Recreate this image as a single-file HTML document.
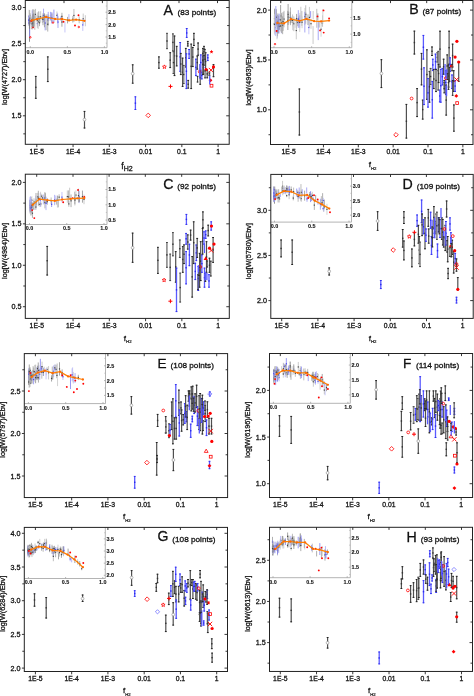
<!DOCTYPE html>
<html><head><meta charset="utf-8"><style>
html,body{margin:0;padding:0;background:#fff;}
svg{display:block;will-change:transform;}
text{font-family:"Liberation Sans", sans-serif;fill:#111;stroke:#111;stroke-width:0.28px;}
</style></head><body>
<svg width="474" height="696" viewBox="0 0 474 696">
<rect width="474" height="696" fill="#fff"/>
<g>
<path d="M35.8 76V98.7" stroke="#505050" stroke-width="1.2" fill="none"/>
<path d="M34.9 76.4H36.7M34.9 98.3H36.7" stroke="#222" stroke-width="1" fill="none"/>
<rect x="35.1" y="86.65" width="1.4" height="1.4" fill="#333"/>
<path d="M47.8 56.5V82" stroke="#505050" stroke-width="1.2" fill="none"/>
<path d="M46.9 56.9H48.7M46.9 81.6H48.7" stroke="#222" stroke-width="1" fill="none"/>
<rect x="47.1" y="68.55" width="1.4" height="1.4" fill="#333"/>
<path d="M84.5 111V128.4" stroke="#505050" stroke-width="1.2" fill="none"/>
<path d="M83.6 111.4H85.4M83.6 128H85.4" stroke="#222" stroke-width="1" fill="none"/>
<circle cx="84.5" cy="119.6" r="1.4" fill="#fff" stroke="#9a9a9a" stroke-width="0.7"/>
<path d="M132.7 64.4V83.6" stroke="#505050" stroke-width="1.2" fill="none"/>
<path d="M131.8 64.8H133.6M131.8 83.2H133.6" stroke="#222" stroke-width="1" fill="none"/>
<circle cx="132.7" cy="73.7" r="1.4" fill="#fff" stroke="#9a9a9a" stroke-width="0.7"/>
<path d="M135.4 96.4V109.9" stroke="#5a5aff" stroke-width="1.3" fill="none"/>
<path d="M134.5 96.8H136.3M134.5 109.5H136.3" stroke="#3030f0" stroke-width="1" fill="none"/>
<rect x="134.7" y="102.45" width="1.4" height="1.4" fill="#2a2aee"/>
<path d="M148.2 113.1L150.5 115.4L148.2 117.7L145.9 115.4Z" fill="none" stroke="#ff0000" stroke-width="0.8"/>
<path d="M164.4 64.9L164.93 66.17L166.3 66.28L165.26 67.18L165.58 68.52L164.4 67.8L163.22 68.52L163.54 67.18L162.5 66.28L163.87 66.17Z" fill="none" stroke="#ff0000" stroke-width="0.8"/>
<path d="M168.5 86.4H172.5M170.5 84.4V88.4" stroke="#ff0000" stroke-width="1"/>
<path d="M158.9 56.5V68.6" stroke="#505050" stroke-width="1.2" fill="none"/>
<path d="M158 56.9H159.8M158 68.2H159.8" stroke="#222" stroke-width="1" fill="none"/>
<rect x="158.2" y="61.85" width="1.4" height="1.4" fill="#333"/>
<path d="M167 32.9V49.1" stroke="#8a8a8a" stroke-width="1.6" fill="none"/>
<path d="M166.1 33.3H167.9M166.1 48.7H167.9" stroke="#444" stroke-width="1" fill="none"/>
<rect x="166.3" y="40.3" width="1.4" height="1.4" fill="#333"/>
<path d="M170.2 52.3V68" stroke="#505050" stroke-width="1.2" fill="none"/>
<path d="M169.3 52.7H171.1M169.3 67.6H171.1" stroke="#222" stroke-width="1" fill="none"/>
<rect x="169.5" y="59.45" width="1.4" height="1.4" fill="#333"/>
<path d="M172.9 33.5V51.3" stroke="#8a8a8a" stroke-width="1.6" fill="none"/>
<path d="M172 33.9H173.8M172 50.9H173.8" stroke="#444" stroke-width="1" fill="none"/>
<rect x="172.2" y="41.7" width="1.4" height="1.4" fill="#333"/>
<path d="M174.5 35.6V76" stroke="#505050" stroke-width="1.2" fill="none"/>
<path d="M173.6 36H175.4M173.6 75.6H175.4" stroke="#222" stroke-width="1" fill="none"/>
<rect x="173.8" y="55.1" width="1.4" height="1.4" fill="#333"/>
<path d="M173.5 51.3V73.9" stroke="#8a8a8a" stroke-width="1.6" fill="none"/>
<path d="M172.6 51.7H174.4M172.6 73.5H174.4" stroke="#444" stroke-width="1" fill="none"/>
<rect x="172.8" y="61.9" width="1.4" height="1.4" fill="#333"/>
<path d="M176.7 45.9V66.3" stroke="#505050" stroke-width="1.2" fill="none"/>
<path d="M175.8 46.3H177.6M175.8 65.9H177.6" stroke="#222" stroke-width="1" fill="none"/>
<rect x="176" y="55.4" width="1.4" height="1.4" fill="#333"/>
<path d="M180.2 42.1V71.7" stroke="#5a5aff" stroke-width="1.3" fill="none"/>
<path d="M179.3 42.5H181.1M179.3 71.3H181.1" stroke="#3030f0" stroke-width="1" fill="none"/>
<rect x="179.5" y="56.2" width="1.4" height="1.4" fill="#2a2aee"/>
<path d="M180.8 53V75" stroke="#505050" stroke-width="1.2" fill="none"/>
<path d="M179.9 53.4H181.7M179.9 74.6H181.7" stroke="#222" stroke-width="1" fill="none"/>
<rect x="180.1" y="63.3" width="1.4" height="1.4" fill="#333"/>
<path d="M182.6 57.7V86.8" stroke="#505050" stroke-width="1.2" fill="none"/>
<path d="M181.7 58.1H183.5M181.7 86.4H183.5" stroke="#222" stroke-width="1" fill="none"/>
<rect x="181.9" y="71.55" width="1.4" height="1.4" fill="#333"/>
<path d="M183.7 65V84" stroke="#8a8a8a" stroke-width="1.6" fill="none"/>
<path d="M182.8 65.4H184.6M182.8 83.6H184.6" stroke="#444" stroke-width="1" fill="none"/>
<rect x="183" y="73.8" width="1.4" height="1.4" fill="#333"/>
<path d="M185.8 48V67.4" stroke="#505050" stroke-width="1.2" fill="none"/>
<path d="M184.9 48.4H186.7M184.9 67H186.7" stroke="#222" stroke-width="1" fill="none"/>
<rect x="185.1" y="57" width="1.4" height="1.4" fill="#333"/>
<path d="M186.7 28.1V37.8" stroke="#5a5aff" stroke-width="1.3" fill="none"/>
<path d="M185.8 28.5H187.6M185.8 37.4H187.6" stroke="#3030f0" stroke-width="1" fill="none"/>
<rect x="186" y="32.25" width="1.4" height="1.4" fill="#2a2aee"/>
<path d="M186.4 53.4V89" stroke="#5a5aff" stroke-width="1.3" fill="none"/>
<path d="M185.5 53.8H187.3M185.5 88.6H187.3" stroke="#3030f0" stroke-width="1" fill="none"/>
<rect x="185.7" y="70.5" width="1.4" height="1.4" fill="#2a2aee"/>
<path d="M187.8 41V46.4" stroke="#505050" stroke-width="1.2" fill="none"/>
<path d="M186.9 41.4H188.7M186.9 46H188.7" stroke="#222" stroke-width="1" fill="none"/>
<rect x="187.1" y="43" width="1.4" height="1.4" fill="#333"/>
<path d="M189.1 49.1V58.8" stroke="#5a5aff" stroke-width="1.3" fill="none"/>
<path d="M188.2 49.5H190M188.2 58.4H190" stroke="#3030f0" stroke-width="1" fill="none"/>
<rect x="188.4" y="53.25" width="1.4" height="1.4" fill="#2a2aee"/>
<path d="M188.2 80V88.5" stroke="#505050" stroke-width="1.2" fill="none"/>
<path d="M187.3 80.4H189.1M187.3 88.1H189.1" stroke="#222" stroke-width="1" fill="none"/>
<rect x="187.5" y="83.55" width="1.4" height="1.4" fill="#333"/>
<path d="M191.2 43.7V89" stroke="#505050" stroke-width="1.2" fill="none"/>
<path d="M190.3 44.1H192.1M190.3 88.6H192.1" stroke="#222" stroke-width="1" fill="none"/>
<rect x="190.5" y="65.65" width="1.4" height="1.4" fill="#333"/>
<path d="M192.8 47V67" stroke="#505050" stroke-width="1.2" fill="none"/>
<path d="M191.9 47.4H193.7M191.9 66.6H193.7" stroke="#222" stroke-width="1" fill="none"/>
<rect x="192.1" y="56.3" width="1.4" height="1.4" fill="#333"/>
<path d="M193.9 32.9V45.9" stroke="#505050" stroke-width="1.2" fill="none"/>
<path d="M193 33.3H194.8M193 45.5H194.8" stroke="#222" stroke-width="1" fill="none"/>
<rect x="193.2" y="38.7" width="1.4" height="1.4" fill="#333"/>
<path d="M195.9 58.8V76" stroke="#5a5aff" stroke-width="1.3" fill="none"/>
<path d="M195 59.2H196.8M195 75.6H196.8" stroke="#3030f0" stroke-width="1" fill="none"/>
<rect x="195.2" y="66.7" width="1.4" height="1.4" fill="#2a2aee"/>
<path d="M198.1 42.6V55.6" stroke="#505050" stroke-width="1.2" fill="none"/>
<path d="M197.2 43H199M197.2 55.2H199" stroke="#222" stroke-width="1" fill="none"/>
<rect x="197.4" y="48.4" width="1.4" height="1.4" fill="#333"/>
<path d="M197.3 55.6V69.5" stroke="#505050" stroke-width="1.2" fill="none"/>
<path d="M196.4 56H198.2M196.4 69.1H198.2" stroke="#222" stroke-width="1" fill="none"/>
<rect x="196.6" y="61.85" width="1.4" height="1.4" fill="#333"/>
<path d="M200.8 54.5V70.6" stroke="#5a5aff" stroke-width="1.3" fill="none"/>
<path d="M199.9 54.9H201.7M199.9 70.2H201.7" stroke="#3030f0" stroke-width="1" fill="none"/>
<rect x="200.1" y="61.85" width="1.4" height="1.4" fill="#2a2aee"/>
<path d="M200.2 70.6V84.7" stroke="#505050" stroke-width="1.2" fill="none"/>
<path d="M199.3 71H201.1M199.3 84.3H201.1" stroke="#222" stroke-width="1" fill="none"/>
<rect x="199.5" y="76.95" width="1.4" height="1.4" fill="#333"/>
<circle cx="199.7" cy="71.7" r="1.4" fill="none" stroke="#ff0000" stroke-width="0.8"/>
<path d="M201.8 71.7V79.3" stroke="#5a5aff" stroke-width="1.3" fill="none"/>
<path d="M200.9 72.1H202.7M200.9 78.9H202.7" stroke="#3030f0" stroke-width="1" fill="none"/>
<rect x="201.1" y="74.8" width="1.4" height="1.4" fill="#2a2aee"/>
<path d="M202.9 48V65.3" stroke="#505050" stroke-width="1.2" fill="none"/>
<path d="M202 48.4H203.8M202 64.9H203.8" stroke="#222" stroke-width="1" fill="none"/>
<rect x="202.2" y="55.95" width="1.4" height="1.4" fill="#333"/>
<path d="M204 45.9V52.3" stroke="#505050" stroke-width="1.2" fill="none"/>
<path d="M203.1 46.3H204.9M203.1 51.9H204.9" stroke="#222" stroke-width="1" fill="none"/>
<rect x="203.3" y="48.4" width="1.4" height="1.4" fill="#333"/>
<path d="M205.6 52.3V70.6" stroke="#505050" stroke-width="1.2" fill="none"/>
<path d="M204.7 52.7H206.5M204.7 70.2H206.5" stroke="#222" stroke-width="1" fill="none"/>
<rect x="204.9" y="60.75" width="1.4" height="1.4" fill="#333"/>
<path d="M203.5 56V68" stroke="#5a5aff" stroke-width="1.3" fill="none"/>
<path d="M202.6 56.4H204.4M202.6 67.6H204.4" stroke="#3030f0" stroke-width="1" fill="none"/>
<rect x="202.8" y="61.3" width="1.4" height="1.4" fill="#2a2aee"/>
<path d="M207.8 54.5V61" stroke="#5a5aff" stroke-width="1.3" fill="none"/>
<path d="M206.9 54.9H208.7M206.9 60.6H208.7" stroke="#3030f0" stroke-width="1" fill="none"/>
<rect x="207.1" y="57.05" width="1.4" height="1.4" fill="#2a2aee"/>
<path d="M207.2 69.6V78.2" stroke="#505050" stroke-width="1.2" fill="none"/>
<path d="M206.3 70H208.1M206.3 77.8H208.1" stroke="#222" stroke-width="1" fill="none"/>
<rect x="206.5" y="73.2" width="1.4" height="1.4" fill="#333"/>
<path d="M209.4 71.7V76" stroke="#8a8a8a" stroke-width="1.6" fill="none"/>
<path d="M208.5 72.1H210.3M208.5 75.6H210.3" stroke="#444" stroke-width="1" fill="none"/>
<rect x="208.7" y="73.15" width="1.4" height="1.4" fill="#333"/>
<circle cx="206.1" cy="69.6" r="1.6" fill="#ff0000"/>
<path d="M211.5 49.8L212.03 51.07L213.4 51.18L212.36 52.08L212.68 53.42L211.5 52.7L210.32 53.42L210.64 52.08L209.6 51.18L210.97 51.07Z" fill="#ff0000"/>
<path d="M208.8 67.9L213.2 72.3M213.2 67.9L208.8 72.3" stroke="#ff0000" stroke-width="0.9"/>
<path d="M213.5 64.2V77.1" stroke="#505050" stroke-width="1.2" fill="none"/>
<path d="M212.6 64.6H214.4M212.6 76.7H214.4" stroke="#222" stroke-width="1" fill="none"/>
<circle cx="213.5" cy="66.9" r="1.6" fill="#ff0000"/>
<path d="M210.5 78.4L212.4 80.3L210.5 82.2L208.6 80.3Z" fill="#ff0000"/>
<rect x="210.1" y="84.3" width="2.8" height="2.8" fill="none" stroke="#ff0000" stroke-width="0.8"/>
<path d="M205.06 70.54V78.29" stroke="#505050" stroke-width="1.1" fill="none"/>
<path d="M204.16 70.94H205.96M204.16 77.89H205.96" stroke="#222" stroke-width="0.9" fill="none"/>
<path d="M203.16 59.48V74.82" stroke="#505050" stroke-width="1.1" fill="none"/>
<path d="M202.26 59.88H204.06M202.26 74.42H204.06" stroke="#222" stroke-width="0.9" fill="none"/>
<path d="M202.95 52.81V61.21" stroke="#505050" stroke-width="1.1" fill="none"/>
<path d="M202.05 53.21H203.85M202.05 60.81H203.85" stroke="#222" stroke-width="0.9" fill="none"/>
<path d="M204.86 48.96V59.68" stroke="#505050" stroke-width="1.1" fill="none"/>
<path d="M203.96 49.36H205.76M203.96 59.28H205.76" stroke="#222" stroke-width="0.9" fill="none"/>
<path d="M203.38 59.65V74.38" stroke="#505050" stroke-width="1.1" fill="none"/>
<path d="M202.48 60.05H204.28M202.48 73.98H204.28" stroke="#222" stroke-width="0.9" fill="none"/>
<path d="M197.53 75.93V82.42" stroke="#505050" stroke-width="1.1" fill="none"/>
<path d="M196.63 76.33H198.43M196.63 82.02H198.43" stroke="#222" stroke-width="0.9" fill="none"/>
<path d="M199.82 64.05V78.48" stroke="#5a5aff" stroke-width="1.3" fill="none"/>
<path d="M209.71 75.79V84.42" stroke="#5a5aff" stroke-width="1.3" fill="none"/>
<path d="M204.01 54.97V65.61" stroke="#505050" stroke-width="1.1" fill="none"/>
<path d="M203.11 55.37H204.91M203.11 65.21H204.91" stroke="#222" stroke-width="0.9" fill="none"/>
<path d="M202.98 63.83V74.99" stroke="#505050" stroke-width="1.1" fill="none"/>
<path d="M202.08 64.23H203.88M202.08 74.59H203.88" stroke="#222" stroke-width="0.9" fill="none"/>
</g>
<g>
<path d="M30.54 19.51V23.56" stroke="#969696" stroke-width="0.75"/>
<path d="M43.55 8.66V22.24" stroke="#8c8cf0" stroke-width="0.75"/>
<rect x="42.95" y="14.85" width="1.2" height="1.2" fill="#4848e8"/>
<path d="M31.08 19.28V29.03" stroke="#b8b8b8" stroke-width="0.75"/>
<path d="M35.3 8.89V19.82" stroke="#969696" stroke-width="0.75"/>
<rect x="34.7" y="13.76" width="1.2" height="1.2" fill="#444"/>
<path d="M40.63 11.21V22.43" stroke="#b8b8b8" stroke-width="0.75"/>
<rect x="40.03" y="16.22" width="1.2" height="1.2" fill="#444"/>
<path d="M29.66 10.05V25.98" stroke="#969696" stroke-width="0.75"/>
<rect x="29.06" y="17.42" width="1.2" height="1.2" fill="#444"/>
<path d="M34.03 15.48V20.99" stroke="#888" stroke-width="0.75"/>
<path d="M51.96 13.43V21.8" stroke="#888" stroke-width="0.75"/>
<path d="M46.18 14.26V30.14" stroke="#a8a8a8" stroke-width="0.75"/>
<path d="M29.02 19.11V25.48" stroke="#c4c4c4" stroke-width="0.75"/>
<rect x="28.42" y="21.7" width="1.2" height="1.2" fill="#444"/>
<path d="M32.22 10.26V17.08" stroke="#8c8cf0" stroke-width="0.75"/>
<path d="M32.04 16.53V26.01" stroke="#b4b4f6" stroke-width="0.75"/>
<rect x="31.44" y="20.67" width="1.2" height="1.2" fill="#4848e8"/>
<path d="M29.99 14.52V23.45" stroke="#c4c4c4" stroke-width="0.75"/>
<rect x="29.39" y="18.39" width="1.2" height="1.2" fill="#444"/>
<path d="M39.52 19.43V26.17" stroke="#969696" stroke-width="0.75"/>
<rect x="38.92" y="22.2" width="1.2" height="1.2" fill="#444"/>
<path d="M38.88 16.43V21.61" stroke="#a8a8a8" stroke-width="0.75"/>
<rect x="38.28" y="18.42" width="1.2" height="1.2" fill="#444"/>
<path d="M32.64 14.27V26.63" stroke="#969696" stroke-width="0.75"/>
<rect x="32.04" y="19.85" width="1.2" height="1.2" fill="#444"/>
<path d="M29.12 16.3V22.61" stroke="#b8b8b8" stroke-width="0.75"/>
<rect x="28.52" y="18.85" width="1.2" height="1.2" fill="#444"/>
<path d="M56.94 11.49V19.22" stroke="#b8b8b8" stroke-width="0.75"/>
<rect x="56.34" y="14.75" width="1.2" height="1.2" fill="#444"/>
<path d="M47.85 14.07V25.85" stroke="#b8b8b8" stroke-width="0.75"/>
<rect x="47.25" y="19.36" width="1.2" height="1.2" fill="#444"/>
<path d="M57.99 16.23V27.91" stroke="#8c8cf0" stroke-width="0.75"/>
<rect x="57.39" y="21.47" width="1.2" height="1.2" fill="#4848e8"/>
<path d="M37.02 14.71V22.06" stroke="#b8b8b8" stroke-width="0.75"/>
<path d="M53.9 9.58V22.18" stroke="#7878ee" stroke-width="0.75"/>
<path d="M38.76 11.38V22.41" stroke="#888" stroke-width="0.75"/>
<rect x="38.16" y="16.29" width="1.2" height="1.2" fill="#444"/>
<path d="M29.76 13.87V17.96" stroke="#c4c4c4" stroke-width="0.75"/>
<rect x="29.16" y="15.31" width="1.2" height="1.2" fill="#444"/>
<path d="M48.22 11.9V21.27" stroke="#8c8cf0" stroke-width="0.75"/>
<rect x="47.62" y="15.99" width="1.2" height="1.2" fill="#4848e8"/>
<path d="M37.35 20.74V26.4" stroke="#b4b4f6" stroke-width="0.75"/>
<rect x="36.75" y="22.97" width="1.2" height="1.2" fill="#4848e8"/>
<path d="M29.4 20.07V28.59" stroke="#8c8cf0" stroke-width="0.75"/>
<rect x="28.8" y="23.73" width="1.2" height="1.2" fill="#4848e8"/>
<path d="M33.84 13.63V25.88" stroke="#a0a0f4" stroke-width="0.75"/>
<rect x="33.24" y="19.16" width="1.2" height="1.2" fill="#4848e8"/>
<path d="M29.8 14.92V24.28" stroke="#888" stroke-width="0.75"/>
<rect x="29.2" y="19" width="1.2" height="1.2" fill="#444"/>
<path d="M29.09 9.83V22.57" stroke="#b8b8b8" stroke-width="0.75"/>
<rect x="28.49" y="15.6" width="1.2" height="1.2" fill="#444"/>
<path d="M29.56 14.98V24.26" stroke="#a0a0f4" stroke-width="0.75"/>
<rect x="28.96" y="19.02" width="1.2" height="1.2" fill="#4848e8"/>
<path d="M61.01 16.22V20.83" stroke="#8c8cf0" stroke-width="0.75"/>
<rect x="60.41" y="17.93" width="1.2" height="1.2" fill="#4848e8"/>
<path d="M51.84 12.17V23.52" stroke="#7878ee" stroke-width="0.75"/>
<rect x="51.24" y="17.24" width="1.2" height="1.2" fill="#4848e8"/>
<path d="M79.18 16.39V23.27" stroke="#a8a8a8" stroke-width="0.75"/>
<rect x="78.58" y="19.23" width="1.2" height="1.2" fill="#444"/>
<path d="M42.4 15.22V22.93" stroke="#b8b8b8" stroke-width="0.75"/>
<rect x="41.8" y="18.47" width="1.2" height="1.2" fill="#444"/>
<path d="M67.55 16.92V23.42" stroke="#888" stroke-width="0.75"/>
<rect x="66.95" y="19.57" width="1.2" height="1.2" fill="#444"/>
<path d="M45.13 15.71V30.35" stroke="#8c8cf0" stroke-width="0.75"/>
<rect x="44.53" y="22.43" width="1.2" height="1.2" fill="#4848e8"/>
<path d="M32.64 22.05V26.67" stroke="#888" stroke-width="0.75"/>
<path d="M50.19 15.04V21.02" stroke="#c4c4c4" stroke-width="0.75"/>
<rect x="49.59" y="17.43" width="1.2" height="1.2" fill="#444"/>
<path d="M85.34 15.25V26.25" stroke="#b8b8b8" stroke-width="0.75"/>
<path d="M72.82 16V22.56" stroke="#969696" stroke-width="0.75"/>
<rect x="72.22" y="18.68" width="1.2" height="1.2" fill="#444"/>
<path d="M44.49 13.33V19.28" stroke="#c4c4c4" stroke-width="0.75"/>
<rect x="43.89" y="15.71" width="1.2" height="1.2" fill="#444"/>
<path d="M32.01 16.8V22.58" stroke="#969696" stroke-width="0.75"/>
<rect x="31.41" y="19.09" width="1.2" height="1.2" fill="#444"/>
<path d="M61.91 12.81V19.94" stroke="#969696" stroke-width="0.75"/>
<rect x="61.31" y="15.77" width="1.2" height="1.2" fill="#444"/>
<path d="M68.91 14.17V21.17" stroke="#a0a0f4" stroke-width="0.75"/>
<path d="M29 20.4V26" stroke="#a8a8a8" stroke-width="0.75"/>
<rect x="28.4" y="22.6" width="1.2" height="1.2" fill="#444"/>
<path d="M32.13 18.4V29.45" stroke="#888" stroke-width="0.75"/>
<rect x="31.53" y="23.32" width="1.2" height="1.2" fill="#444"/>
<path d="M50.47 11.85V20.06" stroke="#8c8cf0" stroke-width="0.75"/>
<path d="M42.99 13.36V25.2" stroke="#969696" stroke-width="0.75"/>
<rect x="42.39" y="18.68" width="1.2" height="1.2" fill="#444"/>
<path d="M30.09 13.2V23.1" stroke="#a8a8a8" stroke-width="0.75"/>
<rect x="29.49" y="17.55" width="1.2" height="1.2" fill="#444"/>
<path d="M83.19 13.56V24.05" stroke="#b8b8b8" stroke-width="0.75"/>
<rect x="82.59" y="18.21" width="1.2" height="1.2" fill="#444"/>
<path d="M33.49 18.22V28.09" stroke="#969696" stroke-width="0.75"/>
<rect x="32.89" y="22.55" width="1.2" height="1.2" fill="#444"/>
<path d="M32.45 18.39V27.91" stroke="#888" stroke-width="0.75"/>
<rect x="31.85" y="22.55" width="1.2" height="1.2" fill="#444"/>
<path d="M48.32 14.88V25.44" stroke="#b8b8b8" stroke-width="0.75"/>
<path d="M37.67 16.12V20.99" stroke="#a8a8a8" stroke-width="0.75"/>
<rect x="37.07" y="17.95" width="1.2" height="1.2" fill="#444"/>
<path d="M29.01 15.28V24.76" stroke="#b4b4f6" stroke-width="0.75"/>
<rect x="28.41" y="19.42" width="1.2" height="1.2" fill="#4848e8"/>
<path d="M44.45 13.54V27.27" stroke="#888" stroke-width="0.75"/>
<path d="M73.93 8.97V21.96" stroke="#a8a8a8" stroke-width="0.75"/>
<rect x="73.33" y="14.86" width="1.2" height="1.2" fill="#444"/>
<path d="M64.94 21.6V32.44" stroke="#b4b4f6" stroke-width="0.75"/>
<path d="M38.18 14.98V28.86" stroke="#b8b8b8" stroke-width="0.75"/>
<rect x="37.58" y="21.32" width="1.2" height="1.2" fill="#444"/>
<path d="M61.93 17.31V26.72" stroke="#888" stroke-width="0.75"/>
<rect x="61.33" y="21.41" width="1.2" height="1.2" fill="#444"/>
<path d="M82.81 18.88V30.97" stroke="#b4b4f6" stroke-width="0.75"/>
<rect x="82.21" y="24.32" width="1.2" height="1.2" fill="#4848e8"/>
<path d="M47.76 16.92V31.56" stroke="#969696" stroke-width="0.75"/>
<rect x="47.16" y="23.64" width="1.2" height="1.2" fill="#444"/>
<path d="M34.85 16.63V29.95" stroke="#b8b8b8" stroke-width="0.75"/>
<path d="M30.41 15.51V20.37" stroke="#c4c4c4" stroke-width="0.75"/>
<path d="M57.58 13.46V23.34" stroke="#8c8cf0" stroke-width="0.75"/>
<path d="M48.33 15.56V20.66" stroke="#a0a0f4" stroke-width="0.75"/>
<rect x="47.73" y="17.51" width="1.2" height="1.2" fill="#4848e8"/>
<path d="M37.33 12.36V28.07" stroke="#b8b8b8" stroke-width="0.75"/>
<rect x="36.73" y="19.61" width="1.2" height="1.2" fill="#444"/>
<path d="M33.57 13.51V27.7" stroke="#888" stroke-width="0.75"/>
<rect x="32.97" y="20.01" width="1.2" height="1.2" fill="#444"/>
<path d="M29.03 16.91V23.95" stroke="#7878ee" stroke-width="0.75"/>
<rect x="28.43" y="19.83" width="1.2" height="1.2" fill="#4848e8"/>
<path d="M29.5 17.7V41.8" stroke="#707070" stroke-width="0.8"/>
<path d="M29.7 29V37" stroke="#8080f0" stroke-width="0.8"/>
<path d="M33 9V24" stroke="#909090" stroke-width="0.8"/>
<path d="M34 10V26" stroke="#a0a0a0" stroke-width="0.8"/>
<circle cx="30.4" cy="37.3" r="0.75" fill="none" stroke="#ff0000" stroke-width="0.8"/>
<path d="M32.25 26.75L33.75 28.25M33.75 26.75L32.25 28.25" stroke="#ff0000" stroke-width="0.9"/>
<circle cx="31.2" cy="20.9" r="0.95" fill="#ff0000"/>
<circle cx="63.5" cy="21.8" r="0.95" fill="#ff0000"/>
<circle cx="75" cy="25.5" r="0.95" fill="#ff0000"/>
<circle cx="78.5" cy="15.2" r="0.95" fill="#ff0000"/>
<circle cx="78.8" cy="27" r="0.75" fill="none" stroke="#ff0000" stroke-width="0.8"/>
<circle cx="53" cy="22.6" r="0.75" fill="none" stroke="#ff0000" stroke-width="0.8"/>
<polyline points="32,20.4 37,19.2 46.1,17 55.1,19 62.1,19 69.1,20.4 76.1,19.6 84.5,20.8" fill="none" stroke="#ff8000" stroke-width="1.25" stroke-linejoin="round"/>
<circle cx="32" cy="20.4" r="1.15" fill="#ff6a00"/>
<circle cx="37" cy="19.2" r="1.15" fill="#ff6a00"/>
<circle cx="46.1" cy="17" r="1.15" fill="#ff6a00"/>
<circle cx="55.1" cy="19" r="1.15" fill="#ff6a00"/>
<circle cx="62.1" cy="19" r="1.15" fill="#ff6a00"/>
<circle cx="69.1" cy="20.4" r="1.15" fill="#ff6a00"/>
<circle cx="76.1" cy="19.6" r="1.15" fill="#ff6a00"/>
<circle cx="84.5" cy="20.8" r="1.15" fill="#ff6a00"/>
<path d="M25.3 47.7H107V0.5" stroke="#b4b4b4" stroke-width="1" fill="none"/>
<path d="M107 43.2h-1.2" stroke="#aaa" stroke-width="0.6"/>
<path d="M107 30.8h-1.2" stroke="#aaa" stroke-width="0.6"/>
<path d="M107 18.4h-1.2" stroke="#aaa" stroke-width="0.6"/>
<path d="M107 6h-1.2" stroke="#aaa" stroke-width="0.6"/>
<path d="M30.3 47.7v-1.5" stroke="#999" stroke-width="0.7"/>
<text x="30.3" y="53.6" font-size="5.4" font-weight="bold" text-anchor="middle" style="stroke-width:0.1px">0.0</text>
<path d="M67.35 47.7v-1.5" stroke="#999" stroke-width="0.7"/>
<text x="67.35" y="53.6" font-size="5.4" font-weight="bold" text-anchor="middle" style="stroke-width:0.1px">0.5</text>
<path d="M104.4 47.7v-1.5" stroke="#999" stroke-width="0.7"/>
<text x="104.4" y="53.6" font-size="5.4" font-weight="bold" text-anchor="middle" style="stroke-width:0.1px">1.0</text>
<path d="M107 37h-1.5" stroke="#999" stroke-width="0.7"/>
<text x="108.3" y="38.9" font-size="5.4" font-weight="bold" style="stroke-width:0.12px">1.5</text>
<path d="M107 24.6h-1.5" stroke="#999" stroke-width="0.7"/>
<text x="108.3" y="26.5" font-size="5.4" font-weight="bold" style="stroke-width:0.12px">2.0</text>
<path d="M107 12.2h-1.5" stroke="#999" stroke-width="0.7"/>
<text x="108.3" y="14.1" font-size="5.4" font-weight="bold" style="stroke-width:0.12px">2.5</text>
</g>
<rect x="25.3" y="0.5" width="203.9" height="143.8" fill="none" stroke="#222" stroke-width="1"/>
<path d="M22.9 115.8H25.3M229.2 115.8h-3" stroke="#222" stroke-width="0.9"/>
<text x="21.5" y="118.3" font-size="7.2" text-anchor="end">1.5</text>
<path d="M22.9 79.7H25.3M229.2 79.7h-3" stroke="#222" stroke-width="0.9"/>
<text x="21.5" y="82.2" font-size="7.2" text-anchor="end">2.0</text>
<path d="M22.9 43.6H25.3M229.2 43.6h-3" stroke="#222" stroke-width="0.9"/>
<text x="21.5" y="46.1" font-size="7.2" text-anchor="end">2.5</text>
<path d="M22.9 7.5H25.3M229.2 7.5h-3" stroke="#222" stroke-width="0.9"/>
<text x="21.5" y="10" font-size="7.2" text-anchor="end">3.0</text>
<path d="M23.3 133.85H25.3M229.2 133.85h-2" stroke="#222" stroke-width="0.9"/>
<path d="M23.3 97.75H25.3M229.2 97.75h-2" stroke="#222" stroke-width="0.9"/>
<path d="M23.3 61.65H25.3M229.2 61.65h-2" stroke="#222" stroke-width="0.9"/>
<path d="M23.3 25.55H25.3M229.2 25.55h-2" stroke="#222" stroke-width="0.9"/>
<path d="M36.8 144.3v2.8" stroke="#222" stroke-width="0.9"/>
<text x="36.8" y="154.1" font-size="6.8" text-anchor="middle">1E-5</text>
<path d="M73.06 144.3v2.8" stroke="#222" stroke-width="0.9"/>
<text x="73.06" y="154.1" font-size="6.8" text-anchor="middle">1E-4</text>
<path d="M109.32 144.3v2.8" stroke="#222" stroke-width="0.9"/>
<text x="109.32" y="154.1" font-size="6.8" text-anchor="middle">1E-3</text>
<path d="M145.58 144.3v2.8" stroke="#222" stroke-width="0.9"/>
<text x="145.58" y="154.1" font-size="6.8" text-anchor="middle">0.01</text>
<path d="M181.84 144.3v2.8" stroke="#222" stroke-width="0.9"/>
<text x="181.84" y="154.1" font-size="6.8" text-anchor="middle">0.1</text>
<path d="M218.1 144.3v2.8" stroke="#222" stroke-width="0.9"/>
<text x="218.1" y="154.1" font-size="6.8" text-anchor="middle">1</text>
<path d="M64 0.5v2.6" stroke="#222" stroke-width="0.9"/>
<path d="M102.4 0.5v2.6" stroke="#222" stroke-width="0.9"/>
<path d="M140.7 0.5v2.6" stroke="#222" stroke-width="0.9"/>
<path d="M179 0.5v2.6" stroke="#222" stroke-width="0.9"/>
<path d="M217.5 0.5v2.6" stroke="#222" stroke-width="0.9"/>
<text transform="translate(7,77) rotate(-90)" font-size="7.3" text-anchor="middle" textLength="56" lengthAdjust="spacingAndGlyphs">log[W(4727)/Ebv]</text>
<text x="121.3" y="169" font-size="8.6">f<tspan font-size="7" dy="1.8">H2</tspan></text>
<text x="163.4" y="15.3" font-size="14.2">A</text>
<text x="177.5" y="15.4" font-size="7.8" textLength="38.74" lengthAdjust="spacingAndGlyphs">(83 points)</text>
<g>
<path d="M299.4 88.6V135.4" stroke="#505050" stroke-width="1.2" fill="none"/>
<path d="M298.5 89H300.3M298.5 135H300.3" stroke="#222" stroke-width="1" fill="none"/>
<rect x="298.7" y="111.3" width="1.4" height="1.4" fill="#333"/>
<path d="M381.4 59.3V88" stroke="#505050" stroke-width="1.2" fill="none"/>
<path d="M380.5 59.7H382.3M380.5 87.6H382.3" stroke="#222" stroke-width="1" fill="none"/>
<circle cx="381.4" cy="73.5" r="1.4" fill="#fff" stroke="#9a9a9a" stroke-width="0.7"/>
<path d="M396 132.5L398.3 134.8L396 137.1L393.7 134.8Z" fill="none" stroke="#ff0000" stroke-width="0.8"/>
<circle cx="411.6" cy="98.5" r="1.4" fill="none" stroke="#ff0000" stroke-width="0.8"/>
<path d="M406.4 104V138.5" stroke="#505050" stroke-width="1.2" fill="none"/>
<path d="M405.5 104.4H407.3M405.5 138.1H407.3" stroke="#222" stroke-width="1" fill="none"/>
<rect x="405.7" y="120.55" width="1.4" height="1.4" fill="#333"/>
<path d="M414.4 30.7V54.4" stroke="#505050" stroke-width="1.2" fill="none"/>
<path d="M413.5 31.1H415.3M413.5 54H415.3" stroke="#222" stroke-width="1" fill="none"/>
<rect x="413.7" y="41.85" width="1.4" height="1.4" fill="#333"/>
<path d="M417.1 88.2V117" stroke="#505050" stroke-width="1.2" fill="none"/>
<path d="M416.2 88.6H418M416.2 116.6H418" stroke="#222" stroke-width="1" fill="none"/>
<rect x="416.4" y="101.9" width="1.4" height="1.4" fill="#333"/>
<path d="M421.5 53V85.3" stroke="#505050" stroke-width="1.2" fill="none"/>
<path d="M420.6 53.4H422.4M420.6 84.9H422.4" stroke="#222" stroke-width="1" fill="none"/>
<rect x="420.8" y="68.45" width="1.4" height="1.4" fill="#333"/>
<path d="M422.7 99.7V119.5" stroke="#505050" stroke-width="1.2" fill="none"/>
<path d="M421.8 100.1H423.6M421.8 119.1H423.6" stroke="#222" stroke-width="1" fill="none"/>
<rect x="422" y="108.9" width="1.4" height="1.4" fill="#333"/>
<path d="M423.4 35V59.5" stroke="#5a5aff" stroke-width="1.3" fill="none"/>
<path d="M422.5 35.4H424.3M422.5 59.1H424.3" stroke="#3030f0" stroke-width="1" fill="none"/>
<rect x="422.7" y="46.55" width="1.4" height="1.4" fill="#2a2aee"/>
<path d="M424 67.4V105" stroke="#5a5aff" stroke-width="1.3" fill="none"/>
<path d="M423.1 67.8H424.9M423.1 104.6H424.9" stroke="#3030f0" stroke-width="1" fill="none"/>
<rect x="423.3" y="85.5" width="1.4" height="1.4" fill="#2a2aee"/>
<path d="M426.9 49.4V99.7" stroke="#505050" stroke-width="1.2" fill="none"/>
<path d="M426 49.8H427.8M426 99.3H427.8" stroke="#222" stroke-width="1" fill="none"/>
<rect x="426.2" y="73.85" width="1.4" height="1.4" fill="#333"/>
<path d="M428 78.2V107.5" stroke="#5a5aff" stroke-width="1.3" fill="none"/>
<path d="M427.1 78.6H428.9M427.1 107.1H428.9" stroke="#3030f0" stroke-width="1" fill="none"/>
<rect x="427.3" y="92.15" width="1.4" height="1.4" fill="#2a2aee"/>
<path d="M429.5 71V102.6" stroke="#505050" stroke-width="1.2" fill="none"/>
<path d="M428.6 71.4H430.4M428.6 102.2H430.4" stroke="#222" stroke-width="1" fill="none"/>
<rect x="428.8" y="86.1" width="1.4" height="1.4" fill="#333"/>
<path d="M430.6 68V85" stroke="#8a8a8a" stroke-width="1.6" fill="none"/>
<path d="M429.7 68.4H431.5M429.7 84.6H431.5" stroke="#444" stroke-width="1" fill="none"/>
<rect x="429.9" y="75.8" width="1.4" height="1.4" fill="#333"/>
<path d="M432 46.6V55.9" stroke="#505050" stroke-width="1.2" fill="none"/>
<path d="M431.1 47H432.9M431.1 55.5H432.9" stroke="#222" stroke-width="1" fill="none"/>
<rect x="431.3" y="50.55" width="1.4" height="1.4" fill="#333"/>
<path d="M432.8 58.8V71" stroke="#5a5aff" stroke-width="1.3" fill="none"/>
<path d="M431.9 59.2H433.7M431.9 70.6H433.7" stroke="#3030f0" stroke-width="1" fill="none"/>
<rect x="432.1" y="64.2" width="1.4" height="1.4" fill="#2a2aee"/>
<path d="M432.3 81V118.5" stroke="#5a5aff" stroke-width="1.3" fill="none"/>
<path d="M431.4 81.4H433.2M431.4 118.1H433.2" stroke="#3030f0" stroke-width="1" fill="none"/>
<rect x="431.6" y="99.05" width="1.4" height="1.4" fill="#2a2aee"/>
<path d="M433.8 69V89" stroke="#505050" stroke-width="1.2" fill="none"/>
<path d="M432.9 69.4H434.7M432.9 88.6H434.7" stroke="#222" stroke-width="1" fill="none"/>
<rect x="433.1" y="78.3" width="1.4" height="1.4" fill="#333"/>
<path d="M435.5 53.7V69.5" stroke="#5a5aff" stroke-width="1.3" fill="none"/>
<path d="M434.6 54.1H436.4M434.6 69.1H436.4" stroke="#3030f0" stroke-width="1" fill="none"/>
<rect x="434.8" y="60.9" width="1.4" height="1.4" fill="#2a2aee"/>
<path d="M436 69V92" stroke="#505050" stroke-width="1.2" fill="none"/>
<path d="M435.1 69.4H436.9M435.1 91.6H436.9" stroke="#222" stroke-width="1" fill="none"/>
<rect x="435.3" y="79.8" width="1.4" height="1.4" fill="#333"/>
<path d="M437.4 52.3V62.4" stroke="#505050" stroke-width="1.2" fill="none"/>
<path d="M436.5 52.7H438.3M436.5 62H438.3" stroke="#222" stroke-width="1" fill="none"/>
<rect x="436.7" y="56.65" width="1.4" height="1.4" fill="#333"/>
<path d="M438.2 50.9V90.4" stroke="#8a8a8a" stroke-width="1.6" fill="none"/>
<path d="M437.3 51.3H439.1M437.3 90H439.1" stroke="#444" stroke-width="1" fill="none"/>
<rect x="437.5" y="69.95" width="1.4" height="1.4" fill="#333"/>
<path d="M438.6 64V83" stroke="#505050" stroke-width="1.2" fill="none"/>
<path d="M437.7 64.4H439.5M437.7 82.6H439.5" stroke="#222" stroke-width="1" fill="none"/>
<rect x="437.9" y="72.8" width="1.4" height="1.4" fill="#333"/>
<path d="M440 30.8V67.4" stroke="#505050" stroke-width="1.2" fill="none"/>
<path d="M439.1 31.2H440.9M439.1 67H440.9" stroke="#222" stroke-width="1" fill="none"/>
<rect x="439.3" y="48.4" width="1.4" height="1.4" fill="#333"/>
<path d="M439.8 89.7V102.3" stroke="#5a5aff" stroke-width="1.3" fill="none"/>
<path d="M438.9 90.1H440.7M438.9 101.9H440.7" stroke="#3030f0" stroke-width="1" fill="none"/>
<rect x="439.1" y="95.3" width="1.4" height="1.4" fill="#2a2aee"/>
<path d="M440.8 68.9V102.6" stroke="#5a5aff" stroke-width="1.3" fill="none"/>
<path d="M439.9 69.3H441.7M439.9 102.2H441.7" stroke="#3030f0" stroke-width="1" fill="none"/>
<rect x="440.1" y="85.05" width="1.4" height="1.4" fill="#2a2aee"/>
<path d="M442.4 68V85.3" stroke="#5a5aff" stroke-width="1.3" fill="none"/>
<path d="M441.5 68.4H443.3M441.5 84.9H443.3" stroke="#3030f0" stroke-width="1" fill="none"/>
<rect x="441.7" y="75.95" width="1.4" height="1.4" fill="#2a2aee"/>
<path d="M443.6 58.8V74.6" stroke="#505050" stroke-width="1.2" fill="none"/>
<path d="M442.7 59.2H444.5M442.7 74.2H444.5" stroke="#222" stroke-width="1" fill="none"/>
<rect x="442.9" y="66" width="1.4" height="1.4" fill="#333"/>
<path d="M445.8 70.3V94.7" stroke="#5a5aff" stroke-width="1.3" fill="none"/>
<path d="M444.9 70.7H446.7M444.9 94.3H446.7" stroke="#3030f0" stroke-width="1" fill="none"/>
<rect x="445.1" y="81.8" width="1.4" height="1.4" fill="#2a2aee"/>
<path d="M446.2 84.7V115.5" stroke="#505050" stroke-width="1.2" fill="none"/>
<path d="M445.3 85.1H447.1M445.3 115.1H447.1" stroke="#222" stroke-width="1" fill="none"/>
<rect x="445.5" y="99.4" width="1.4" height="1.4" fill="#333"/>
<path d="M447.2 54.5V77.5" stroke="#505050" stroke-width="1.2" fill="none"/>
<path d="M446.3 54.9H448.1M446.3 77.1H448.1" stroke="#222" stroke-width="1" fill="none"/>
<rect x="446.5" y="65.3" width="1.4" height="1.4" fill="#333"/>
<path d="M449.1 30.8V64.5" stroke="#505050" stroke-width="1.2" fill="none"/>
<path d="M448.2 31.2H450M448.2 64.1H450" stroke="#222" stroke-width="1" fill="none"/>
<rect x="448.4" y="46.95" width="1.4" height="1.4" fill="#333"/>
<path d="M448.6 64.5V87.5" stroke="#505050" stroke-width="1.2" fill="none"/>
<path d="M447.7 64.9H449.5M447.7 87.1H449.5" stroke="#222" stroke-width="1" fill="none"/>
<rect x="447.9" y="75.3" width="1.4" height="1.4" fill="#333"/>
<path d="M450.1 57.4V71.7" stroke="#5a5aff" stroke-width="1.3" fill="none"/>
<path d="M449.2 57.8H451M449.2 71.3H451" stroke="#3030f0" stroke-width="1" fill="none"/>
<rect x="449.4" y="63.85" width="1.4" height="1.4" fill="#2a2aee"/>
<path d="M452.6 43.7V67.4" stroke="#505050" stroke-width="1.2" fill="none"/>
<path d="M451.7 44.1H453.5M451.7 67H453.5" stroke="#222" stroke-width="1" fill="none"/>
<rect x="451.9" y="54.85" width="1.4" height="1.4" fill="#333"/>
<path d="M452 74.6V89" stroke="#5a5aff" stroke-width="1.3" fill="none"/>
<path d="M451.1 75H452.9M451.1 88.6H452.9" stroke="#3030f0" stroke-width="1" fill="none"/>
<rect x="451.3" y="81.1" width="1.4" height="1.4" fill="#2a2aee"/>
<path d="M453.7 70.3V91.8" stroke="#505050" stroke-width="1.2" fill="none"/>
<path d="M452.8 70.7H454.6M452.8 91.4H454.6" stroke="#222" stroke-width="1" fill="none"/>
<rect x="453" y="80.35" width="1.4" height="1.4" fill="#333"/>
<path d="M455.1 80.3V91.8" stroke="#5a5aff" stroke-width="1.3" fill="none"/>
<path d="M454.2 80.7H456M454.2 91.4H456" stroke="#3030f0" stroke-width="1" fill="none"/>
<rect x="454.4" y="85.35" width="1.4" height="1.4" fill="#2a2aee"/>
<path d="M453.9 104.6V131.6" stroke="#505050" stroke-width="1.2" fill="none"/>
<path d="M453 105H454.8M453 131.2H454.8" stroke="#222" stroke-width="1" fill="none"/>
<rect x="453.2" y="117.4" width="1.4" height="1.4" fill="#333"/>
<circle cx="456.9" cy="41.3" r="1.6" fill="#ff0000"/>
<circle cx="455.1" cy="57.1" r="1.6" fill="#ff0000"/>
<path d="M458.7 61.7V81.8" stroke="#505050" stroke-width="1.2" fill="none"/>
<path d="M457.8 62.1H459.6M457.8 81.4H459.6" stroke="#222" stroke-width="1" fill="none"/>
<circle cx="458.7" cy="62" r="1.6" fill="#ff0000"/>
<circle cx="451.5" cy="66" r="1.6" fill="#ff0000"/>
<circle cx="445.8" cy="78.2" r="1.4" fill="none" stroke="#ff0000" stroke-width="0.8"/>
<path d="M454.4 77.4L458.8 81.8M458.8 77.4L454.4 81.8" stroke="#ff0000" stroke-width="0.9"/>
<path d="M456.3 94L458.2 95.9L456.3 97.8L454.4 95.9Z" fill="#ff0000"/>
<rect x="455.8" y="101.7" width="2.8" height="2.8" fill="none" stroke="#ff0000" stroke-width="0.8"/>
<path d="M445.06 63.96V75.37" stroke="#5a5aff" stroke-width="1.3" fill="none"/>
<path d="M448.52 82.3V89.8" stroke="#505050" stroke-width="1.1" fill="none"/>
<path d="M447.62 82.7H449.42M447.62 89.4H449.42" stroke="#222" stroke-width="0.9" fill="none"/>
<path d="M444.25 81.94V93.25" stroke="#505050" stroke-width="1.1" fill="none"/>
<path d="M443.35 82.34H445.15M443.35 92.85H445.15" stroke="#222" stroke-width="0.9" fill="none"/>
<path d="M452.64 80.15V95.73" stroke="#505050" stroke-width="1.1" fill="none"/>
<path d="M451.74 80.55H453.54M451.74 95.33H453.54" stroke="#222" stroke-width="0.9" fill="none"/>
<path d="M446.86 69.37V79.24" stroke="#5a5aff" stroke-width="1.3" fill="none"/>
<path d="M446.57 85.31V96.23" stroke="#5a5aff" stroke-width="1.3" fill="none"/>
<path d="M449.56 66.95V81.7" stroke="#505050" stroke-width="1.1" fill="none"/>
<path d="M448.66 67.35H450.46M448.66 81.3H450.46" stroke="#222" stroke-width="0.9" fill="none"/>
<path d="M444.2 80.06V89.23" stroke="#505050" stroke-width="1.1" fill="none"/>
<path d="M443.3 80.46H445.1M443.3 88.83H445.1" stroke="#222" stroke-width="0.9" fill="none"/>
<path d="M452.04 63.93V71.15" stroke="#505050" stroke-width="1.1" fill="none"/>
<path d="M451.14 64.33H452.94M451.14 70.75H452.94" stroke="#222" stroke-width="0.9" fill="none"/>
<path d="M447.67 73.36V79.97" stroke="#505050" stroke-width="1.1" fill="none"/>
<path d="M446.77 73.76H448.57M446.77 79.57H448.57" stroke="#222" stroke-width="0.9" fill="none"/>
</g>
<g>
<path d="M322.24 20.25V26.39" stroke="#969696" stroke-width="0.75"/>
<rect x="321.64" y="22.72" width="1.2" height="1.2" fill="#444"/>
<path d="M274.83 20.24V35.17" stroke="#b4b4f6" stroke-width="0.75"/>
<rect x="274.23" y="27.1" width="1.2" height="1.2" fill="#4848e8"/>
<path d="M322.82 9.17V23.77" stroke="#c4c4c4" stroke-width="0.75"/>
<path d="M280.13 13.58V25.46" stroke="#a0a0f4" stroke-width="0.75"/>
<rect x="279.53" y="18.92" width="1.2" height="1.2" fill="#4848e8"/>
<path d="M296.54 14.12V28.98" stroke="#c4c4c4" stroke-width="0.75"/>
<path d="M274.76 8.54V29.73" stroke="#969696" stroke-width="0.75"/>
<rect x="274.16" y="18.53" width="1.2" height="1.2" fill="#444"/>
<path d="M301.85 11.02V25.9" stroke="#a8a8a8" stroke-width="0.75"/>
<path d="M322.56 15.33V26.9" stroke="#c4c4c4" stroke-width="0.75"/>
<path d="M277.85 13.4V33.82" stroke="#969696" stroke-width="0.75"/>
<rect x="277.25" y="23.01" width="1.2" height="1.2" fill="#444"/>
<path d="M292.12 16.4V22.93" stroke="#c4c4c4" stroke-width="0.75"/>
<rect x="291.52" y="19.06" width="1.2" height="1.2" fill="#444"/>
<path d="M276.02 23.63V33.12" stroke="#b4b4f6" stroke-width="0.75"/>
<path d="M317.8 13.4V20.33" stroke="#888" stroke-width="0.75"/>
<path d="M274.59 21.47V28.58" stroke="#888" stroke-width="0.75"/>
<rect x="273.99" y="24.43" width="1.2" height="1.2" fill="#444"/>
<path d="M281.35 21.76V33.24" stroke="#8c8cf0" stroke-width="0.75"/>
<path d="M304.86 8V25.1" stroke="#c4c4c4" stroke-width="0.75"/>
<rect x="304.26" y="15.95" width="1.2" height="1.2" fill="#444"/>
<path d="M293.84 16.4V31.16" stroke="#a8a8a8" stroke-width="0.75"/>
<rect x="293.24" y="23.18" width="1.2" height="1.2" fill="#444"/>
<path d="M290.21 11.72V23.32" stroke="#969696" stroke-width="0.75"/>
<rect x="289.61" y="16.92" width="1.2" height="1.2" fill="#444"/>
<path d="M275.32 20.02V26.08" stroke="#b8b8b8" stroke-width="0.75"/>
<rect x="274.72" y="22.45" width="1.2" height="1.2" fill="#444"/>
<path d="M277.35 27.04V38.2" stroke="#b4b4f6" stroke-width="0.75"/>
<rect x="276.75" y="32.02" width="1.2" height="1.2" fill="#4848e8"/>
<path d="M305.72 5.28V23.7" stroke="#a8a8a8" stroke-width="0.75"/>
<rect x="305.12" y="13.89" width="1.2" height="1.2" fill="#444"/>
<path d="M313.16 10.99V19.3" stroke="#b8b8b8" stroke-width="0.75"/>
<path d="M277.55 19.66V36.15" stroke="#969696" stroke-width="0.75"/>
<rect x="276.95" y="27.31" width="1.2" height="1.2" fill="#444"/>
<path d="M277 22.07V39.3" stroke="#c4c4c4" stroke-width="0.75"/>
<rect x="276.4" y="30.08" width="1.2" height="1.2" fill="#444"/>
<path d="M304.83 11.84V32.49" stroke="#8c8cf0" stroke-width="0.75"/>
<path d="M305.85 12.71V19.6" stroke="#888" stroke-width="0.75"/>
<path d="M296.63 13.91V23.41" stroke="#969696" stroke-width="0.75"/>
<rect x="296.03" y="18.06" width="1.2" height="1.2" fill="#444"/>
<path d="M295.08 18.21V27.79" stroke="#c4c4c4" stroke-width="0.75"/>
<path d="M292.65 14.65V30.21" stroke="#c4c4c4" stroke-width="0.75"/>
<rect x="292.05" y="21.83" width="1.2" height="1.2" fill="#444"/>
<path d="M284.02 10.84V27.31" stroke="#a8a8a8" stroke-width="0.75"/>
<rect x="283.42" y="18.48" width="1.2" height="1.2" fill="#444"/>
<path d="M277 20.69V26.94" stroke="#969696" stroke-width="0.75"/>
<rect x="276.4" y="23.21" width="1.2" height="1.2" fill="#444"/>
<path d="M290.95 16.9V23" stroke="#888" stroke-width="0.75"/>
<rect x="290.35" y="19.35" width="1.2" height="1.2" fill="#444"/>
<path d="M300.84 6.81V21.58" stroke="#b8b8b8" stroke-width="0.75"/>
<path d="M277.78 14.88V28.02" stroke="#969696" stroke-width="0.75"/>
<rect x="277.18" y="20.85" width="1.2" height="1.2" fill="#444"/>
<path d="M274.56 9.09V27.91" stroke="#969696" stroke-width="0.75"/>
<path d="M302.04 16.25V28.19" stroke="#c4c4c4" stroke-width="0.75"/>
<rect x="301.44" y="21.62" width="1.2" height="1.2" fill="#444"/>
<path d="M288.19 11.7V22.46" stroke="#969696" stroke-width="0.75"/>
<rect x="287.59" y="16.48" width="1.2" height="1.2" fill="#444"/>
<path d="M274.52 13.89V23.33" stroke="#c4c4c4" stroke-width="0.75"/>
<rect x="273.92" y="18.01" width="1.2" height="1.2" fill="#444"/>
<path d="M297.79 18.69V26.24" stroke="#969696" stroke-width="0.75"/>
<rect x="297.19" y="21.86" width="1.2" height="1.2" fill="#444"/>
<path d="M310.62 11.15V17.72" stroke="#7878ee" stroke-width="0.75"/>
<path d="M281.71 12.63V33" stroke="#c4c4c4" stroke-width="0.75"/>
<rect x="281.11" y="22.21" width="1.2" height="1.2" fill="#444"/>
<path d="M275.07 22.82V32.27" stroke="#b4b4f6" stroke-width="0.75"/>
<rect x="274.47" y="26.95" width="1.2" height="1.2" fill="#4848e8"/>
<path d="M274.4 14.89V32.21" stroke="#c4c4c4" stroke-width="0.75"/>
<rect x="273.8" y="22.95" width="1.2" height="1.2" fill="#444"/>
<path d="M298.7 16.47V23.12" stroke="#969696" stroke-width="0.75"/>
<rect x="298.1" y="19.19" width="1.2" height="1.2" fill="#444"/>
<path d="M318.22 21.25V40.13" stroke="#8c8cf0" stroke-width="0.75"/>
<path d="M288.1 3.98V24.99" stroke="#888" stroke-width="0.75"/>
<rect x="287.5" y="13.89" width="1.2" height="1.2" fill="#444"/>
<path d="M308.86 20.79V34.24" stroke="#b4b4f6" stroke-width="0.75"/>
<rect x="308.26" y="26.91" width="1.2" height="1.2" fill="#4848e8"/>
<path d="M287.86 10.81V30.01" stroke="#888" stroke-width="0.75"/>
<rect x="287.26" y="19.81" width="1.2" height="1.2" fill="#444"/>
<path d="M319.14 21.15V27.56" stroke="#969696" stroke-width="0.75"/>
<path d="M276.42 9.18V25.21" stroke="#969696" stroke-width="0.75"/>
<rect x="275.82" y="16.6" width="1.2" height="1.2" fill="#444"/>
<path d="M282.65 16.35V34.16" stroke="#969696" stroke-width="0.75"/>
<rect x="282.05" y="24.66" width="1.2" height="1.2" fill="#444"/>
<path d="M274.4 15.17V33.7" stroke="#c4c4c4" stroke-width="0.75"/>
<rect x="273.8" y="23.84" width="1.2" height="1.2" fill="#444"/>
<path d="M290.41 7.43V25.17" stroke="#969696" stroke-width="0.75"/>
<path d="M299.7 15.31V27.75" stroke="#7878ee" stroke-width="0.75"/>
<path d="M281.5 13.22V32.76" stroke="#a8a8a8" stroke-width="0.75"/>
<rect x="280.9" y="22.39" width="1.2" height="1.2" fill="#444"/>
<path d="M279.48 22.96V29.81" stroke="#888" stroke-width="0.75"/>
<rect x="278.88" y="25.78" width="1.2" height="1.2" fill="#444"/>
<path d="M298.32 10.13V27.88" stroke="#8c8cf0" stroke-width="0.75"/>
<rect x="297.72" y="18.4" width="1.2" height="1.2" fill="#4848e8"/>
<path d="M310.99 18.66V28.76" stroke="#b8b8b8" stroke-width="0.75"/>
<rect x="310.39" y="23.11" width="1.2" height="1.2" fill="#444"/>
<path d="M275.61 15.45V36.07" stroke="#b4b4f6" stroke-width="0.75"/>
<path d="M278.47 19.15V33.21" stroke="#969696" stroke-width="0.75"/>
<rect x="277.87" y="25.58" width="1.2" height="1.2" fill="#444"/>
<path d="M316.78 8.85V27.76" stroke="#a8a8a8" stroke-width="0.75"/>
<path d="M307.97 14.32V25.03" stroke="#888" stroke-width="0.75"/>
<rect x="307.37" y="19.07" width="1.2" height="1.2" fill="#444"/>
<path d="M278.71 15.84V30.2" stroke="#969696" stroke-width="0.75"/>
<path d="M296.29 21.72V39.33" stroke="#b8b8b8" stroke-width="0.75"/>
<rect x="295.69" y="29.92" width="1.2" height="1.2" fill="#444"/>
<path d="M277.71 15.66V30.82" stroke="#a0a0f4" stroke-width="0.75"/>
<rect x="277.11" y="22.64" width="1.2" height="1.2" fill="#4848e8"/>
<path d="M275.83 6.02V24.94" stroke="#8c8cf0" stroke-width="0.75"/>
<path d="M283.06 12.19V30.92" stroke="#969696" stroke-width="0.75"/>
<rect x="282.46" y="20.96" width="1.2" height="1.2" fill="#444"/>
<path d="M313.07 26.14V43.98" stroke="#b8b8b8" stroke-width="0.75"/>
<path d="M280.61 5V26.96" stroke="#888" stroke-width="0.75"/>
<rect x="280.01" y="15.38" width="1.2" height="1.2" fill="#444"/>
<path d="M321.05 21.91V36.68" stroke="#c4c4c4" stroke-width="0.75"/>
<rect x="320.45" y="28.69" width="1.2" height="1.2" fill="#444"/>
<path d="M279.03 13.78V33.54" stroke="#8c8cf0" stroke-width="0.75"/>
<rect x="278.43" y="23.06" width="1.2" height="1.2" fill="#4848e8"/>
<path d="M299.75 12.91V31.93" stroke="#c4c4c4" stroke-width="0.75"/>
<rect x="299.15" y="21.82" width="1.2" height="1.2" fill="#444"/>
<path d="M292.5 14.53V26.4" stroke="#c4c4c4" stroke-width="0.75"/>
<rect x="291.9" y="19.87" width="1.2" height="1.2" fill="#444"/>
<path d="M280.43 12.51V27.44" stroke="#c4c4c4" stroke-width="0.75"/>
<rect x="279.83" y="19.38" width="1.2" height="1.2" fill="#444"/>
<path d="M309.42 6.92V27.94" stroke="#b8b8b8" stroke-width="0.75"/>
<rect x="308.82" y="16.83" width="1.2" height="1.2" fill="#444"/>
<path d="M280.54 20.59V31.43" stroke="#b8b8b8" stroke-width="0.75"/>
<rect x="279.94" y="25.41" width="1.2" height="1.2" fill="#444"/>
<circle cx="275" cy="44.1" r="0.75" fill="none" stroke="#ff0000" stroke-width="0.8"/>
<circle cx="276.6" cy="31" r="0.95" fill="#ff0000"/>
<circle cx="317.5" cy="16.4" r="0.95" fill="#ff0000"/>
<circle cx="323.5" cy="10.4" r="0.95" fill="#ff0000"/>
<circle cx="320.1" cy="30.4" r="0.95" fill="#ff0000"/>
<circle cx="323.7" cy="32.6" r="0.95" fill="#ff0000"/>
<circle cx="329.1" cy="18.4" r="0.95" fill="#ff0000"/>
<polyline points="277.4,23 284,23.4 291,19.2 299.5,20.8 306.5,18.8 314.1,21.2 321.1,21.4 329.1,20.6" fill="none" stroke="#ff8000" stroke-width="1.25" stroke-linejoin="round"/>
<circle cx="277.4" cy="23" r="1.15" fill="#ff6a00"/>
<circle cx="284" cy="23.4" r="1.15" fill="#ff6a00"/>
<circle cx="291" cy="19.2" r="1.15" fill="#ff6a00"/>
<circle cx="299.5" cy="20.8" r="1.15" fill="#ff6a00"/>
<circle cx="306.5" cy="18.8" r="1.15" fill="#ff6a00"/>
<circle cx="314.1" cy="21.2" r="1.15" fill="#ff6a00"/>
<circle cx="321.1" cy="21.4" r="1.15" fill="#ff6a00"/>
<circle cx="329.1" cy="20.6" r="1.15" fill="#ff6a00"/>
<path d="M270.5 47.7H351.8V0.5" stroke="#b4b4b4" stroke-width="1" fill="none"/>
<path d="M351.8 42.35h-1.2" stroke="#aaa" stroke-width="0.6"/>
<path d="M351.8 25.85h-1.2" stroke="#aaa" stroke-width="0.6"/>
<path d="M351.8 9.35h-1.2" stroke="#aaa" stroke-width="0.6"/>
<path d="M274 47.7v-1.5" stroke="#999" stroke-width="0.7"/>
<text x="274" y="53.6" font-size="5.4" font-weight="bold" text-anchor="middle" style="stroke-width:0.1px">0.0</text>
<path d="M311.65 47.7v-1.5" stroke="#999" stroke-width="0.7"/>
<text x="311.65" y="53.6" font-size="5.4" font-weight="bold" text-anchor="middle" style="stroke-width:0.1px">0.5</text>
<path d="M349.3 47.7v-1.5" stroke="#999" stroke-width="0.7"/>
<text x="349.3" y="53.6" font-size="5.4" font-weight="bold" text-anchor="middle" style="stroke-width:0.1px">1.0</text>
<path d="M351.8 34.1h-1.5" stroke="#999" stroke-width="0.7"/>
<text x="353.1" y="36" font-size="5.4" font-weight="bold" style="stroke-width:0.12px">1.0</text>
<path d="M351.8 17.6h-1.5" stroke="#999" stroke-width="0.7"/>
<text x="353.1" y="19.5" font-size="5.4" font-weight="bold" style="stroke-width:0.12px">1.5</text>
</g>
<rect x="270.5" y="0.5" width="202.5" height="144" fill="none" stroke="#222" stroke-width="1"/>
<path d="M268.1 109.8H270.5M473 109.8h-3" stroke="#222" stroke-width="0.9"/>
<text x="266.7" y="112.3" font-size="7.2" text-anchor="end">1.0</text>
<path d="M268.1 59.95H270.5M473 59.95h-3" stroke="#222" stroke-width="0.9"/>
<text x="266.7" y="62.45" font-size="7.2" text-anchor="end">1.5</text>
<path d="M268.1 10.1H270.5M473 10.1h-3" stroke="#222" stroke-width="0.9"/>
<text x="266.7" y="12.6" font-size="7.2" text-anchor="end">2.0</text>
<path d="M268.5 134.72H270.5M473 134.72h-2" stroke="#222" stroke-width="0.9"/>
<path d="M268.5 84.88H270.5M473 84.88h-2" stroke="#222" stroke-width="0.9"/>
<path d="M268.5 35.02H270.5M473 35.02h-2" stroke="#222" stroke-width="0.9"/>
<path d="M288.6 144.5v2.8" stroke="#222" stroke-width="0.9"/>
<text x="288.6" y="154.3" font-size="6.8" text-anchor="middle">1E-5</text>
<path d="M323.45 144.5v2.8" stroke="#222" stroke-width="0.9"/>
<text x="323.45" y="154.3" font-size="6.8" text-anchor="middle">1E-4</text>
<path d="M358.3 144.5v2.8" stroke="#222" stroke-width="0.9"/>
<text x="358.3" y="154.3" font-size="6.8" text-anchor="middle">1E-3</text>
<path d="M393.15 144.5v2.8" stroke="#222" stroke-width="0.9"/>
<text x="393.15" y="154.3" font-size="6.8" text-anchor="middle">0.01</text>
<path d="M428 144.5v2.8" stroke="#222" stroke-width="0.9"/>
<text x="428" y="154.3" font-size="6.8" text-anchor="middle">0.1</text>
<path d="M462.85 144.5v2.8" stroke="#222" stroke-width="0.9"/>
<text x="462.85" y="154.3" font-size="6.8" text-anchor="middle">1</text>
<path d="M280.8 0.5v2.6" stroke="#222" stroke-width="0.9"/>
<path d="M316.7 0.5v2.6" stroke="#222" stroke-width="0.9"/>
<path d="M352.6 0.5v2.6" stroke="#222" stroke-width="0.9"/>
<path d="M390.5 0.5v2.6" stroke="#222" stroke-width="0.9"/>
<path d="M426.7 0.5v2.6" stroke="#222" stroke-width="0.9"/>
<path d="M462.6 0.5v2.6" stroke="#222" stroke-width="0.9"/>
<text transform="translate(250.9,77.6) rotate(-90)" font-size="7.3" text-anchor="middle" textLength="56" lengthAdjust="spacingAndGlyphs">log[W(4963)/Ebv]</text>
<text x="368.7" y="166.6" font-size="8.0">f<tspan font-size="4.3" dy="2.9" style="stroke-width:0.2px">H2</tspan></text>
<text x="409.3" y="14.3" font-size="14.2">B</text>
<text x="422.5" y="14.4" font-size="7.8" textLength="38.74" lengthAdjust="spacingAndGlyphs">(87 points)</text>
<g>
<path d="M47.2 246V275.4" stroke="#505050" stroke-width="1.2" fill="none"/>
<path d="M46.3 246.4H48.1M46.3 275H48.1" stroke="#222" stroke-width="1" fill="none"/>
<rect x="46.5" y="260" width="1.4" height="1.4" fill="#333"/>
<path d="M132.6 232.7V262.7" stroke="#505050" stroke-width="1.2" fill="none"/>
<path d="M131.7 233.1H133.5M131.7 262.3H133.5" stroke="#222" stroke-width="1" fill="none"/>
<circle cx="132.6" cy="247.8" r="1.4" fill="#fff" stroke="#9a9a9a" stroke-width="0.7"/>
<path d="M157.9 246.9V273.8" stroke="#505050" stroke-width="1.2" fill="none"/>
<path d="M157 247.3H158.8M157 273.4H158.8" stroke="#222" stroke-width="1" fill="none"/>
<rect x="157.2" y="259.65" width="1.4" height="1.4" fill="#333"/>
<path d="M166.9 242.1V267.7" stroke="#8a8a8a" stroke-width="1.6" fill="none"/>
<path d="M166 242.5H167.8M166 267.3H167.8" stroke="#444" stroke-width="1" fill="none"/>
<rect x="166.2" y="254.2" width="1.4" height="1.4" fill="#333"/>
<path d="M170.2 253.7V281" stroke="#8a8a8a" stroke-width="1.6" fill="none"/>
<path d="M169.3 254.1H171.1M169.3 280.6H171.1" stroke="#444" stroke-width="1" fill="none"/>
<rect x="169.5" y="266.65" width="1.4" height="1.4" fill="#333"/>
<path d="M172.9 232.2V256.2" stroke="#8a8a8a" stroke-width="1.6" fill="none"/>
<path d="M172 232.6H173.8M172 255.8H173.8" stroke="#444" stroke-width="1" fill="none"/>
<rect x="172.2" y="243.5" width="1.4" height="1.4" fill="#333"/>
<path d="M175.7 251.2V282.6" stroke="#505050" stroke-width="1.2" fill="none"/>
<path d="M174.8 251.6H176.6M174.8 282.2H176.6" stroke="#222" stroke-width="1" fill="none"/>
<rect x="175" y="266.2" width="1.4" height="1.4" fill="#333"/>
<path d="M176.5 267.7V312" stroke="#5a5aff" stroke-width="1.3" fill="none"/>
<path d="M175.6 268.1H177.4M175.6 311.6H177.4" stroke="#3030f0" stroke-width="1" fill="none"/>
<rect x="175.8" y="289.15" width="1.4" height="1.4" fill="#2a2aee"/>
<path d="M179.8 239.6V257.8" stroke="#8a8a8a" stroke-width="1.6" fill="none"/>
<path d="M178.9 240H180.7M178.9 257.4H180.7" stroke="#444" stroke-width="1" fill="none"/>
<rect x="179.1" y="248" width="1.4" height="1.4" fill="#333"/>
<path d="M180.2 272.7V302.4" stroke="#8a8a8a" stroke-width="1.6" fill="none"/>
<path d="M179.3 273.1H181.1M179.3 302H181.1" stroke="#444" stroke-width="1" fill="none"/>
<rect x="179.5" y="286.85" width="1.4" height="1.4" fill="#333"/>
<path d="M182.8 246.2V272.7" stroke="#505050" stroke-width="1.2" fill="none"/>
<path d="M181.9 246.6H183.7M181.9 272.3H183.7" stroke="#222" stroke-width="1" fill="none"/>
<rect x="182.1" y="258.75" width="1.4" height="1.4" fill="#333"/>
<path d="M184 244.5V264" stroke="#505050" stroke-width="1.2" fill="none"/>
<path d="M183.1 244.9H184.9M183.1 263.6H184.9" stroke="#222" stroke-width="1" fill="none"/>
<rect x="183.3" y="253.55" width="1.4" height="1.4" fill="#333"/>
<path d="M186.4 214V224.8" stroke="#5a5aff" stroke-width="1.3" fill="none"/>
<path d="M185.5 214.4H187.3M185.5 224.4H187.3" stroke="#3030f0" stroke-width="1" fill="none"/>
<rect x="185.7" y="218.7" width="1.4" height="1.4" fill="#2a2aee"/>
<path d="M186.1 233V244.6" stroke="#5a5aff" stroke-width="1.3" fill="none"/>
<path d="M185.2 233.4H187M185.2 244.2H187" stroke="#3030f0" stroke-width="1" fill="none"/>
<rect x="185.4" y="238.1" width="1.4" height="1.4" fill="#2a2aee"/>
<path d="M186.1 251.2V284.3" stroke="#5a5aff" stroke-width="1.3" fill="none"/>
<path d="M185.2 251.6H187M185.2 283.9H187" stroke="#3030f0" stroke-width="1" fill="none"/>
<rect x="185.4" y="267.05" width="1.4" height="1.4" fill="#2a2aee"/>
<path d="M187.8 234.5V249.5" stroke="#505050" stroke-width="1.2" fill="none"/>
<path d="M186.9 234.9H188.7M186.9 249.1H188.7" stroke="#222" stroke-width="1" fill="none"/>
<rect x="187.1" y="241.3" width="1.4" height="1.4" fill="#333"/>
<path d="M189.4 243.8V266.1" stroke="#5a5aff" stroke-width="1.3" fill="none"/>
<path d="M188.5 244.2H190.3M188.5 265.7H190.3" stroke="#3030f0" stroke-width="1" fill="none"/>
<rect x="188.7" y="254.25" width="1.4" height="1.4" fill="#2a2aee"/>
<path d="M190.6 229.7V240.5" stroke="#505050" stroke-width="1.2" fill="none"/>
<path d="M189.7 230.1H191.5M189.7 240.1H191.5" stroke="#222" stroke-width="1" fill="none"/>
<rect x="189.9" y="234.4" width="1.4" height="1.4" fill="#333"/>
<path d="M192.2 256.2V297.5" stroke="#505050" stroke-width="1.2" fill="none"/>
<path d="M191.3 256.6H193.1M191.3 297.1H193.1" stroke="#222" stroke-width="1" fill="none"/>
<rect x="191.5" y="276.15" width="1.4" height="1.4" fill="#333"/>
<path d="M193.7 221.4V264" stroke="#505050" stroke-width="1.2" fill="none"/>
<path d="M192.8 221.8H194.6M192.8 263.6H194.6" stroke="#222" stroke-width="1" fill="none"/>
<rect x="193" y="242" width="1.4" height="1.4" fill="#333"/>
<path d="M195.3 262.8V280" stroke="#5a5aff" stroke-width="1.3" fill="none"/>
<path d="M194.4 263.2H196.2M194.4 279.6H196.2" stroke="#3030f0" stroke-width="1" fill="none"/>
<rect x="194.6" y="270.7" width="1.4" height="1.4" fill="#2a2aee"/>
<path d="M196.3 244.6V261.1" stroke="#5a5aff" stroke-width="1.3" fill="none"/>
<path d="M195.4 245H197.2M195.4 260.7H197.2" stroke="#3030f0" stroke-width="1" fill="none"/>
<rect x="195.6" y="252.15" width="1.4" height="1.4" fill="#2a2aee"/>
<path d="M197.2 238V257.8" stroke="#505050" stroke-width="1.2" fill="none"/>
<path d="M196.3 238.4H198.1M196.3 257.4H198.1" stroke="#222" stroke-width="1" fill="none"/>
<rect x="196.5" y="247.2" width="1.4" height="1.4" fill="#333"/>
<path d="M198.3 266V290.9" stroke="#5a5aff" stroke-width="1.3" fill="none"/>
<path d="M197.4 266.4H199.2M197.4 290.5H199.2" stroke="#3030f0" stroke-width="1" fill="none"/>
<rect x="197.6" y="277.75" width="1.4" height="1.4" fill="#2a2aee"/>
<path d="M199.6 252.9V287.6" stroke="#505050" stroke-width="1.2" fill="none"/>
<path d="M198.7 253.3H200.5M198.7 287.2H200.5" stroke="#222" stroke-width="1" fill="none"/>
<rect x="198.9" y="269.55" width="1.4" height="1.4" fill="#333"/>
<path d="M200.7 241.3V281" stroke="#505050" stroke-width="1.2" fill="none"/>
<path d="M199.8 241.7H201.6M199.8 280.6H201.6" stroke="#222" stroke-width="1" fill="none"/>
<rect x="200" y="260.45" width="1.4" height="1.4" fill="#333"/>
<path d="M201.9 254.5V272.7" stroke="#5a5aff" stroke-width="1.3" fill="none"/>
<path d="M201 254.9H202.8M201 272.3H202.8" stroke="#3030f0" stroke-width="1" fill="none"/>
<rect x="201.2" y="262.9" width="1.4" height="1.4" fill="#2a2aee"/>
<path d="M202.9 211.5V228.1" stroke="#505050" stroke-width="1.2" fill="none"/>
<path d="M202 211.9H203.8M202 227.7H203.8" stroke="#222" stroke-width="1" fill="none"/>
<rect x="202.2" y="219.1" width="1.4" height="1.4" fill="#333"/>
<path d="M202.6 228.1V254.5" stroke="#505050" stroke-width="1.2" fill="none"/>
<path d="M201.7 228.5H203.5M201.7 254.1H203.5" stroke="#222" stroke-width="1" fill="none"/>
<rect x="201.9" y="240.6" width="1.4" height="1.4" fill="#333"/>
<path d="M204 231.4V244.6" stroke="#5a5aff" stroke-width="1.3" fill="none"/>
<path d="M203.1 231.8H204.9M203.1 244.2H204.9" stroke="#3030f0" stroke-width="1" fill="none"/>
<rect x="203.3" y="237.3" width="1.4" height="1.4" fill="#2a2aee"/>
<path d="M205.7 230.5V238.8" stroke="#5a5aff" stroke-width="1.3" fill="none"/>
<path d="M204.8 230.9H206.6M204.8 238.4H206.6" stroke="#3030f0" stroke-width="1" fill="none"/>
<rect x="205" y="233.95" width="1.4" height="1.4" fill="#2a2aee"/>
<path d="M204.5 267.7V287.6" stroke="#5a5aff" stroke-width="1.3" fill="none"/>
<path d="M203.6 268.1H205.4M203.6 287.2H205.4" stroke="#3030f0" stroke-width="1" fill="none"/>
<rect x="203.8" y="276.95" width="1.4" height="1.4" fill="#2a2aee"/>
<path d="M206.5 241.3V272.7" stroke="#505050" stroke-width="1.2" fill="none"/>
<path d="M205.6 241.7H207.4M205.6 272.3H207.4" stroke="#222" stroke-width="1" fill="none"/>
<rect x="205.8" y="256.3" width="1.4" height="1.4" fill="#333"/>
<path d="M208.2 224.8V236.3" stroke="#505050" stroke-width="1.2" fill="none"/>
<path d="M207.3 225.2H209.1M207.3 235.9H209.1" stroke="#222" stroke-width="1" fill="none"/>
<rect x="207.5" y="229.85" width="1.4" height="1.4" fill="#333"/>
<path d="M209 274.3V287.6" stroke="#5a5aff" stroke-width="1.3" fill="none"/>
<path d="M208.1 274.7H209.9M208.1 287.2H209.9" stroke="#3030f0" stroke-width="1" fill="none"/>
<rect x="208.3" y="280.25" width="1.4" height="1.4" fill="#2a2aee"/>
<path d="M209.5 257.8V272.7" stroke="#505050" stroke-width="1.2" fill="none"/>
<path d="M208.6 258.2H210.4M208.6 272.3H210.4" stroke="#222" stroke-width="1" fill="none"/>
<rect x="208.8" y="264.55" width="1.4" height="1.4" fill="#333"/>
<path d="M211.2 221.4V230.5" stroke="#5a5aff" stroke-width="1.3" fill="none"/>
<path d="M210.3 221.8H212.1M210.3 230.1H212.1" stroke="#3030f0" stroke-width="1" fill="none"/>
<rect x="210.5" y="225.25" width="1.4" height="1.4" fill="#2a2aee"/>
<path d="M213.1 237.1V262.8" stroke="#505050" stroke-width="1.2" fill="none"/>
<path d="M212.2 237.5H214M212.2 262.4H214" stroke="#222" stroke-width="1" fill="none"/>
<rect x="212.4" y="249.25" width="1.4" height="1.4" fill="#333"/>
<path d="M164.1 278.1L164.63 279.37L166 279.48L164.96 280.38L165.28 281.72L164.1 281L162.92 281.72L163.24 280.38L162.2 279.48L163.57 279.37Z" fill="none" stroke="#ff0000" stroke-width="0.8"/>
<path d="M168.4 301.2H172.4M170.4 299.2V303.2" stroke="#ff0000" stroke-width="1"/>
<circle cx="211.5" cy="226.1" r="1.6" fill="#ff0000"/>
<circle cx="214" cy="244.1" r="1.6" fill="#ff0000"/>
<circle cx="209.5" cy="248.2" r="1.6" fill="#ff0000"/>
<path d="M209 248.2L213.4 252.6M213.4 248.2L209 252.6" stroke="#ff0000" stroke-width="0.9"/>
<path d="M205.7 256.4L207.8 260L203.6 260Z" fill="#ff0000"/>
<circle cx="200.2" cy="266.9" r="1.4" fill="none" stroke="#ff0000" stroke-width="0.8"/>
<path d="M207.18 260.61V267.38" stroke="#505050" stroke-width="1.1" fill="none"/>
<path d="M206.28 261.01H208.08M206.28 266.98H208.08" stroke="#222" stroke-width="0.9" fill="none"/>
<path d="M205.41 273.06V281.82" stroke="#505050" stroke-width="1.1" fill="none"/>
<path d="M204.51 273.46H206.31M204.51 281.42H206.31" stroke="#222" stroke-width="0.9" fill="none"/>
<path d="M206.93 273.06V280.15" stroke="#5a5aff" stroke-width="1.3" fill="none"/>
<path d="M197.94 274.41V290.06" stroke="#505050" stroke-width="1.1" fill="none"/>
<path d="M197.04 274.81H198.84M197.04 289.66H198.84" stroke="#222" stroke-width="0.9" fill="none"/>
<path d="M205.21 272.26V279.41" stroke="#5a5aff" stroke-width="1.3" fill="none"/>
<path d="M198.99 266.99V275.78" stroke="#505050" stroke-width="1.1" fill="none"/>
<path d="M198.09 267.39H199.89M198.09 275.38H199.89" stroke="#222" stroke-width="0.9" fill="none"/>
<path d="M205.62 271.78V280.12" stroke="#5a5aff" stroke-width="1.3" fill="none"/>
<path d="M210.83 260.77V276.38" stroke="#505050" stroke-width="1.1" fill="none"/>
<path d="M209.93 261.17H211.73M209.93 275.98H211.73" stroke="#222" stroke-width="0.9" fill="none"/>
<path d="M204.45 243.51V253.07" stroke="#5a5aff" stroke-width="1.3" fill="none"/>
<path d="M198.49 265.18V272.19" stroke="#5a5aff" stroke-width="1.3" fill="none"/>
</g>
<g>
<path d="M44.89 192.11V203.96" stroke="#969696" stroke-width="0.75"/>
<rect x="44.29" y="197.44" width="1.2" height="1.2" fill="#444"/>
<path d="M30.33 202.01V206.4" stroke="#a8a8a8" stroke-width="0.75"/>
<rect x="29.73" y="203.61" width="1.2" height="1.2" fill="#444"/>
<path d="M74.6 191.71V203.88" stroke="#a8a8a8" stroke-width="0.75"/>
<rect x="74" y="197.19" width="1.2" height="1.2" fill="#444"/>
<path d="M30.03 202.51V212.89" stroke="#b4b4f6" stroke-width="0.75"/>
<rect x="29.43" y="207.1" width="1.2" height="1.2" fill="#4848e8"/>
<path d="M31.02 197.06V207.34" stroke="#888" stroke-width="0.75"/>
<path d="M39.31 202.13V206.56" stroke="#c4c4c4" stroke-width="0.75"/>
<rect x="38.71" y="203.75" width="1.2" height="1.2" fill="#444"/>
<path d="M45.27 193.17V197.85" stroke="#888" stroke-width="0.75"/>
<path d="M29.7 203.03V207.26" stroke="#969696" stroke-width="0.75"/>
<path d="M35.86 195.76V209.58" stroke="#b4b4f6" stroke-width="0.75"/>
<rect x="35.26" y="202.07" width="1.2" height="1.2" fill="#4848e8"/>
<path d="M36.18 199.21V204.95" stroke="#969696" stroke-width="0.75"/>
<path d="M67.34 190.47V202.69" stroke="#b8b8b8" stroke-width="0.75"/>
<rect x="66.74" y="195.98" width="1.2" height="1.2" fill="#444"/>
<path d="M29.7 199.69V211.24" stroke="#8c8cf0" stroke-width="0.75"/>
<rect x="29.1" y="204.86" width="1.2" height="1.2" fill="#4848e8"/>
<path d="M35.82 204.22V209.81" stroke="#b8b8b8" stroke-width="0.75"/>
<rect x="35.22" y="206.42" width="1.2" height="1.2" fill="#444"/>
<path d="M30.31 202.48V212.55" stroke="#b8b8b8" stroke-width="0.75"/>
<rect x="29.71" y="206.91" width="1.2" height="1.2" fill="#444"/>
<path d="M31.83 196.22V204.24" stroke="#c4c4c4" stroke-width="0.75"/>
<rect x="31.23" y="199.63" width="1.2" height="1.2" fill="#444"/>
<path d="M32.94 203.32V209.29" stroke="#c4c4c4" stroke-width="0.75"/>
<rect x="32.34" y="205.7" width="1.2" height="1.2" fill="#444"/>
<path d="M29.92 200.79V212.18" stroke="#b8b8b8" stroke-width="0.75"/>
<path d="M31.28 199.95V212.6" stroke="#7878ee" stroke-width="0.75"/>
<rect x="30.68" y="205.67" width="1.2" height="1.2" fill="#4848e8"/>
<path d="M55.9 195.56V201.42" stroke="#a0a0f4" stroke-width="0.75"/>
<path d="M57.42 199V207.55" stroke="#b8b8b8" stroke-width="0.75"/>
<path d="M61.96 191.94V202.35" stroke="#b4b4f6" stroke-width="0.75"/>
<rect x="61.36" y="196.55" width="1.2" height="1.2" fill="#4848e8"/>
<path d="M40.79 201.39V206.52" stroke="#a8a8a8" stroke-width="0.75"/>
<rect x="40.19" y="203.35" width="1.2" height="1.2" fill="#444"/>
<path d="M32.46 208.49V217.87" stroke="#969696" stroke-width="0.75"/>
<rect x="31.86" y="212.58" width="1.2" height="1.2" fill="#444"/>
<path d="M56.33 198.74V204.63" stroke="#969696" stroke-width="0.75"/>
<path d="M30.39 195.99V206.23" stroke="#b4b4f6" stroke-width="0.75"/>
<path d="M47.28 197.97V204.88" stroke="#a8a8a8" stroke-width="0.75"/>
<rect x="46.68" y="200.83" width="1.2" height="1.2" fill="#444"/>
<path d="M75.93 190.3V199.9" stroke="#c4c4c4" stroke-width="0.75"/>
<rect x="75.33" y="194.5" width="1.2" height="1.2" fill="#444"/>
<path d="M40.27 193.12V206.88" stroke="#a0a0f4" stroke-width="0.75"/>
<rect x="39.67" y="199.4" width="1.2" height="1.2" fill="#4848e8"/>
<path d="M37.82 192.83V200.88" stroke="#a8a8a8" stroke-width="0.75"/>
<rect x="37.22" y="196.25" width="1.2" height="1.2" fill="#444"/>
<path d="M74.85 191.79V205.62" stroke="#c4c4c4" stroke-width="0.75"/>
<rect x="74.25" y="198.11" width="1.2" height="1.2" fill="#444"/>
<path d="M74.97 195.68V204.46" stroke="#a8a8a8" stroke-width="0.75"/>
<rect x="74.37" y="199.47" width="1.2" height="1.2" fill="#444"/>
<path d="M46.83 199.75V204.04" stroke="#b8b8b8" stroke-width="0.75"/>
<rect x="46.23" y="201.29" width="1.2" height="1.2" fill="#444"/>
<path d="M31.39 199.39V212.1" stroke="#b4b4f6" stroke-width="0.75"/>
<rect x="30.79" y="205.15" width="1.2" height="1.2" fill="#4848e8"/>
<path d="M31.8 202.76V212.5" stroke="#b8b8b8" stroke-width="0.75"/>
<rect x="31.2" y="207.03" width="1.2" height="1.2" fill="#444"/>
<path d="M79.14 190.81V203.08" stroke="#8c8cf0" stroke-width="0.75"/>
<rect x="78.54" y="196.35" width="1.2" height="1.2" fill="#4848e8"/>
<path d="M54.55 194.85V205.21" stroke="#a0a0f4" stroke-width="0.75"/>
<rect x="53.95" y="199.43" width="1.2" height="1.2" fill="#4848e8"/>
<path d="M36.01 192.99V207.53" stroke="#969696" stroke-width="0.75"/>
<path d="M82.46 190.57V202.68" stroke="#888" stroke-width="0.75"/>
<rect x="81.86" y="196.03" width="1.2" height="1.2" fill="#444"/>
<path d="M43.37 194.53V204.36" stroke="#a0a0f4" stroke-width="0.75"/>
<rect x="42.77" y="198.85" width="1.2" height="1.2" fill="#4848e8"/>
<path d="M31.75 203.4V207.66" stroke="#a8a8a8" stroke-width="0.75"/>
<rect x="31.15" y="204.93" width="1.2" height="1.2" fill="#444"/>
<path d="M58.42 198.93V207.37" stroke="#a8a8a8" stroke-width="0.75"/>
<path d="M30.13 199.94V214.01" stroke="#c4c4c4" stroke-width="0.75"/>
<path d="M78.49 188.78V202.4" stroke="#969696" stroke-width="0.75"/>
<rect x="77.89" y="194.99" width="1.2" height="1.2" fill="#444"/>
<path d="M68.67 190.4V203.48" stroke="#969696" stroke-width="0.75"/>
<rect x="68.07" y="196.34" width="1.2" height="1.2" fill="#444"/>
<path d="M32.88 202.03V206.84" stroke="#a8a8a8" stroke-width="0.75"/>
<rect x="32.28" y="203.84" width="1.2" height="1.2" fill="#444"/>
<path d="M71.04 194.44V207.15" stroke="#969696" stroke-width="0.75"/>
<rect x="70.44" y="200.2" width="1.2" height="1.2" fill="#444"/>
<path d="M44.97 196.54V208.36" stroke="#969696" stroke-width="0.75"/>
<rect x="44.37" y="201.85" width="1.2" height="1.2" fill="#444"/>
<path d="M51.13 197.46V204.11" stroke="#a8a8a8" stroke-width="0.75"/>
<rect x="50.53" y="200.19" width="1.2" height="1.2" fill="#444"/>
<path d="M51.65 201.62V207" stroke="#7878ee" stroke-width="0.75"/>
<rect x="51.05" y="203.71" width="1.2" height="1.2" fill="#4848e8"/>
<path d="M84 194.66V204.19" stroke="#b8b8b8" stroke-width="0.75"/>
<rect x="83.4" y="198.83" width="1.2" height="1.2" fill="#444"/>
<path d="M59.14 194.29V200.01" stroke="#a8a8a8" stroke-width="0.75"/>
<rect x="58.54" y="196.55" width="1.2" height="1.2" fill="#444"/>
<path d="M33.9 201.63V209.98" stroke="#c4c4c4" stroke-width="0.75"/>
<path d="M30.55 201.91V215.44" stroke="#c4c4c4" stroke-width="0.75"/>
<rect x="29.95" y="208.08" width="1.2" height="1.2" fill="#444"/>
<path d="M30.98 202.13V212.14" stroke="#888" stroke-width="0.75"/>
<rect x="30.38" y="206.54" width="1.2" height="1.2" fill="#444"/>
<path d="M57.55 195.61V200.45" stroke="#888" stroke-width="0.75"/>
<path d="M69.63 187.72V198.97" stroke="#b8b8b8" stroke-width="0.75"/>
<path d="M40.59 191.78V198.17" stroke="#c4c4c4" stroke-width="0.75"/>
<path d="M68.84 201.07V206.77" stroke="#a8a8a8" stroke-width="0.75"/>
<rect x="68.24" y="203.32" width="1.2" height="1.2" fill="#444"/>
<path d="M41.73 193.82V198.55" stroke="#b8b8b8" stroke-width="0.75"/>
<rect x="41.13" y="195.58" width="1.2" height="1.2" fill="#444"/>
<path d="M38.33 190.78V205.77" stroke="#969696" stroke-width="0.75"/>
<rect x="37.73" y="197.67" width="1.2" height="1.2" fill="#444"/>
<path d="M33.79 202.48V209.75" stroke="#888" stroke-width="0.75"/>
<path d="M30.93 204.91V210.39" stroke="#7878ee" stroke-width="0.75"/>
<rect x="30.33" y="207.05" width="1.2" height="1.2" fill="#4848e8"/>
<path d="M38.73 196.06V200.8" stroke="#888" stroke-width="0.75"/>
<rect x="38.13" y="197.83" width="1.2" height="1.2" fill="#444"/>
<path d="M31.32 210.47V215.39" stroke="#a8a8a8" stroke-width="0.75"/>
<path d="M30.02 197.18V210.49" stroke="#a0a0f4" stroke-width="0.75"/>
<path d="M42.47 195.53V200.37" stroke="#c4c4c4" stroke-width="0.75"/>
<rect x="41.87" y="197.35" width="1.2" height="1.2" fill="#444"/>
<path d="M34 198.37V205.52" stroke="#a8a8a8" stroke-width="0.75"/>
<rect x="33.4" y="201.35" width="1.2" height="1.2" fill="#444"/>
<path d="M79.54 196.75V201.88" stroke="#888" stroke-width="0.75"/>
<path d="M33.45 200.24V207.75" stroke="#c4c4c4" stroke-width="0.75"/>
<rect x="32.85" y="203.39" width="1.2" height="1.2" fill="#444"/>
<path d="M46.03 196.68V210.12" stroke="#a0a0f4" stroke-width="0.75"/>
<rect x="45.43" y="202.8" width="1.2" height="1.2" fill="#4848e8"/>
<circle cx="32.2" cy="210.1" r="0.95" fill="#ff0000"/>
<circle cx="34.3" cy="218.1" r="0.95" fill="#ff0000"/>
<circle cx="63.2" cy="202.3" r="0.95" fill="#ff0000"/>
<path d="M77.25 189.25L78.75 190.75M78.75 189.25L77.25 190.75" stroke="#ff0000" stroke-width="0.9"/>
<circle cx="72.7" cy="198.1" r="0.95" fill="#ff0000"/>
<circle cx="84.3" cy="197" r="0.95" fill="#ff0000"/>
<polyline points="32.7,204.8 39.4,199.1 47.4,200.2 54.8,200.8 62.2,199.5 70.6,198.9 77.4,198.3 84.3,198.1" fill="none" stroke="#ff8000" stroke-width="1.25" stroke-linejoin="round"/>
<circle cx="32.7" cy="204.8" r="1.15" fill="#ff6a00"/>
<circle cx="39.4" cy="199.1" r="1.15" fill="#ff6a00"/>
<circle cx="47.4" cy="200.2" r="1.15" fill="#ff6a00"/>
<circle cx="54.8" cy="200.8" r="1.15" fill="#ff6a00"/>
<circle cx="62.2" cy="199.5" r="1.15" fill="#ff6a00"/>
<circle cx="70.6" cy="198.9" r="1.15" fill="#ff6a00"/>
<circle cx="77.4" cy="198.3" r="1.15" fill="#ff6a00"/>
<circle cx="84.3" cy="198.1" r="1.15" fill="#ff6a00"/>
<path d="M25.3 224.5H107V174.2" stroke="#b4b4b4" stroke-width="1" fill="none"/>
<path d="M107 212.45h-1.2" stroke="#aaa" stroke-width="0.6"/>
<path d="M107 197.15h-1.2" stroke="#aaa" stroke-width="0.6"/>
<path d="M107 181.85h-1.2" stroke="#aaa" stroke-width="0.6"/>
<path d="M29.5 224.5v-1.5" stroke="#999" stroke-width="0.7"/>
<text x="29.5" y="230.4" font-size="5.4" font-weight="bold" text-anchor="middle" style="stroke-width:0.1px">0.0</text>
<path d="M66.75 224.5v-1.5" stroke="#999" stroke-width="0.7"/>
<text x="66.75" y="230.4" font-size="5.4" font-weight="bold" text-anchor="middle" style="stroke-width:0.1px">0.5</text>
<path d="M104 224.5v-1.5" stroke="#999" stroke-width="0.7"/>
<text x="104" y="230.4" font-size="5.4" font-weight="bold" text-anchor="middle" style="stroke-width:0.1px">1.0</text>
<path d="M107 220.1h-1.5" stroke="#999" stroke-width="0.7"/>
<text x="108.3" y="222" font-size="5.4" font-weight="bold" style="stroke-width:0.12px">0.5</text>
<path d="M107 204.8h-1.5" stroke="#999" stroke-width="0.7"/>
<text x="108.3" y="206.7" font-size="5.4" font-weight="bold" style="stroke-width:0.12px">1.0</text>
<path d="M107 189.5h-1.5" stroke="#999" stroke-width="0.7"/>
<text x="108.3" y="191.4" font-size="5.4" font-weight="bold" style="stroke-width:0.12px">1.5</text>
</g>
<rect x="25.3" y="174.2" width="204" height="144.2" fill="none" stroke="#222" stroke-width="1"/>
<path d="M22.9 306.71H25.3M229.3 306.71h-3" stroke="#222" stroke-width="0.9"/>
<text x="21.5" y="309.21" font-size="7.2" text-anchor="end">0.5</text>
<path d="M22.9 265.27H25.3M229.3 265.27h-3" stroke="#222" stroke-width="0.9"/>
<text x="21.5" y="267.77" font-size="7.2" text-anchor="end">1.0</text>
<path d="M22.9 223.84H25.3M229.3 223.84h-3" stroke="#222" stroke-width="0.9"/>
<text x="21.5" y="226.34" font-size="7.2" text-anchor="end">1.5</text>
<path d="M22.9 182.4H25.3M229.3 182.4h-3" stroke="#222" stroke-width="0.9"/>
<text x="21.5" y="184.9" font-size="7.2" text-anchor="end">2.0</text>
<path d="M23.3 285.99H25.3M229.3 285.99h-2" stroke="#222" stroke-width="0.9"/>
<path d="M23.3 244.55H25.3M229.3 244.55h-2" stroke="#222" stroke-width="0.9"/>
<path d="M23.3 203.12H25.3M229.3 203.12h-2" stroke="#222" stroke-width="0.9"/>
<path d="M36.8 318.4v2.8" stroke="#222" stroke-width="0.9"/>
<text x="36.8" y="328.2" font-size="6.8" text-anchor="middle">1E-5</text>
<path d="M73.06 318.4v2.8" stroke="#222" stroke-width="0.9"/>
<text x="73.06" y="328.2" font-size="6.8" text-anchor="middle">1E-4</text>
<path d="M109.32 318.4v2.8" stroke="#222" stroke-width="0.9"/>
<text x="109.32" y="328.2" font-size="6.8" text-anchor="middle">1E-3</text>
<path d="M145.58 318.4v2.8" stroke="#222" stroke-width="0.9"/>
<text x="145.58" y="328.2" font-size="6.8" text-anchor="middle">0.01</text>
<path d="M181.84 318.4v2.8" stroke="#222" stroke-width="0.9"/>
<text x="181.84" y="328.2" font-size="6.8" text-anchor="middle">0.1</text>
<path d="M218.1 318.4v2.8" stroke="#222" stroke-width="0.9"/>
<text x="218.1" y="328.2" font-size="6.8" text-anchor="middle">1</text>
<path d="M36.7 174.2v2.6" stroke="#222" stroke-width="0.9"/>
<path d="M73 174.2v2.6" stroke="#222" stroke-width="0.9"/>
<path d="M109.1 174.2v2.6" stroke="#222" stroke-width="0.9"/>
<path d="M145.3 174.2v2.6" stroke="#222" stroke-width="0.9"/>
<path d="M181.7 174.2v2.6" stroke="#222" stroke-width="0.9"/>
<path d="M218.4 174.2v2.6" stroke="#222" stroke-width="0.9"/>
<text transform="translate(7,250.9) rotate(-90)" font-size="7.3" text-anchor="middle" textLength="56" lengthAdjust="spacingAndGlyphs">log[W(4984)/Ebv]</text>
<text x="123.8" y="340.5" font-size="8.0">f<tspan font-size="4.3" dy="2.9" style="stroke-width:0.2px">H2</tspan></text>
<text x="163.3" y="189.2" font-size="14.2">C</text>
<text x="177.3" y="189.3" font-size="7.8" textLength="38.74" lengthAdjust="spacingAndGlyphs">(92 points)</text>
<g>
<path d="M281.1 239.6V257.3" stroke="#505050" stroke-width="1.2" fill="none"/>
<path d="M280.2 240H282M280.2 256.9H282" stroke="#222" stroke-width="1" fill="none"/>
<rect x="280.4" y="247.75" width="1.4" height="1.4" fill="#333"/>
<path d="M292.2 239.6V264.9" stroke="#505050" stroke-width="1.2" fill="none"/>
<path d="M291.3 240H293.1M291.3 264.5H293.1" stroke="#222" stroke-width="1" fill="none"/>
<rect x="291.5" y="251.55" width="1.4" height="1.4" fill="#333"/>
<path d="M329.2 267.5V275.4" stroke="#505050" stroke-width="1.2" fill="none"/>
<path d="M328.3 267.9H330.1M328.3 275H330.1" stroke="#222" stroke-width="1" fill="none"/>
<circle cx="329.2" cy="271.3" r="1.4" fill="#fff" stroke="#9a9a9a" stroke-width="0.7"/>
<path d="M380.8 280.1V289" stroke="#5a5aff" stroke-width="1.3" fill="none"/>
<path d="M379.9 280.5H381.7M379.9 288.6H381.7" stroke="#3030f0" stroke-width="1" fill="none"/>
<rect x="380.1" y="283.85" width="1.4" height="1.4" fill="#2a2aee"/>
<path d="M377.6 211.3V230.8" stroke="#505050" stroke-width="1.2" fill="none"/>
<path d="M376.7 211.7H378.5M376.7 230.4H378.5" stroke="#222" stroke-width="1" fill="none"/>
<circle cx="377.6" cy="221" r="1.4" fill="#fff" stroke="#9a9a9a" stroke-width="0.7"/>
<path d="M393.2 247.7L395.5 250L393.2 252.3L390.9 250Z" fill="none" stroke="#ff0000" stroke-width="0.8"/>
<path d="M409.3 234.6L409.83 235.87L411.2 235.98L410.16 236.88L410.48 238.22L409.3 237.5L408.12 238.22L408.44 236.88L407.4 235.98L408.77 235.87Z" fill="none" stroke="#ff0000" stroke-width="0.8"/>
<path d="M403.9 211.3V223.9" stroke="#505050" stroke-width="1.2" fill="none"/>
<path d="M403 211.7H404.8M403 223.5H404.8" stroke="#222" stroke-width="1" fill="none"/>
<rect x="403.2" y="216.9" width="1.4" height="1.4" fill="#333"/>
<path d="M402.7 229.1V247.5" stroke="#505050" stroke-width="1.2" fill="none"/>
<path d="M401.8 229.5H403.6M401.8 247.1H403.6" stroke="#222" stroke-width="1" fill="none"/>
<rect x="402" y="237.6" width="1.4" height="1.4" fill="#333"/>
<path d="M403.9 240.6V260.3" stroke="#505050" stroke-width="1.2" fill="none"/>
<path d="M403 241H404.8M403 259.9H404.8" stroke="#222" stroke-width="1" fill="none"/>
<rect x="403.2" y="249.75" width="1.4" height="1.4" fill="#333"/>
<path d="M411.9 248.6V267.2" stroke="#505050" stroke-width="1.2" fill="none"/>
<path d="M411 249H412.8M411 266.8H412.8" stroke="#222" stroke-width="1" fill="none"/>
<rect x="411.2" y="257.2" width="1.4" height="1.4" fill="#333"/>
<path d="M414.4 232.5V246.3" stroke="#505050" stroke-width="1.2" fill="none"/>
<path d="M413.5 232.9H415.3M413.5 245.9H415.3" stroke="#222" stroke-width="1" fill="none"/>
<rect x="413.7" y="238.7" width="1.4" height="1.4" fill="#333"/>
<path d="M412.4 232.3H416.4M414.4 230.3V234.3" stroke="#ff0000" stroke-width="1"/>
<path d="M417.1 214.6V226.7" stroke="#5a5aff" stroke-width="1.3" fill="none"/>
<path d="M416.2 215H418M416.2 226.3H418" stroke="#3030f0" stroke-width="1" fill="none"/>
<rect x="416.4" y="219.95" width="1.4" height="1.4" fill="#2a2aee"/>
<path d="M418.4 224.9V243.6" stroke="#505050" stroke-width="1.2" fill="none"/>
<path d="M417.5 225.3H419.3M417.5 243.2H419.3" stroke="#222" stroke-width="1" fill="none"/>
<rect x="417.7" y="233.55" width="1.4" height="1.4" fill="#333"/>
<path d="M419.3 236.1V264.1" stroke="#505050" stroke-width="1.2" fill="none"/>
<path d="M418.4 236.5H420.2M418.4 263.7H420.2" stroke="#222" stroke-width="1" fill="none"/>
<rect x="418.6" y="249.4" width="1.4" height="1.4" fill="#333"/>
<path d="M420 241.7V267" stroke="#8a8a8a" stroke-width="1.6" fill="none"/>
<path d="M419.1 242.1H420.9M419.1 266.6H420.9" stroke="#444" stroke-width="1" fill="none"/>
<rect x="419.3" y="253.65" width="1.4" height="1.4" fill="#333"/>
<path d="M421.6 199.6V223" stroke="#5a5aff" stroke-width="1.3" fill="none"/>
<path d="M420.7 200H422.5M420.7 222.6H422.5" stroke="#3030f0" stroke-width="1" fill="none"/>
<rect x="420.9" y="210.6" width="1.4" height="1.4" fill="#2a2aee"/>
<path d="M422.1 213.6V236.1" stroke="#505050" stroke-width="1.2" fill="none"/>
<path d="M421.2 214H423M421.2 235.7H423" stroke="#222" stroke-width="1" fill="none"/>
<rect x="421.4" y="224.15" width="1.4" height="1.4" fill="#333"/>
<path d="M423.5 219.3V234.2" stroke="#5a5aff" stroke-width="1.3" fill="none"/>
<path d="M422.6 219.7H424.4M422.6 233.8H424.4" stroke="#3030f0" stroke-width="1" fill="none"/>
<rect x="422.8" y="226.05" width="1.4" height="1.4" fill="#2a2aee"/>
<path d="M425 217.4V249.2" stroke="#505050" stroke-width="1.2" fill="none"/>
<path d="M424.1 217.8H425.9M424.1 248.8H425.9" stroke="#222" stroke-width="1" fill="none"/>
<rect x="424.3" y="232.6" width="1.4" height="1.4" fill="#333"/>
<path d="M425.9 228.6V241.7" stroke="#5a5aff" stroke-width="1.3" fill="none"/>
<path d="M425 229H426.8M425 241.3H426.8" stroke="#3030f0" stroke-width="1" fill="none"/>
<rect x="425.2" y="234.45" width="1.4" height="1.4" fill="#2a2aee"/>
<path d="M428.3 209V226.7" stroke="#505050" stroke-width="1.2" fill="none"/>
<path d="M427.4 209.4H429.2M427.4 226.3H429.2" stroke="#222" stroke-width="1" fill="none"/>
<rect x="427.6" y="217.15" width="1.4" height="1.4" fill="#333"/>
<path d="M428.7 228.6V243.6" stroke="#505050" stroke-width="1.2" fill="none"/>
<path d="M427.8 229H429.6M427.8 243.2H429.6" stroke="#222" stroke-width="1" fill="none"/>
<rect x="428" y="235.4" width="1.4" height="1.4" fill="#333"/>
<path d="M430.6 211.8V228.6" stroke="#5a5aff" stroke-width="1.3" fill="none"/>
<path d="M429.7 212.2H431.5M429.7 228.2H431.5" stroke="#3030f0" stroke-width="1" fill="none"/>
<rect x="429.9" y="219.5" width="1.4" height="1.4" fill="#2a2aee"/>
<path d="M431.5 236.1V254.8" stroke="#5a5aff" stroke-width="1.3" fill="none"/>
<path d="M430.6 236.5H432.4M430.6 254.4H432.4" stroke="#3030f0" stroke-width="1" fill="none"/>
<rect x="430.8" y="244.75" width="1.4" height="1.4" fill="#2a2aee"/>
<path d="M432.4 228.6V247.3" stroke="#505050" stroke-width="1.2" fill="none"/>
<path d="M431.5 229H433.3M431.5 246.9H433.3" stroke="#222" stroke-width="1" fill="none"/>
<rect x="431.7" y="237.25" width="1.4" height="1.4" fill="#333"/>
<path d="M433.9 206.2V228.6" stroke="#505050" stroke-width="1.2" fill="none"/>
<path d="M433 206.6H434.8M433 228.2H434.8" stroke="#222" stroke-width="1" fill="none"/>
<rect x="433.2" y="216.7" width="1.4" height="1.4" fill="#333"/>
<path d="M434.3 228.6V238" stroke="#5a5aff" stroke-width="1.3" fill="none"/>
<path d="M433.4 229H435.2M433.4 237.6H435.2" stroke="#3030f0" stroke-width="1" fill="none"/>
<rect x="433.6" y="232.6" width="1.4" height="1.4" fill="#2a2aee"/>
<path d="M436.2 213.6V234.2" stroke="#505050" stroke-width="1.2" fill="none"/>
<path d="M435.3 214H437.1M435.3 233.8H437.1" stroke="#222" stroke-width="1" fill="none"/>
<rect x="435.5" y="223.2" width="1.4" height="1.4" fill="#333"/>
<path d="M436.9 211.8V239.8" stroke="#8a8a8a" stroke-width="1.6" fill="none"/>
<path d="M436 212.2H437.8M436 239.4H437.8" stroke="#444" stroke-width="1" fill="none"/>
<rect x="436.2" y="225.1" width="1.4" height="1.4" fill="#333"/>
<path d="M437.5 243.6V257.6" stroke="#5a5aff" stroke-width="1.3" fill="none"/>
<path d="M436.6 244H438.4M436.6 257.2H438.4" stroke="#3030f0" stroke-width="1" fill="none"/>
<rect x="436.8" y="249.9" width="1.4" height="1.4" fill="#2a2aee"/>
<path d="M438.5 217.4V232.3" stroke="#5a5aff" stroke-width="1.3" fill="none"/>
<path d="M437.6 217.8H439.4M437.6 231.9H439.4" stroke="#3030f0" stroke-width="1" fill="none"/>
<rect x="437.8" y="224.15" width="1.4" height="1.4" fill="#2a2aee"/>
<path d="M439 217.4V232.3" stroke="#505050" stroke-width="1.2" fill="none"/>
<path d="M438.1 217.8H439.9M438.1 231.9H439.9" stroke="#222" stroke-width="1" fill="none"/>
<rect x="438.3" y="224.15" width="1.4" height="1.4" fill="#333"/>
<path d="M440 219.3V238" stroke="#5a5aff" stroke-width="1.3" fill="none"/>
<path d="M439.1 219.7H440.9M439.1 237.6H440.9" stroke="#3030f0" stroke-width="1" fill="none"/>
<rect x="439.3" y="227.95" width="1.4" height="1.4" fill="#2a2aee"/>
<path d="M441.8 217.4V239.8" stroke="#505050" stroke-width="1.2" fill="none"/>
<path d="M440.9 217.8H442.7M440.9 239.4H442.7" stroke="#222" stroke-width="1" fill="none"/>
<rect x="441.1" y="227.9" width="1.4" height="1.4" fill="#333"/>
<path d="M442.8 219V245.4" stroke="#505050" stroke-width="1.2" fill="none"/>
<path d="M441.9 219.4H443.7M441.9 245H443.7" stroke="#222" stroke-width="1" fill="none"/>
<rect x="442.1" y="231.5" width="1.4" height="1.4" fill="#333"/>
<path d="M445.3 224.9V251" stroke="#505050" stroke-width="1.2" fill="none"/>
<path d="M444.4 225.3H446.2M444.4 250.6H446.2" stroke="#222" stroke-width="1" fill="none"/>
<rect x="444.6" y="237.25" width="1.4" height="1.4" fill="#333"/>
<path d="M445.9 221.1V245.4" stroke="#5a5aff" stroke-width="1.3" fill="none"/>
<path d="M445 221.5H446.8M445 245H446.8" stroke="#3030f0" stroke-width="1" fill="none"/>
<rect x="445.2" y="232.55" width="1.4" height="1.4" fill="#2a2aee"/>
<path d="M446.6 200.6V217.4" stroke="#505050" stroke-width="1.2" fill="none"/>
<path d="M445.7 201H447.5M445.7 217H447.5" stroke="#222" stroke-width="1" fill="none"/>
<rect x="445.9" y="208.3" width="1.4" height="1.4" fill="#333"/>
<path d="M447.7 236.1V262.2" stroke="#505050" stroke-width="1.2" fill="none"/>
<path d="M446.8 236.5H448.6M446.8 261.8H448.6" stroke="#222" stroke-width="1" fill="none"/>
<rect x="447" y="248.45" width="1.4" height="1.4" fill="#333"/>
<path d="M448.1 267.9V279.1" stroke="#505050" stroke-width="1.2" fill="none"/>
<path d="M447.2 268.3H449M447.2 278.7H449" stroke="#222" stroke-width="1" fill="none"/>
<rect x="447.4" y="272.8" width="1.4" height="1.4" fill="#333"/>
<path d="M450 217.4V230.5" stroke="#5a5aff" stroke-width="1.3" fill="none"/>
<path d="M449.1 217.8H450.9M449.1 230.1H450.9" stroke="#3030f0" stroke-width="1" fill="none"/>
<rect x="449.3" y="223.25" width="1.4" height="1.4" fill="#2a2aee"/>
<path d="M450.9 232.3V243.6" stroke="#5a5aff" stroke-width="1.3" fill="none"/>
<path d="M450 232.7H451.8M450 243.2H451.8" stroke="#3030f0" stroke-width="1" fill="none"/>
<rect x="450.2" y="237.25" width="1.4" height="1.4" fill="#2a2aee"/>
<path d="M452.2 239.8V254.8" stroke="#505050" stroke-width="1.2" fill="none"/>
<path d="M451.3 240.2H453.1M451.3 254.4H453.1" stroke="#222" stroke-width="1" fill="none"/>
<rect x="451.5" y="246.6" width="1.4" height="1.4" fill="#333"/>
<path d="M453.7 251V273.4" stroke="#505050" stroke-width="1.2" fill="none"/>
<path d="M452.8 251.4H454.6M452.8 273H454.6" stroke="#222" stroke-width="1" fill="none"/>
<rect x="453" y="261.5" width="1.4" height="1.4" fill="#333"/>
<path d="M455.2 252.9V264.1" stroke="#5a5aff" stroke-width="1.3" fill="none"/>
<path d="M454.3 253.3H456.1M454.3 263.7H456.1" stroke="#3030f0" stroke-width="1" fill="none"/>
<rect x="454.5" y="257.8" width="1.4" height="1.4" fill="#2a2aee"/>
<path d="M456.5 258.5V271.6" stroke="#505050" stroke-width="1.2" fill="none"/>
<path d="M455.6 258.9H457.4M455.6 271.2H457.4" stroke="#222" stroke-width="1" fill="none"/>
<rect x="455.8" y="264.35" width="1.4" height="1.4" fill="#333"/>
<path d="M457.8 277.2V290.3" stroke="#505050" stroke-width="1.2" fill="none"/>
<path d="M456.9 277.6H458.7M456.9 289.9H458.7" stroke="#222" stroke-width="1" fill="none"/>
<circle cx="457.8" cy="289.3" r="1.6" fill="#ff0000"/>
<path d="M456.5 296.8V303.4" stroke="#5a5aff" stroke-width="1.3" fill="none"/>
<path d="M455.6 297.2H457.4M455.6 303H457.4" stroke="#3030f0" stroke-width="1" fill="none"/>
<rect x="455.8" y="299.4" width="1.4" height="1.4" fill="#2a2aee"/>
<circle cx="444.4" cy="229" r="1.4" fill="none" stroke="#ff0000" stroke-width="0.8"/>
<circle cx="452.8" cy="236.1" r="1.4" fill="none" stroke="#ff0000" stroke-width="0.8"/>
<circle cx="450.9" cy="246.4" r="1.6" fill="#ff0000"/>
<circle cx="454.7" cy="250.7" r="1.6" fill="#ff0000"/>
<circle cx="456.5" cy="264.1" r="1.4" fill="none" stroke="#ff0000" stroke-width="0.8"/>
<path d="M454.3 265.3L458.7 269.7M458.7 265.3L454.3 269.7" stroke="#ff0000" stroke-width="0.9"/>
<path d="M432.1 219.82V228.44" stroke="#5a5aff" stroke-width="1.3" fill="none"/>
<path d="M434.85 221.02V232.43" stroke="#505050" stroke-width="1.1" fill="none"/>
<path d="M433.95 221.42H435.75M433.95 232.03H435.75" stroke="#222" stroke-width="0.9" fill="none"/>
<path d="M434.77 226.79V238.23" stroke="#5a5aff" stroke-width="1.3" fill="none"/>
<path d="M440.99 207.96V218.24" stroke="#5a5aff" stroke-width="1.3" fill="none"/>
<path d="M434.72 220.15V230.43" stroke="#5a5aff" stroke-width="1.3" fill="none"/>
<path d="M434.65 217.48V228.74" stroke="#5a5aff" stroke-width="1.3" fill="none"/>
<path d="M432.22 226.56V237.71" stroke="#505050" stroke-width="1.1" fill="none"/>
<path d="M431.32 226.96H433.12M431.32 237.31H433.12" stroke="#222" stroke-width="0.9" fill="none"/>
<path d="M439.35 219.23V234.24" stroke="#505050" stroke-width="1.1" fill="none"/>
<path d="M438.45 219.63H440.25M438.45 233.84H440.25" stroke="#222" stroke-width="0.9" fill="none"/>
<path d="M451.52 243.89V256.84" stroke="#505050" stroke-width="1.1" fill="none"/>
<path d="M450.62 244.29H452.42M450.62 256.44H452.42" stroke="#222" stroke-width="0.9" fill="none"/>
<path d="M447.08 240.29V252.46" stroke="#505050" stroke-width="1.1" fill="none"/>
<path d="M446.18 240.69H447.98M446.18 252.06H447.98" stroke="#222" stroke-width="0.9" fill="none"/>
<path d="M450.97 237.45V244.36" stroke="#5a5aff" stroke-width="1.3" fill="none"/>
<path d="M443.67 230.92V246.89" stroke="#5a5aff" stroke-width="1.3" fill="none"/>
<path d="M443.7 236.51V247.54" stroke="#505050" stroke-width="1.1" fill="none"/>
<path d="M442.8 236.91H444.6M442.8 247.14H444.6" stroke="#222" stroke-width="0.9" fill="none"/>
<path d="M445.74 232.55V238.57" stroke="#5a5aff" stroke-width="1.3" fill="none"/>
<path d="M449.88 247.43V256.79" stroke="#505050" stroke-width="1.1" fill="none"/>
<path d="M448.98 247.83H450.78M448.98 256.39H450.78" stroke="#222" stroke-width="0.9" fill="none"/>
<path d="M451.3 243.16V257.36" stroke="#505050" stroke-width="1.1" fill="none"/>
<path d="M450.4 243.56H452.2M450.4 256.96H452.2" stroke="#222" stroke-width="0.9" fill="none"/>
</g>
<g>
<path d="M287.83 187.73V191.83" stroke="#b8b8b8" stroke-width="0.75"/>
<path d="M293.61 187.61V195.82" stroke="#a8a8a8" stroke-width="0.75"/>
<rect x="293.01" y="191.12" width="1.2" height="1.2" fill="#444"/>
<path d="M273.72 186.37V197.19" stroke="#b4b4f6" stroke-width="0.75"/>
<path d="M278.56 192.2V199.25" stroke="#7878ee" stroke-width="0.75"/>
<path d="M288.08 186.47V193.23" stroke="#888" stroke-width="0.75"/>
<path d="M301.21 195.24V201.87" stroke="#b8b8b8" stroke-width="0.75"/>
<rect x="300.61" y="197.96" width="1.2" height="1.2" fill="#444"/>
<path d="M279.55 195.24V202.51" stroke="#c4c4c4" stroke-width="0.75"/>
<rect x="278.95" y="198.27" width="1.2" height="1.2" fill="#444"/>
<path d="M321.14 199.67V207.23" stroke="#b8b8b8" stroke-width="0.75"/>
<path d="M323.77 203.73V211.52" stroke="#7878ee" stroke-width="0.75"/>
<rect x="323.17" y="207.02" width="1.2" height="1.2" fill="#4848e8"/>
<path d="M274.38 190.26V197.86" stroke="#969696" stroke-width="0.75"/>
<path d="M324.42 199.57V208.6" stroke="#969696" stroke-width="0.75"/>
<path d="M306.7 187.43V193.48" stroke="#8c8cf0" stroke-width="0.75"/>
<path d="M297.72 190.14V194.65" stroke="#b8b8b8" stroke-width="0.75"/>
<rect x="297.12" y="191.8" width="1.2" height="1.2" fill="#444"/>
<path d="M312.45 191.83V198.97" stroke="#c4c4c4" stroke-width="0.75"/>
<rect x="311.85" y="194.8" width="1.2" height="1.2" fill="#444"/>
<path d="M301.92 191.56V196.65" stroke="#888" stroke-width="0.75"/>
<path d="M317.99 200.43V204.54" stroke="#7878ee" stroke-width="0.75"/>
<path d="M286.93 189.24V192.27" stroke="#a0a0f4" stroke-width="0.75"/>
<rect x="286.33" y="190.16" width="1.2" height="1.2" fill="#4848e8"/>
<path d="M313.13 197.05V201.06" stroke="#a0a0f4" stroke-width="0.75"/>
<rect x="312.53" y="198.46" width="1.2" height="1.2" fill="#4848e8"/>
<path d="M274.35 191.01V200.85" stroke="#c4c4c4" stroke-width="0.75"/>
<rect x="273.75" y="195.33" width="1.2" height="1.2" fill="#444"/>
<path d="M296.73 188.57V196.46" stroke="#7878ee" stroke-width="0.75"/>
<path d="M274.41 193.23V202.94" stroke="#888" stroke-width="0.75"/>
<rect x="273.81" y="197.49" width="1.2" height="1.2" fill="#444"/>
<path d="M274.76 186.54V196.3" stroke="#888" stroke-width="0.75"/>
<rect x="274.16" y="190.82" width="1.2" height="1.2" fill="#444"/>
<path d="M286.81 186.23V192.94" stroke="#8c8cf0" stroke-width="0.75"/>
<rect x="286.21" y="188.99" width="1.2" height="1.2" fill="#4848e8"/>
<path d="M274.44 193.28V199.81" stroke="#b8b8b8" stroke-width="0.75"/>
<rect x="273.84" y="195.94" width="1.2" height="1.2" fill="#444"/>
<path d="M285.46 189.76V193.34" stroke="#7878ee" stroke-width="0.75"/>
<rect x="284.86" y="190.95" width="1.2" height="1.2" fill="#4848e8"/>
<path d="M274.67 194.25V199.06" stroke="#c4c4c4" stroke-width="0.75"/>
<rect x="274.07" y="196.06" width="1.2" height="1.2" fill="#444"/>
<path d="M273.89 194.26V201.75" stroke="#888" stroke-width="0.75"/>
<rect x="273.29" y="197.4" width="1.2" height="1.2" fill="#444"/>
<path d="M301.42 189.59V195.19" stroke="#b8b8b8" stroke-width="0.75"/>
<rect x="300.82" y="191.79" width="1.2" height="1.2" fill="#444"/>
<path d="M309.85 192.05V198.28" stroke="#888" stroke-width="0.75"/>
<rect x="309.25" y="194.56" width="1.2" height="1.2" fill="#444"/>
<path d="M322.62 193.15V202.35" stroke="#969696" stroke-width="0.75"/>
<path d="M326.95 203.83V214.8" stroke="#c4c4c4" stroke-width="0.75"/>
<rect x="326.35" y="208.71" width="1.2" height="1.2" fill="#444"/>
<path d="M274.23 187.07V192.48" stroke="#a8a8a8" stroke-width="0.75"/>
<rect x="273.63" y="189.18" width="1.2" height="1.2" fill="#444"/>
<path d="M280.37 193.93V197.08" stroke="#8c8cf0" stroke-width="0.75"/>
<path d="M278.66 189.24V197.19" stroke="#969696" stroke-width="0.75"/>
<path d="M281.83 186.57V192.29" stroke="#969696" stroke-width="0.75"/>
<path d="M278.17 194.29V202.28" stroke="#a8a8a8" stroke-width="0.75"/>
<rect x="277.57" y="197.68" width="1.2" height="1.2" fill="#444"/>
<path d="M276.95 189.41V199.3" stroke="#888" stroke-width="0.75"/>
<path d="M276.63 191.43V195.88" stroke="#969696" stroke-width="0.75"/>
<rect x="276.03" y="193.05" width="1.2" height="1.2" fill="#444"/>
<path d="M300.15 191.82V199.05" stroke="#b8b8b8" stroke-width="0.75"/>
<path d="M279.04 195.42V199.8" stroke="#969696" stroke-width="0.75"/>
<rect x="278.44" y="197.01" width="1.2" height="1.2" fill="#444"/>
<path d="M278.26 192.75V202.54" stroke="#c4c4c4" stroke-width="0.75"/>
<rect x="277.66" y="197.05" width="1.2" height="1.2" fill="#444"/>
<path d="M293.28 195.81V200.32" stroke="#969696" stroke-width="0.75"/>
<rect x="292.68" y="197.47" width="1.2" height="1.2" fill="#444"/>
<path d="M273.87 186.54V192.37" stroke="#888" stroke-width="0.75"/>
<rect x="273.27" y="188.86" width="1.2" height="1.2" fill="#444"/>
<path d="M274.5 193.79V203.84" stroke="#888" stroke-width="0.75"/>
<rect x="273.9" y="198.22" width="1.2" height="1.2" fill="#444"/>
<path d="M320.37 198.75V209.72" stroke="#8c8cf0" stroke-width="0.75"/>
<rect x="319.77" y="203.63" width="1.2" height="1.2" fill="#4848e8"/>
<path d="M310.03 192.1V197.57" stroke="#b8b8b8" stroke-width="0.75"/>
<rect x="309.43" y="194.24" width="1.2" height="1.2" fill="#444"/>
<path d="M274.4 193.7V198.99" stroke="#c4c4c4" stroke-width="0.75"/>
<rect x="273.8" y="195.74" width="1.2" height="1.2" fill="#444"/>
<path d="M310.56 196.07V201.71" stroke="#c4c4c4" stroke-width="0.75"/>
<path d="M274.14 190.73V195.88" stroke="#a8a8a8" stroke-width="0.75"/>
<rect x="273.54" y="192.71" width="1.2" height="1.2" fill="#444"/>
<path d="M286.77 185.25V192.07" stroke="#888" stroke-width="0.75"/>
<rect x="286.17" y="188.06" width="1.2" height="1.2" fill="#444"/>
<path d="M274.91 195.45V200.87" stroke="#969696" stroke-width="0.75"/>
<rect x="274.31" y="197.56" width="1.2" height="1.2" fill="#444"/>
<path d="M289.11 190.39V199.21" stroke="#b8b8b8" stroke-width="0.75"/>
<rect x="288.51" y="194.2" width="1.2" height="1.2" fill="#444"/>
<path d="M273.85 187.45V195.61" stroke="#b4b4f6" stroke-width="0.75"/>
<rect x="273.25" y="190.93" width="1.2" height="1.2" fill="#4848e8"/>
<path d="M273.7 188.91V193.49" stroke="#c4c4c4" stroke-width="0.75"/>
<path d="M314.32 200.32V209.93" stroke="#969696" stroke-width="0.75"/>
<rect x="313.72" y="204.52" width="1.2" height="1.2" fill="#444"/>
<path d="M300.96 184.07V193.93" stroke="#a8a8a8" stroke-width="0.75"/>
<path d="M298.13 193.41V198.73" stroke="#a0a0f4" stroke-width="0.75"/>
<rect x="297.53" y="195.47" width="1.2" height="1.2" fill="#4848e8"/>
<path d="M283.94 187.47V193.98" stroke="#7878ee" stroke-width="0.75"/>
<path d="M300.92 196.69V200.75" stroke="#a8a8a8" stroke-width="0.75"/>
<path d="M273.82 187.84V191.99" stroke="#a0a0f4" stroke-width="0.75"/>
<rect x="273.22" y="189.31" width="1.2" height="1.2" fill="#4848e8"/>
<path d="M323.52 202.53V211.65" stroke="#c4c4c4" stroke-width="0.75"/>
<path d="M273.65 191.73V194.92" stroke="#a8a8a8" stroke-width="0.75"/>
<rect x="273.05" y="192.72" width="1.2" height="1.2" fill="#444"/>
<path d="M285.7 187.07V194.34" stroke="#b8b8b8" stroke-width="0.75"/>
<rect x="285.1" y="190.11" width="1.2" height="1.2" fill="#444"/>
<path d="M274.51 191.66V202.04" stroke="#b4b4f6" stroke-width="0.75"/>
<path d="M275.77 189.88V198.93" stroke="#7878ee" stroke-width="0.75"/>
<rect x="275.17" y="193.8" width="1.2" height="1.2" fill="#4848e8"/>
<path d="M302.42 189.22V195.14" stroke="#a0a0f4" stroke-width="0.75"/>
<path d="M299.2 187.5V198.27" stroke="#8c8cf0" stroke-width="0.75"/>
<rect x="298.6" y="192.28" width="1.2" height="1.2" fill="#4848e8"/>
<path d="M315.67 194.97V201.49" stroke="#888" stroke-width="0.75"/>
<path d="M273.72 189.69V199.26" stroke="#7878ee" stroke-width="0.75"/>
<rect x="273.12" y="193.88" width="1.2" height="1.2" fill="#4848e8"/>
<path d="M311.51 194.81V201" stroke="#8c8cf0" stroke-width="0.75"/>
<rect x="310.91" y="197.31" width="1.2" height="1.2" fill="#4848e8"/>
<path d="M282.57 180.88V191.77" stroke="#b8b8b8" stroke-width="0.75"/>
<rect x="281.97" y="185.73" width="1.2" height="1.2" fill="#444"/>
<path d="M289.33 185.9V194.13" stroke="#7878ee" stroke-width="0.75"/>
<rect x="288.73" y="189.41" width="1.2" height="1.2" fill="#4848e8"/>
<path d="M275.67 188.93V194.5" stroke="#a8a8a8" stroke-width="0.75"/>
<path d="M274.77 191.59V199.97" stroke="#969696" stroke-width="0.75"/>
<rect x="274.17" y="195.18" width="1.2" height="1.2" fill="#444"/>
<path d="M323.22 197.85V203.21" stroke="#b4b4f6" stroke-width="0.75"/>
<rect x="322.62" y="199.93" width="1.2" height="1.2" fill="#4848e8"/>
<path d="M273.62 192.51V198.98" stroke="#969696" stroke-width="0.75"/>
<rect x="273.02" y="195.14" width="1.2" height="1.2" fill="#444"/>
<path d="M273.63 189.33V196.9" stroke="#b4b4f6" stroke-width="0.75"/>
<rect x="273.03" y="192.51" width="1.2" height="1.2" fill="#4848e8"/>
<path d="M310.62 191.15V202.1" stroke="#7878ee" stroke-width="0.75"/>
<rect x="310.02" y="196.02" width="1.2" height="1.2" fill="#4848e8"/>
<path d="M321.37 196.14V200.86" stroke="#a8a8a8" stroke-width="0.75"/>
<path d="M273.82 191.44V194.82" stroke="#a0a0f4" stroke-width="0.75"/>
<rect x="273.22" y="192.53" width="1.2" height="1.2" fill="#4848e8"/>
<path d="M311.15 193.22V200.14" stroke="#a8a8a8" stroke-width="0.75"/>
<rect x="310.55" y="196.08" width="1.2" height="1.2" fill="#444"/>
<path d="M322.07 199.74V205.71" stroke="#a8a8a8" stroke-width="0.75"/>
<rect x="321.47" y="202.12" width="1.2" height="1.2" fill="#444"/>
<path d="M289.5 189.6V194.62" stroke="#8c8cf0" stroke-width="0.75"/>
<rect x="288.9" y="191.51" width="1.2" height="1.2" fill="#4848e8"/>
<path d="M291.17 186.47V193.2" stroke="#969696" stroke-width="0.75"/>
<rect x="290.57" y="189.24" width="1.2" height="1.2" fill="#444"/>
<path d="M323.15 206.81V210.37" stroke="#b4b4f6" stroke-width="0.75"/>
<rect x="322.55" y="207.99" width="1.2" height="1.2" fill="#4848e8"/>
<path d="M273.86 192.72V199.77" stroke="#8c8cf0" stroke-width="0.75"/>
<rect x="273.26" y="195.65" width="1.2" height="1.2" fill="#4848e8"/>
<path d="M282.57 185.14V191.09" stroke="#a8a8a8" stroke-width="0.75"/>
<rect x="281.97" y="187.52" width="1.2" height="1.2" fill="#444"/>
<path d="M304.61 190.68V200.61" stroke="#888" stroke-width="0.75"/>
<rect x="304.01" y="195.04" width="1.2" height="1.2" fill="#444"/>
<path d="M284.2 185.58V190.86" stroke="#b8b8b8" stroke-width="0.75"/>
<path d="M307 196.04V201.75" stroke="#8c8cf0" stroke-width="0.75"/>
<rect x="306.4" y="198.3" width="1.2" height="1.2" fill="#4848e8"/>
<path d="M324.24 204.31V209.3" stroke="#c4c4c4" stroke-width="0.75"/>
<rect x="323.64" y="206.2" width="1.2" height="1.2" fill="#444"/>
<path d="M282.78 186.82V195.28" stroke="#b8b8b8" stroke-width="0.75"/>
<rect x="282.18" y="190.45" width="1.2" height="1.2" fill="#444"/>
<path d="M274.1 193.25V202" stroke="#7878ee" stroke-width="0.75"/>
<path d="M298.12 191.22V201.78" stroke="#a8a8a8" stroke-width="0.75"/>
<rect x="297.52" y="195.9" width="1.2" height="1.2" fill="#444"/>
<path d="M286.7 194.1V197.29" stroke="#c4c4c4" stroke-width="0.75"/>
<rect x="286.1" y="195.1" width="1.2" height="1.2" fill="#444"/>
<circle cx="275.1" cy="199.1" r="0.95" fill="#ff0000"/>
<circle cx="314" cy="195.3" r="0.95" fill="#ff0000"/>
<circle cx="317.7" cy="199.5" r="0.95" fill="#ff0000"/>
<circle cx="330" cy="212.2" r="0.95" fill="#ff0000"/>
<circle cx="308.2" cy="198" r="0.95" fill="#ff0000"/>
<polyline points="276.6,194.9 284,191.1 291.4,191.7 298.8,195.3 307.2,194.9 314.6,200.6 322,204.4 329.3,208.6" fill="none" stroke="#ff8000" stroke-width="1.25" stroke-linejoin="round"/>
<circle cx="276.6" cy="194.9" r="1.15" fill="#ff6a00"/>
<circle cx="284" cy="191.1" r="1.15" fill="#ff6a00"/>
<circle cx="291.4" cy="191.7" r="1.15" fill="#ff6a00"/>
<circle cx="298.8" cy="195.3" r="1.15" fill="#ff6a00"/>
<circle cx="307.2" cy="194.9" r="1.15" fill="#ff6a00"/>
<circle cx="314.6" cy="200.6" r="1.15" fill="#ff6a00"/>
<circle cx="322" cy="204.4" r="1.15" fill="#ff6a00"/>
<circle cx="329.3" cy="208.6" r="1.15" fill="#ff6a00"/>
<path d="M270.8 222.1H351.5V174.4" stroke="#b4b4b4" stroke-width="1" fill="none"/>
<path d="M351.5 207.88h-1.2" stroke="#aaa" stroke-width="0.6"/>
<path d="M351.5 193.32h-1.2" stroke="#aaa" stroke-width="0.6"/>
<path d="M351.5 178.77h-1.2" stroke="#aaa" stroke-width="0.6"/>
<path d="M274.5 222.1v-1.5" stroke="#999" stroke-width="0.7"/>
<text x="274.5" y="228" font-size="5.4" font-weight="bold" text-anchor="middle" style="stroke-width:0.1px">0.0</text>
<path d="M311.75 222.1v-1.5" stroke="#999" stroke-width="0.7"/>
<text x="311.75" y="228" font-size="5.4" font-weight="bold" text-anchor="middle" style="stroke-width:0.1px">0.5</text>
<path d="M349 222.1v-1.5" stroke="#999" stroke-width="0.7"/>
<text x="349" y="228" font-size="5.4" font-weight="bold" text-anchor="middle" style="stroke-width:0.1px">1.0</text>
<path d="M351.5 215.15h-1.5" stroke="#999" stroke-width="0.7"/>
<text x="352.8" y="217.05" font-size="5.4" font-weight="bold" style="stroke-width:0.12px">2.0</text>
<path d="M351.5 200.6h-1.5" stroke="#999" stroke-width="0.7"/>
<text x="352.8" y="202.5" font-size="5.4" font-weight="bold" style="stroke-width:0.12px">2.5</text>
<path d="M351.5 186.05h-1.5" stroke="#999" stroke-width="0.7"/>
<text x="352.8" y="187.95" font-size="5.4" font-weight="bold" style="stroke-width:0.12px">3.0</text>
</g>
<rect x="270.8" y="174.4" width="202.4" height="144" fill="none" stroke="#222" stroke-width="1"/>
<path d="M268.4 300.6H270.8M473.2 300.6h-3" stroke="#222" stroke-width="0.9"/>
<text x="267" y="303.1" font-size="7.2" text-anchor="end">2.0</text>
<path d="M268.4 255.45H270.8M473.2 255.45h-3" stroke="#222" stroke-width="0.9"/>
<text x="267" y="257.95" font-size="7.2" text-anchor="end">2.5</text>
<path d="M268.4 210.3H270.8M473.2 210.3h-3" stroke="#222" stroke-width="0.9"/>
<text x="267" y="212.8" font-size="7.2" text-anchor="end">3.0</text>
<path d="M268.8 278.02H270.8M473.2 278.02h-2" stroke="#222" stroke-width="0.9"/>
<path d="M268.8 232.88H270.8M473.2 232.88h-2" stroke="#222" stroke-width="0.9"/>
<path d="M268.8 187.73H270.8M473.2 187.73h-2" stroke="#222" stroke-width="0.9"/>
<path d="M281.7 318.4v2.8" stroke="#222" stroke-width="0.9"/>
<text x="281.7" y="328.2" font-size="6.8" text-anchor="middle">1E-5</text>
<path d="M317.9 318.4v2.8" stroke="#222" stroke-width="0.9"/>
<text x="317.9" y="328.2" font-size="6.8" text-anchor="middle">1E-4</text>
<path d="M354.1 318.4v2.8" stroke="#222" stroke-width="0.9"/>
<text x="354.1" y="328.2" font-size="6.8" text-anchor="middle">1E-3</text>
<path d="M390.3 318.4v2.8" stroke="#222" stroke-width="0.9"/>
<text x="390.3" y="328.2" font-size="6.8" text-anchor="middle">0.01</text>
<path d="M426.5 318.4v2.8" stroke="#222" stroke-width="0.9"/>
<text x="426.5" y="328.2" font-size="6.8" text-anchor="middle">0.1</text>
<path d="M462.7 318.4v2.8" stroke="#222" stroke-width="0.9"/>
<text x="462.7" y="328.2" font-size="6.8" text-anchor="middle">1</text>
<path d="M281.6 174.4v2.6" stroke="#222" stroke-width="0.9"/>
<path d="M317.8 174.4v2.6" stroke="#222" stroke-width="0.9"/>
<path d="M353.5 174.4v2.6" stroke="#222" stroke-width="0.9"/>
<path d="M390.5 174.4v2.6" stroke="#222" stroke-width="0.9"/>
<path d="M426.4 174.4v2.6" stroke="#222" stroke-width="0.9"/>
<path d="M462.9 174.4v2.6" stroke="#222" stroke-width="0.9"/>
<text transform="translate(251.3,251.2) rotate(-90)" font-size="7.3" text-anchor="middle" textLength="56" lengthAdjust="spacingAndGlyphs">log[W(5780)/Ebv]</text>
<text x="368.7" y="340.5" font-size="8.0">f<tspan font-size="4.3" dy="2.9" style="stroke-width:0.2px">H2</tspan></text>
<text x="402.6" y="189.2" font-size="14.2">D</text>
<text x="416.8" y="189.3" font-size="7.8" textLength="43.3" lengthAdjust="spacingAndGlyphs">(109 points)</text>
<g>
<path d="M131.4 396.2V414.5" stroke="#505050" stroke-width="1.2" fill="none"/>
<path d="M130.5 396.6H132.3M130.5 414.1H132.3" stroke="#222" stroke-width="1" fill="none"/>
<circle cx="131.4" cy="405.3" r="1.4" fill="#fff" stroke="#9a9a9a" stroke-width="0.7"/>
<path d="M134.7 476V488.6" stroke="#5a5aff" stroke-width="1.3" fill="none"/>
<path d="M133.8 476.4H135.6M133.8 488.2H135.6" stroke="#3030f0" stroke-width="1" fill="none"/>
<rect x="134" y="481.6" width="1.4" height="1.4" fill="#2a2aee"/>
<path d="M146.9 460.3L149.2 462.6L146.9 464.9L144.6 462.6Z" fill="none" stroke="#ff0000" stroke-width="0.8"/>
<circle cx="163.3" cy="410.5" r="1.4" fill="none" stroke="#ff0000" stroke-width="0.8"/>
<path d="M157.6 414V426.9" stroke="#505050" stroke-width="1.2" fill="none"/>
<path d="M156.7 414.4H158.5M156.7 426.5H158.5" stroke="#222" stroke-width="1" fill="none"/>
<rect x="156.9" y="419.75" width="1.4" height="1.4" fill="#333"/>
<path d="M156.7 442.1V475.5" stroke="#505050" stroke-width="1.2" fill="none"/>
<path d="M155.8 442.5H157.6M155.8 475.1H157.6" stroke="#222" stroke-width="1" fill="none"/>
<rect x="156" y="458.1" width="1.4" height="1.4" fill="#333"/>
<path d="M157 455V463" stroke="#505050" stroke-width="1.2" fill="none"/>
<path d="M156.1 455.4H157.9M156.1 462.6H157.9" stroke="#222" stroke-width="1" fill="none"/>
<rect x="156.3" y="458.3" width="1.4" height="1.4" fill="#333"/>
<path d="M165.7 416.2V433.4" stroke="#505050" stroke-width="1.2" fill="none"/>
<path d="M164.8 416.6H166.6M164.8 433H166.6" stroke="#222" stroke-width="1" fill="none"/>
<rect x="165" y="424.1" width="1.4" height="1.4" fill="#333"/>
<path d="M165.8 420.6V433.2" stroke="#8a8a8a" stroke-width="1.6" fill="none"/>
<path d="M164.9 421H166.7M164.9 432.8H166.7" stroke="#444" stroke-width="1" fill="none"/>
<rect x="165.1" y="426.2" width="1.4" height="1.4" fill="#333"/>
<path d="M169 423.4V438.1" stroke="#8a8a8a" stroke-width="1.6" fill="none"/>
<path d="M168.1 423.8H169.9M168.1 437.7H169.9" stroke="#444" stroke-width="1" fill="none"/>
<rect x="168.3" y="430.05" width="1.4" height="1.4" fill="#333"/>
<path d="M170 424V436" stroke="#5a5aff" stroke-width="1.3" fill="none"/>
<path d="M169.1 424.4H170.9M169.1 435.6H170.9" stroke="#3030f0" stroke-width="1" fill="none"/>
<rect x="169.3" y="429.3" width="1.4" height="1.4" fill="#2a2aee"/>
<path d="M171.7 401.6V430" stroke="#505050" stroke-width="1.2" fill="none"/>
<path d="M170.8 402H172.6M170.8 429.6H172.6" stroke="#222" stroke-width="1" fill="none"/>
<rect x="171" y="415.1" width="1.4" height="1.4" fill="#333"/>
<path d="M172.9 398.4V444.2" stroke="#505050" stroke-width="1.2" fill="none"/>
<path d="M172 398.8H173.8M172 443.8H173.8" stroke="#222" stroke-width="1" fill="none"/>
<rect x="172.2" y="420.6" width="1.4" height="1.4" fill="#333"/>
<path d="M173.4 449V471.1" stroke="#505050" stroke-width="1.2" fill="none"/>
<path d="M172.5 449.4H174.3M172.5 470.7H174.3" stroke="#222" stroke-width="1" fill="none"/>
<circle cx="173.4" cy="460" r="1.4" fill="#fff" stroke="#9a9a9a" stroke-width="0.7"/>
<path d="M174.5 417.4V439.5" stroke="#505050" stroke-width="1.2" fill="none"/>
<path d="M173.6 417.8H175.4M173.6 439.1H175.4" stroke="#222" stroke-width="1" fill="none"/>
<rect x="173.8" y="427.75" width="1.4" height="1.4" fill="#333"/>
<path d="M175.8 384.2V417.4" stroke="#5a5aff" stroke-width="1.3" fill="none"/>
<path d="M174.9 384.6H176.7M174.9 417H176.7" stroke="#3030f0" stroke-width="1" fill="none"/>
<rect x="175.1" y="400.1" width="1.4" height="1.4" fill="#2a2aee"/>
<path d="M176.2 417.4V439.5" stroke="#505050" stroke-width="1.2" fill="none"/>
<path d="M175.3 417.8H177.1M175.3 439.1H177.1" stroke="#222" stroke-width="1" fill="none"/>
<rect x="175.5" y="427.75" width="1.4" height="1.4" fill="#333"/>
<path d="M178.9 389.7V415.8" stroke="#505050" stroke-width="1.2" fill="none"/>
<path d="M178 390.1H179.8M178 415.4H179.8" stroke="#222" stroke-width="1" fill="none"/>
<rect x="178.2" y="402.05" width="1.4" height="1.4" fill="#333"/>
<path d="M179.3 409.5V436.4" stroke="#5a5aff" stroke-width="1.3" fill="none"/>
<path d="M178.4 409.9H180.2M178.4 436H180.2" stroke="#3030f0" stroke-width="1" fill="none"/>
<rect x="178.6" y="422.25" width="1.4" height="1.4" fill="#2a2aee"/>
<path d="M181 401.6V414.2" stroke="#505050" stroke-width="1.2" fill="none"/>
<path d="M180.1 402H181.9M180.1 413.8H181.9" stroke="#222" stroke-width="1" fill="none"/>
<rect x="180.3" y="407.2" width="1.4" height="1.4" fill="#333"/>
<path d="M181.6 409.5V431.6" stroke="#505050" stroke-width="1.2" fill="none"/>
<path d="M180.7 409.9H182.5M180.7 431.2H182.5" stroke="#222" stroke-width="1" fill="none"/>
<rect x="180.9" y="419.85" width="1.4" height="1.4" fill="#333"/>
<path d="M183.2 414.2V425.3" stroke="#505050" stroke-width="1.2" fill="none"/>
<path d="M182.3 414.6H184.1M182.3 424.9H184.1" stroke="#222" stroke-width="1" fill="none"/>
<rect x="182.5" y="419.05" width="1.4" height="1.4" fill="#333"/>
<path d="M184.8 403.2V423.7" stroke="#5a5aff" stroke-width="1.3" fill="none"/>
<path d="M183.9 403.6H185.7M183.9 423.3H185.7" stroke="#3030f0" stroke-width="1" fill="none"/>
<rect x="184.1" y="412.75" width="1.4" height="1.4" fill="#2a2aee"/>
<path d="M185.6 395.3V417.4" stroke="#505050" stroke-width="1.2" fill="none"/>
<path d="M184.7 395.7H186.5M184.7 417H186.5" stroke="#222" stroke-width="1" fill="none"/>
<rect x="184.9" y="405.65" width="1.4" height="1.4" fill="#333"/>
<path d="M186.4 411.1V422.2" stroke="#5a5aff" stroke-width="1.3" fill="none"/>
<path d="M185.5 411.5H187.3M185.5 421.8H187.3" stroke="#3030f0" stroke-width="1" fill="none"/>
<rect x="185.7" y="415.95" width="1.4" height="1.4" fill="#2a2aee"/>
<path d="M187.2 404.8V430" stroke="#505050" stroke-width="1.2" fill="none"/>
<path d="M186.3 405.2H188.1M186.3 429.6H188.1" stroke="#222" stroke-width="1" fill="none"/>
<rect x="186.5" y="416.7" width="1.4" height="1.4" fill="#333"/>
<path d="M188.5 390.5V401.6" stroke="#505050" stroke-width="1.2" fill="none"/>
<path d="M187.6 390.9H189.4M187.6 401.2H189.4" stroke="#222" stroke-width="1" fill="none"/>
<rect x="187.8" y="395.35" width="1.4" height="1.4" fill="#333"/>
<path d="M189.6 390.5V398.4" stroke="#505050" stroke-width="1.2" fill="none"/>
<path d="M188.7 390.9H190.5M188.7 398H190.5" stroke="#222" stroke-width="1" fill="none"/>
<rect x="188.9" y="393.75" width="1.4" height="1.4" fill="#333"/>
<path d="M190.7 423.7V437.7" stroke="#5a5aff" stroke-width="1.3" fill="none"/>
<path d="M189.8 424.1H191.6M189.8 437.3H191.6" stroke="#3030f0" stroke-width="1" fill="none"/>
<rect x="190" y="430" width="1.4" height="1.4" fill="#2a2aee"/>
<path d="M191.3 386.5V411.3" stroke="#505050" stroke-width="1.2" fill="none"/>
<path d="M190.4 386.9H192.2M190.4 410.9H192.2" stroke="#222" stroke-width="1" fill="none"/>
<rect x="190.6" y="398.2" width="1.4" height="1.4" fill="#333"/>
<path d="M192.7 385.8V409.5" stroke="#505050" stroke-width="1.2" fill="none"/>
<path d="M191.8 386.2H193.6M191.8 409.1H193.6" stroke="#222" stroke-width="1" fill="none"/>
<rect x="192" y="396.95" width="1.4" height="1.4" fill="#333"/>
<path d="M192.3 415.8V422.2" stroke="#5a5aff" stroke-width="1.3" fill="none"/>
<path d="M191.4 416.2H193.2M191.4 421.8H193.2" stroke="#3030f0" stroke-width="1" fill="none"/>
<rect x="191.6" y="418.3" width="1.4" height="1.4" fill="#2a2aee"/>
<path d="M194.2 396.5V414" stroke="#5a5aff" stroke-width="1.3" fill="none"/>
<path d="M193.3 396.9H195.1M193.3 413.6H195.1" stroke="#3030f0" stroke-width="1" fill="none"/>
<rect x="193.5" y="404.55" width="1.4" height="1.4" fill="#2a2aee"/>
<path d="M195.1 393.4V412.4" stroke="#505050" stroke-width="1.2" fill="none"/>
<path d="M194.2 393.8H196M194.2 412H196" stroke="#222" stroke-width="1" fill="none"/>
<rect x="194.4" y="402.2" width="1.4" height="1.4" fill="#333"/>
<path d="M196.6 384.8V408" stroke="#505050" stroke-width="1.2" fill="none"/>
<path d="M195.7 385.2H197.5M195.7 407.6H197.5" stroke="#222" stroke-width="1" fill="none"/>
<rect x="195.9" y="395.7" width="1.4" height="1.4" fill="#333"/>
<path d="M197.4 406.3V426" stroke="#5a5aff" stroke-width="1.3" fill="none"/>
<path d="M196.5 406.7H198.3M196.5 425.6H198.3" stroke="#3030f0" stroke-width="1" fill="none"/>
<rect x="196.7" y="415.45" width="1.4" height="1.4" fill="#2a2aee"/>
<path d="M199.1 395.3V430" stroke="#505050" stroke-width="1.2" fill="none"/>
<path d="M198.2 395.7H200M198.2 429.6H200" stroke="#222" stroke-width="1" fill="none"/>
<rect x="198.4" y="411.95" width="1.4" height="1.4" fill="#333"/>
<path d="M200.2 393.1V431.1" stroke="#505050" stroke-width="1.2" fill="none"/>
<path d="M199.3 393.5H201.1M199.3 430.7H201.1" stroke="#222" stroke-width="1" fill="none"/>
<rect x="199.5" y="411.4" width="1.4" height="1.4" fill="#333"/>
<path d="M201.5 398V422.8" stroke="#5a5aff" stroke-width="1.3" fill="none"/>
<path d="M200.6 398.4H202.4M200.6 422.4H202.4" stroke="#3030f0" stroke-width="1" fill="none"/>
<rect x="200.8" y="409.7" width="1.4" height="1.4" fill="#2a2aee"/>
<path d="M202.4 394.8V434.4" stroke="#505050" stroke-width="1.2" fill="none"/>
<path d="M201.5 395.2H203.3M201.5 434H203.3" stroke="#222" stroke-width="1" fill="none"/>
<rect x="201.7" y="413.9" width="1.4" height="1.4" fill="#333"/>
<path d="M203.6 401.4V414.6" stroke="#5a5aff" stroke-width="1.3" fill="none"/>
<path d="M202.7 401.8H204.5M202.7 414.2H204.5" stroke="#3030f0" stroke-width="1" fill="none"/>
<rect x="202.9" y="407.3" width="1.4" height="1.4" fill="#2a2aee"/>
<path d="M205.2 405V422" stroke="#505050" stroke-width="1.2" fill="none"/>
<path d="M204.3 405.4H206.1M204.3 421.6H206.1" stroke="#222" stroke-width="1" fill="none"/>
<rect x="204.5" y="412.8" width="1.4" height="1.4" fill="#333"/>
<path d="M206.5 419.5V436" stroke="#5a5aff" stroke-width="1.3" fill="none"/>
<path d="M205.6 419.9H207.4M205.6 435.6H207.4" stroke="#3030f0" stroke-width="1" fill="none"/>
<rect x="205.8" y="427.05" width="1.4" height="1.4" fill="#2a2aee"/>
<path d="M207.4 401.4V417.9" stroke="#505050" stroke-width="1.2" fill="none"/>
<path d="M206.5 401.8H208.3M206.5 417.5H208.3" stroke="#222" stroke-width="1" fill="none"/>
<rect x="206.7" y="408.95" width="1.4" height="1.4" fill="#333"/>
<path d="M209 417.9V434.4" stroke="#505050" stroke-width="1.2" fill="none"/>
<path d="M208.1 418.3H209.9M208.1 434H209.9" stroke="#222" stroke-width="1" fill="none"/>
<rect x="208.3" y="425.45" width="1.4" height="1.4" fill="#333"/>
<path d="M209.8 391.4V396.4" stroke="#5a5aff" stroke-width="1.3" fill="none"/>
<path d="M208.9 391.8H210.7M208.9 396H210.7" stroke="#3030f0" stroke-width="1" fill="none"/>
<path d="M209.8 391.8L211.9 393.9L209.8 396L207.7 393.9Z" fill="none" stroke="#7070ff" stroke-width="0.8"/>
<path d="M211.5 417.9V434.4" stroke="#505050" stroke-width="1.2" fill="none"/>
<path d="M210.6 418.3H212.4M210.6 434H212.4" stroke="#222" stroke-width="1" fill="none"/>
<rect x="210.8" y="425.45" width="1.4" height="1.4" fill="#333"/>
<path d="M209.5 460.9V469.1" stroke="#5a5aff" stroke-width="1.3" fill="none"/>
<path d="M208.6 461.3H210.4M208.6 468.7H210.4" stroke="#3030f0" stroke-width="1" fill="none"/>
<rect x="208.8" y="464.3" width="1.4" height="1.4" fill="#2a2aee"/>
<circle cx="169.4" cy="435.6" r="1.6" fill="#ff0000"/>
<circle cx="198.3" cy="410.8" r="1.4" fill="none" stroke="#ff0000" stroke-width="0.8"/>
<circle cx="204.5" cy="416.6" r="1.6" fill="#ff0000"/>
<rect x="206.8" y="414.8" width="2.8" height="2.8" fill="#ff0000"/>
<circle cx="210.2" cy="413.3" r="1.6" fill="#ff0000"/>
<path d="M208.5 428.9L212.9 433.3M212.9 428.9L208.5 433.3" stroke="#ff0000" stroke-width="0.9"/>
<circle cx="211.8" cy="441.4" r="1.6" fill="#ff0000"/>
<path d="M206.2 449.1L208.1 452.4L204.3 452.4Z" fill="none" stroke="#ff0000" stroke-width="0.8"/>
<rect x="209.3" y="455.3" width="2.8" height="2.8" fill="none" stroke="#ff0000" stroke-width="0.8"/>
<path d="M209.5 463.9L211.4 465.8L209.5 467.7L207.6 465.8Z" fill="#ff0000"/>
<path d="M205.01 400.61V410.74" stroke="#505050" stroke-width="1.1" fill="none"/>
<path d="M204.11 401.01H205.91M204.11 410.34H205.91" stroke="#222" stroke-width="0.9" fill="none"/>
<path d="M203.13 420.36V431.01" stroke="#505050" stroke-width="1.1" fill="none"/>
<path d="M202.23 420.76H204.03M202.23 430.61H204.03" stroke="#222" stroke-width="0.9" fill="none"/>
<path d="M199.24 412.41V422.94" stroke="#5a5aff" stroke-width="1.3" fill="none"/>
<path d="M199.48 408.39V423.56" stroke="#505050" stroke-width="1.1" fill="none"/>
<path d="M198.58 408.79H200.38M198.58 423.16H200.38" stroke="#222" stroke-width="0.9" fill="none"/>
<path d="M202.28 398.24V405.04" stroke="#505050" stroke-width="1.1" fill="none"/>
<path d="M201.38 398.64H203.18M201.38 404.64H203.18" stroke="#222" stroke-width="0.9" fill="none"/>
<path d="M199.41 418.23V425.7" stroke="#505050" stroke-width="1.1" fill="none"/>
<path d="M198.51 418.63H200.31M198.51 425.3H200.31" stroke="#222" stroke-width="0.9" fill="none"/>
<path d="M201.93 408.44V422.69" stroke="#5a5aff" stroke-width="1.3" fill="none"/>
<path d="M199.33 418.49V433.5" stroke="#5a5aff" stroke-width="1.3" fill="none"/>
<path d="M192.76 395.45V402.45" stroke="#5a5aff" stroke-width="1.3" fill="none"/>
<path d="M192.29 393.48V403.68" stroke="#505050" stroke-width="1.1" fill="none"/>
<path d="M191.39 393.88H193.19M191.39 403.28H193.19" stroke="#222" stroke-width="0.9" fill="none"/>
<path d="M193.52 397.75V411.67" stroke="#505050" stroke-width="1.1" fill="none"/>
<path d="M192.62 398.15H194.42M192.62 411.27H194.42" stroke="#222" stroke-width="0.9" fill="none"/>
<path d="M189.3 392.93V406.46" stroke="#505050" stroke-width="1.1" fill="none"/>
<path d="M188.4 393.33H190.2M188.4 406.06H190.2" stroke="#222" stroke-width="0.9" fill="none"/>
<path d="M189.3 395.51V410.32" stroke="#5a5aff" stroke-width="1.3" fill="none"/>
</g>
<g>
<path d="M34.54 368.21V381.61" stroke="#c4c4c4" stroke-width="0.75"/>
<rect x="33.94" y="374.31" width="1.2" height="1.2" fill="#444"/>
<path d="M48.57 366.1V379.41" stroke="#b8b8b8" stroke-width="0.75"/>
<rect x="47.97" y="372.15" width="1.2" height="1.2" fill="#444"/>
<path d="M32.66 369.88V383.59" stroke="#c4c4c4" stroke-width="0.75"/>
<path d="M38.45 372.94V382.58" stroke="#969696" stroke-width="0.75"/>
<rect x="37.85" y="377.16" width="1.2" height="1.2" fill="#444"/>
<path d="M31.33 371.76V377.74" stroke="#7878ee" stroke-width="0.75"/>
<rect x="30.73" y="374.15" width="1.2" height="1.2" fill="#4848e8"/>
<path d="M31.77 376.3V381.05" stroke="#7878ee" stroke-width="0.75"/>
<rect x="31.17" y="378.07" width="1.2" height="1.2" fill="#4848e8"/>
<path d="M31.07 375.28V384.04" stroke="#888" stroke-width="0.75"/>
<rect x="30.47" y="379.06" width="1.2" height="1.2" fill="#444"/>
<path d="M57.55 378.39V386.12" stroke="#c4c4c4" stroke-width="0.75"/>
<path d="M33.65 371.86V378.07" stroke="#a8a8a8" stroke-width="0.75"/>
<rect x="33.05" y="374.37" width="1.2" height="1.2" fill="#444"/>
<path d="M28.65 370.31V378.41" stroke="#888" stroke-width="0.75"/>
<rect x="28.05" y="373.76" width="1.2" height="1.2" fill="#444"/>
<path d="M36.85 367.14V375.18" stroke="#a0a0f4" stroke-width="0.75"/>
<rect x="36.25" y="370.56" width="1.2" height="1.2" fill="#4848e8"/>
<path d="M56.95 372.66V378.21" stroke="#888" stroke-width="0.75"/>
<rect x="56.35" y="374.84" width="1.2" height="1.2" fill="#444"/>
<path d="M31.02 371.78V376.97" stroke="#b8b8b8" stroke-width="0.75"/>
<rect x="30.42" y="373.78" width="1.2" height="1.2" fill="#444"/>
<path d="M37.34 367.02V377.2" stroke="#c4c4c4" stroke-width="0.75"/>
<rect x="36.74" y="371.51" width="1.2" height="1.2" fill="#444"/>
<path d="M52.37 366.88V375.43" stroke="#a8a8a8" stroke-width="0.75"/>
<path d="M38.24 362.46V371.82" stroke="#888" stroke-width="0.75"/>
<rect x="37.64" y="366.54" width="1.2" height="1.2" fill="#444"/>
<path d="M34.8 370.94V379.88" stroke="#b4b4f6" stroke-width="0.75"/>
<rect x="34.2" y="374.81" width="1.2" height="1.2" fill="#4848e8"/>
<path d="M72.6 367.4V380.41" stroke="#b4b4f6" stroke-width="0.75"/>
<path d="M57.15 363.48V375.02" stroke="#a8a8a8" stroke-width="0.75"/>
<path d="M28.6 373.48V378.86" stroke="#a8a8a8" stroke-width="0.75"/>
<rect x="28" y="375.57" width="1.2" height="1.2" fill="#444"/>
<path d="M28.68 369.27V382.32" stroke="#969696" stroke-width="0.75"/>
<rect x="28.08" y="375.19" width="1.2" height="1.2" fill="#444"/>
<path d="M30.56 369.17V382.97" stroke="#969696" stroke-width="0.75"/>
<rect x="29.96" y="375.47" width="1.2" height="1.2" fill="#444"/>
<path d="M73.13 371.94V382.26" stroke="#b8b8b8" stroke-width="0.75"/>
<rect x="72.53" y="376.5" width="1.2" height="1.2" fill="#444"/>
<path d="M36.49 370.81V379.72" stroke="#a8a8a8" stroke-width="0.75"/>
<rect x="35.89" y="374.66" width="1.2" height="1.2" fill="#444"/>
<path d="M37.49 365.68V371.53" stroke="#969696" stroke-width="0.75"/>
<rect x="36.89" y="368" width="1.2" height="1.2" fill="#444"/>
<path d="M44.18 366.71V371.63" stroke="#b8b8b8" stroke-width="0.75"/>
<path d="M33.58 374.79V384.31" stroke="#8c8cf0" stroke-width="0.75"/>
<rect x="32.98" y="378.95" width="1.2" height="1.2" fill="#4848e8"/>
<path d="M30.12 367.29V373.85" stroke="#a8a8a8" stroke-width="0.75"/>
<rect x="29.52" y="369.97" width="1.2" height="1.2" fill="#444"/>
<path d="M35.65 364.65V375.91" stroke="#a8a8a8" stroke-width="0.75"/>
<path d="M70.49 375.15V389.05" stroke="#7878ee" stroke-width="0.75"/>
<path d="M33.45 367.46V375.29" stroke="#a8a8a8" stroke-width="0.75"/>
<rect x="32.85" y="370.77" width="1.2" height="1.2" fill="#444"/>
<path d="M55.99 364.75V373.95" stroke="#969696" stroke-width="0.75"/>
<rect x="55.39" y="368.75" width="1.2" height="1.2" fill="#444"/>
<path d="M61.95 370.52V377.11" stroke="#a8a8a8" stroke-width="0.75"/>
<rect x="61.35" y="373.22" width="1.2" height="1.2" fill="#444"/>
<path d="M36.45 372.59V378.99" stroke="#a0a0f4" stroke-width="0.75"/>
<rect x="35.85" y="375.19" width="1.2" height="1.2" fill="#4848e8"/>
<path d="M78.3 374.75V380.05" stroke="#969696" stroke-width="0.75"/>
<rect x="77.7" y="376.8" width="1.2" height="1.2" fill="#444"/>
<path d="M30.13 379.31V387.14" stroke="#c4c4c4" stroke-width="0.75"/>
<rect x="29.53" y="382.63" width="1.2" height="1.2" fill="#444"/>
<path d="M30.06 374.59V381.72" stroke="#969696" stroke-width="0.75"/>
<rect x="29.46" y="377.55" width="1.2" height="1.2" fill="#444"/>
<path d="M29.15 371V376.13" stroke="#888" stroke-width="0.75"/>
<path d="M53.67 365.43V377.13" stroke="#a0a0f4" stroke-width="0.75"/>
<rect x="53.07" y="370.68" width="1.2" height="1.2" fill="#4848e8"/>
<path d="M55.02 364.31V374.2" stroke="#b4b4f6" stroke-width="0.75"/>
<rect x="54.42" y="368.65" width="1.2" height="1.2" fill="#4848e8"/>
<path d="M31.72 372.6V379.92" stroke="#8c8cf0" stroke-width="0.75"/>
<path d="M52.89 370.01V378.61" stroke="#c4c4c4" stroke-width="0.75"/>
<path d="M31.78 371.34V383.35" stroke="#969696" stroke-width="0.75"/>
<rect x="31.18" y="376.75" width="1.2" height="1.2" fill="#444"/>
<path d="M31.02 373.36V377.57" stroke="#a8a8a8" stroke-width="0.75"/>
<rect x="30.42" y="374.86" width="1.2" height="1.2" fill="#444"/>
<path d="M59.5 362.24V375.62" stroke="#888" stroke-width="0.75"/>
<rect x="58.9" y="368.33" width="1.2" height="1.2" fill="#444"/>
<path d="M52.3 366.34V379.44" stroke="#c4c4c4" stroke-width="0.75"/>
<rect x="51.7" y="372.29" width="1.2" height="1.2" fill="#444"/>
<path d="M28.78 371.5V384.54" stroke="#c4c4c4" stroke-width="0.75"/>
<rect x="28.18" y="377.42" width="1.2" height="1.2" fill="#444"/>
<path d="M41.81 366.03V378.66" stroke="#a8a8a8" stroke-width="0.75"/>
<rect x="41.21" y="371.75" width="1.2" height="1.2" fill="#444"/>
<path d="M35.6 372.01V383.26" stroke="#888" stroke-width="0.75"/>
<rect x="35" y="377.03" width="1.2" height="1.2" fill="#444"/>
<path d="M41.49 366.18V371.13" stroke="#7878ee" stroke-width="0.75"/>
<rect x="40.89" y="368.05" width="1.2" height="1.2" fill="#4848e8"/>
<path d="M47.05 366.91V372.03" stroke="#b8b8b8" stroke-width="0.75"/>
<rect x="46.45" y="368.87" width="1.2" height="1.2" fill="#444"/>
<path d="M40.39 358.83V372.41" stroke="#7878ee" stroke-width="0.75"/>
<path d="M38.59 365.44V374.08" stroke="#8c8cf0" stroke-width="0.75"/>
<path d="M29.44 369.21V379.39" stroke="#a8a8a8" stroke-width="0.75"/>
<rect x="28.84" y="373.7" width="1.2" height="1.2" fill="#444"/>
<path d="M29.76 367.75V381.64" stroke="#a8a8a8" stroke-width="0.75"/>
<rect x="29.16" y="374.1" width="1.2" height="1.2" fill="#444"/>
<path d="M28.81 371.23V380.26" stroke="#7878ee" stroke-width="0.75"/>
<path d="M39.71 368.7V379.69" stroke="#8c8cf0" stroke-width="0.75"/>
<rect x="39.11" y="373.6" width="1.2" height="1.2" fill="#4848e8"/>
<path d="M37.2 375.26V380.16" stroke="#888" stroke-width="0.75"/>
<rect x="36.6" y="377.11" width="1.2" height="1.2" fill="#444"/>
<path d="M62.15 369.24V376.32" stroke="#a8a8a8" stroke-width="0.75"/>
<rect x="61.55" y="372.18" width="1.2" height="1.2" fill="#444"/>
<path d="M75.06 373.13V382.75" stroke="#8c8cf0" stroke-width="0.75"/>
<rect x="74.46" y="377.34" width="1.2" height="1.2" fill="#4848e8"/>
<path d="M43.33 368.79V376" stroke="#7878ee" stroke-width="0.75"/>
<rect x="42.73" y="371.8" width="1.2" height="1.2" fill="#4848e8"/>
<path d="M28.61 369.99V375.05" stroke="#969696" stroke-width="0.75"/>
<rect x="28.01" y="371.92" width="1.2" height="1.2" fill="#444"/>
<path d="M28.68 375.21V384.91" stroke="#888" stroke-width="0.75"/>
<path d="M52.76 371.5V379.72" stroke="#969696" stroke-width="0.75"/>
<path d="M42.04 361.63V371.8" stroke="#b8b8b8" stroke-width="0.75"/>
<rect x="41.44" y="366.12" width="1.2" height="1.2" fill="#444"/>
<path d="M62.95 373.54V380" stroke="#b4b4f6" stroke-width="0.75"/>
<rect x="62.35" y="376.17" width="1.2" height="1.2" fill="#4848e8"/>
<path d="M33.1 366.1V372.02" stroke="#a8a8a8" stroke-width="0.75"/>
<path d="M29.35 373.35V381.31" stroke="#a0a0f4" stroke-width="0.75"/>
<rect x="28.75" y="376.73" width="1.2" height="1.2" fill="#4848e8"/>
<path d="M32.83 370.99V379.21" stroke="#c4c4c4" stroke-width="0.75"/>
<rect x="32.23" y="374.5" width="1.2" height="1.2" fill="#444"/>
<path d="M28.65 367.97V380.26" stroke="#b4b4f6" stroke-width="0.75"/>
<rect x="28.05" y="373.52" width="1.2" height="1.2" fill="#4848e8"/>
<path d="M34.48 364.86V378.61" stroke="#c4c4c4" stroke-width="0.75"/>
<rect x="33.88" y="371.13" width="1.2" height="1.2" fill="#444"/>
<path d="M51.56 375.3V381.54" stroke="#888" stroke-width="0.75"/>
<rect x="50.96" y="377.82" width="1.2" height="1.2" fill="#444"/>
<path d="M46.05 368.56V379.33" stroke="#b4b4f6" stroke-width="0.75"/>
<path d="M46.19 368.59V375.24" stroke="#b4b4f6" stroke-width="0.75"/>
<path d="M38.72 364.98V375.82" stroke="#b8b8b8" stroke-width="0.75"/>
<rect x="38.12" y="369.8" width="1.2" height="1.2" fill="#444"/>
<path d="M29.18 375.49V387.76" stroke="#a8a8a8" stroke-width="0.75"/>
<rect x="28.58" y="381.03" width="1.2" height="1.2" fill="#444"/>
<path d="M72.06 368.42V381.19" stroke="#b4b4f6" stroke-width="0.75"/>
<rect x="71.46" y="374.21" width="1.2" height="1.2" fill="#4848e8"/>
<path d="M43.54 367.75V375.44" stroke="#a0a0f4" stroke-width="0.75"/>
<rect x="42.94" y="370.99" width="1.2" height="1.2" fill="#4848e8"/>
<path d="M54.79 364.8V370.87" stroke="#b8b8b8" stroke-width="0.75"/>
<rect x="54.19" y="367.24" width="1.2" height="1.2" fill="#444"/>
<path d="M29.77 373.89V384.47" stroke="#a8a8a8" stroke-width="0.75"/>
<rect x="29.17" y="378.58" width="1.2" height="1.2" fill="#444"/>
<path d="M43.45 368.44V375.88" stroke="#a8a8a8" stroke-width="0.75"/>
<rect x="42.85" y="371.56" width="1.2" height="1.2" fill="#444"/>
<path d="M73.31 376.28V383.54" stroke="#b4b4f6" stroke-width="0.75"/>
<path d="M28.98 379.78V384.48" stroke="#969696" stroke-width="0.75"/>
<rect x="28.38" y="381.53" width="1.2" height="1.2" fill="#444"/>
<path d="M29.25 364.49V378.45" stroke="#888" stroke-width="0.75"/>
<rect x="28.65" y="370.87" width="1.2" height="1.2" fill="#444"/>
<path d="M29.54 375.62V386.73" stroke="#b8b8b8" stroke-width="0.75"/>
<circle cx="28.9" cy="391.1" r="0.95" fill="#ff0000"/>
<circle cx="30.4" cy="373" r="0.95" fill="#ff0000"/>
<circle cx="62.2" cy="375.3" r="0.95" fill="#ff0000"/>
<circle cx="70.6" cy="375.3" r="0.95" fill="#ff0000"/>
<circle cx="73.8" cy="392.2" r="0.95" fill="#ff0000"/>
<circle cx="66.8" cy="386.9" r="0.95" fill="#ff0000"/>
<circle cx="77" cy="389" r="0.95" fill="#ff0000"/>
<circle cx="83.3" cy="383.8" r="0.95" fill="#ff0000"/>
<circle cx="75.3" cy="380.6" r="0.95" fill="#ff0000"/>
<polyline points="31.6,377 37.9,372.6 44.9,370.7 52.7,373.2 60.1,371.7 68.1,376.4 74.4,377.6 82.9,379.5" fill="none" stroke="#ff8000" stroke-width="1.25" stroke-linejoin="round"/>
<circle cx="31.6" cy="377" r="1.15" fill="#ff6a00"/>
<circle cx="37.9" cy="372.6" r="1.15" fill="#ff6a00"/>
<circle cx="44.9" cy="370.7" r="1.15" fill="#ff6a00"/>
<circle cx="52.7" cy="373.2" r="1.15" fill="#ff6a00"/>
<circle cx="60.1" cy="371.7" r="1.15" fill="#ff6a00"/>
<circle cx="68.1" cy="376.4" r="1.15" fill="#ff6a00"/>
<circle cx="74.4" cy="377.6" r="1.15" fill="#ff6a00"/>
<circle cx="82.9" cy="379.5" r="1.15" fill="#ff6a00"/>
<path d="M24.3 403.6H105.5V353.6" stroke="#b4b4b4" stroke-width="1" fill="none"/>
<path d="M105.5 388h-1.2" stroke="#aaa" stroke-width="0.6"/>
<path d="M105.5 373.2h-1.2" stroke="#aaa" stroke-width="0.6"/>
<path d="M105.5 358.4h-1.2" stroke="#aaa" stroke-width="0.6"/>
<path d="M28.4 403.6v-1.5" stroke="#999" stroke-width="0.7"/>
<text x="28.4" y="409.5" font-size="5.4" font-weight="bold" text-anchor="middle" style="stroke-width:0.1px">0.0</text>
<path d="M65.7 403.6v-1.5" stroke="#999" stroke-width="0.7"/>
<text x="65.7" y="409.5" font-size="5.4" font-weight="bold" text-anchor="middle" style="stroke-width:0.1px">0.5</text>
<path d="M103 403.6v-1.5" stroke="#999" stroke-width="0.7"/>
<text x="103" y="409.5" font-size="5.4" font-weight="bold" text-anchor="middle" style="stroke-width:0.1px">1.0</text>
<path d="M105.5 395.4h-1.5" stroke="#999" stroke-width="0.7"/>
<text x="106.8" y="397.3" font-size="5.4" font-weight="bold" style="stroke-width:0.12px">1.5</text>
<path d="M105.5 380.6h-1.5" stroke="#999" stroke-width="0.7"/>
<text x="106.8" y="382.5" font-size="5.4" font-weight="bold" style="stroke-width:0.12px">2.0</text>
<path d="M105.5 365.8h-1.5" stroke="#999" stroke-width="0.7"/>
<text x="106.8" y="367.7" font-size="5.4" font-weight="bold" style="stroke-width:0.12px">2.5</text>
</g>
<rect x="24.3" y="353.6" width="203.3" height="143.95" fill="none" stroke="#222" stroke-width="1"/>
<path d="M21.9 476H24.3M227.6 476h-3" stroke="#222" stroke-width="0.9"/>
<text x="20.5" y="478.5" font-size="7.2" text-anchor="end">1.5</text>
<path d="M21.9 433.5H24.3M227.6 433.5h-3" stroke="#222" stroke-width="0.9"/>
<text x="20.5" y="436" font-size="7.2" text-anchor="end">2.0</text>
<path d="M21.9 391H24.3M227.6 391h-3" stroke="#222" stroke-width="0.9"/>
<text x="20.5" y="393.5" font-size="7.2" text-anchor="end">2.5</text>
<path d="M22.3 454.75H24.3M227.6 454.75h-2" stroke="#222" stroke-width="0.9"/>
<path d="M22.3 412.25H24.3M227.6 412.25h-2" stroke="#222" stroke-width="0.9"/>
<path d="M22.3 369.75H24.3M227.6 369.75h-2" stroke="#222" stroke-width="0.9"/>
<path d="M35.4 497.55v2.8" stroke="#222" stroke-width="0.9"/>
<text x="35.4" y="507.35" font-size="6.8" text-anchor="middle">1E-5</text>
<path d="M71.66 497.55v2.8" stroke="#222" stroke-width="0.9"/>
<text x="71.66" y="507.35" font-size="6.8" text-anchor="middle">1E-4</text>
<path d="M107.92 497.55v2.8" stroke="#222" stroke-width="0.9"/>
<text x="107.92" y="507.35" font-size="6.8" text-anchor="middle">1E-3</text>
<path d="M144.18 497.55v2.8" stroke="#222" stroke-width="0.9"/>
<text x="144.18" y="507.35" font-size="6.8" text-anchor="middle">0.01</text>
<path d="M180.44 497.55v2.8" stroke="#222" stroke-width="0.9"/>
<text x="180.44" y="507.35" font-size="6.8" text-anchor="middle">0.1</text>
<path d="M216.7 497.55v2.8" stroke="#222" stroke-width="0.9"/>
<text x="216.7" y="507.35" font-size="6.8" text-anchor="middle">1</text>
<path d="M35.4 353.6v2.6" stroke="#222" stroke-width="0.9"/>
<path d="M71.7 353.6v2.6" stroke="#222" stroke-width="0.9"/>
<path d="M107.9 353.6v2.6" stroke="#222" stroke-width="0.9"/>
<path d="M144.2 353.6v2.6" stroke="#222" stroke-width="0.9"/>
<path d="M180.4 353.6v2.6" stroke="#222" stroke-width="0.9"/>
<path d="M216.7 353.6v2.6" stroke="#222" stroke-width="0.9"/>
<text transform="translate(5,429.7) rotate(-90)" font-size="7.3" text-anchor="middle" textLength="56" lengthAdjust="spacingAndGlyphs">log[W(5797)/Ebv]</text>
<text x="122.9" y="519" font-size="8.0">f<tspan font-size="4.3" dy="2.9" style="stroke-width:0.2px">H2</tspan></text>
<text x="157.4" y="367.5" font-size="13.6">E</text>
<text x="170.6" y="367.6" font-size="7.8" textLength="43.3" lengthAdjust="spacingAndGlyphs">(108 points)</text>
<g>
<path d="M279.5 415.3V436.8" stroke="#505050" stroke-width="1.2" fill="none"/>
<path d="M278.6 415.7H280.4M278.6 436.4H280.4" stroke="#222" stroke-width="1" fill="none"/>
<rect x="278.8" y="425.35" width="1.4" height="1.4" fill="#333"/>
<path d="M291.2 416V443.8" stroke="#505050" stroke-width="1.2" fill="none"/>
<path d="M290.3 416.4H292.1M290.3 443.4H292.1" stroke="#222" stroke-width="1" fill="none"/>
<rect x="290.5" y="429.2" width="1.4" height="1.4" fill="#333"/>
<path d="M327.6 466V480.2" stroke="#505050" stroke-width="1.2" fill="none"/>
<path d="M326.7 466.4H328.5M326.7 479.8H328.5" stroke="#222" stroke-width="1" fill="none"/>
<circle cx="327.6" cy="472.9" r="1.4" fill="#fff" stroke="#9a9a9a" stroke-width="0.7"/>
<path d="M379.2 481.8V493.8" stroke="#5a5aff" stroke-width="1.3" fill="none"/>
<path d="M378.3 482.2H380.1M378.3 493.4H380.1" stroke="#3030f0" stroke-width="1" fill="none"/>
<rect x="378.5" y="487.1" width="1.4" height="1.4" fill="#2a2aee"/>
<path d="M376.1 380.2V399.5" stroke="#505050" stroke-width="1.2" fill="none"/>
<path d="M375.2 380.6H377M375.2 399.1H377" stroke="#222" stroke-width="1" fill="none"/>
<circle cx="376.1" cy="389.7" r="1.4" fill="#fff" stroke="#9a9a9a" stroke-width="0.7"/>
<path d="M391.6 446.5L393.9 448.8L391.6 451.1L389.3 448.8Z" fill="none" stroke="#ff0000" stroke-width="0.8"/>
<circle cx="408.2" cy="432.4" r="1.4" fill="none" stroke="#ff0000" stroke-width="0.8"/>
<path d="M412 434.2H416M414 432.2V436.2" stroke="#ff0000" stroke-width="1"/>
<path d="M402.3 396.3V409.8" stroke="#505050" stroke-width="1.2" fill="none"/>
<path d="M401.4 396.7H403.2M401.4 409.4H403.2" stroke="#222" stroke-width="1" fill="none"/>
<rect x="401.6" y="402.35" width="1.4" height="1.4" fill="#333"/>
<path d="M401.4 410.9V431.1" stroke="#505050" stroke-width="1.2" fill="none"/>
<path d="M400.5 411.3H402.3M400.5 430.7H402.3" stroke="#222" stroke-width="1" fill="none"/>
<rect x="400.7" y="420.3" width="1.4" height="1.4" fill="#333"/>
<path d="M402.3 436.1V457.6" stroke="#505050" stroke-width="1.2" fill="none"/>
<path d="M401.4 436.5H403.2M401.4 457.2H403.2" stroke="#222" stroke-width="1" fill="none"/>
<rect x="401.6" y="446.15" width="1.4" height="1.4" fill="#333"/>
<path d="M410.6 412.1V430.3" stroke="#505050" stroke-width="1.2" fill="none"/>
<path d="M409.7 412.5H411.5M409.7 429.9H411.5" stroke="#222" stroke-width="1" fill="none"/>
<rect x="409.9" y="420.5" width="1.4" height="1.4" fill="#333"/>
<path d="M413.6 406.3V423.7" stroke="#8a8a8a" stroke-width="1.6" fill="none"/>
<path d="M412.7 406.7H414.5M412.7 423.3H414.5" stroke="#444" stroke-width="1" fill="none"/>
<rect x="412.9" y="414.3" width="1.4" height="1.4" fill="#333"/>
<path d="M415.5 408V420.6" stroke="#5a5aff" stroke-width="1.3" fill="none"/>
<path d="M414.6 408.4H416.4M414.6 420.2H416.4" stroke="#3030f0" stroke-width="1" fill="none"/>
<rect x="414.8" y="413.6" width="1.4" height="1.4" fill="#2a2aee"/>
<path d="M416.8 395.3V422.1" stroke="#505050" stroke-width="1.2" fill="none"/>
<path d="M415.9 395.7H417.7M415.9 421.7H417.7" stroke="#222" stroke-width="1" fill="none"/>
<rect x="416.1" y="408" width="1.4" height="1.4" fill="#333"/>
<path d="M417.6 398V420" stroke="#8a8a8a" stroke-width="1.6" fill="none"/>
<path d="M416.7 398.4H418.5M416.7 419.6H418.5" stroke="#444" stroke-width="1" fill="none"/>
<rect x="416.9" y="408.3" width="1.4" height="1.4" fill="#333"/>
<path d="M418.3 428.5V453.7" stroke="#505050" stroke-width="1.2" fill="none"/>
<path d="M417.4 428.9H419.2M417.4 453.3H419.2" stroke="#222" stroke-width="1" fill="none"/>
<circle cx="418.3" cy="441.1" r="1.4" fill="#fff" stroke="#9a9a9a" stroke-width="0.7"/>
<path d="M419.1 393.7V420.6" stroke="#505050" stroke-width="1.2" fill="none"/>
<path d="M418.2 394.1H420M418.2 420.2H420" stroke="#222" stroke-width="1" fill="none"/>
<rect x="418.4" y="406.45" width="1.4" height="1.4" fill="#333"/>
<path d="M420.2 376.3V422.1" stroke="#5a5aff" stroke-width="1.3" fill="none"/>
<path d="M419.3 376.7H421.1M419.3 421.7H421.1" stroke="#3030f0" stroke-width="1" fill="none"/>
<rect x="419.5" y="398.5" width="1.4" height="1.4" fill="#2a2aee"/>
<path d="M421.2 395.3V420.6" stroke="#505050" stroke-width="1.2" fill="none"/>
<path d="M420.3 395.7H422.1M420.3 420.2H422.1" stroke="#222" stroke-width="1" fill="none"/>
<rect x="420.5" y="407.25" width="1.4" height="1.4" fill="#333"/>
<path d="M423.4 390.5V417.4" stroke="#5a5aff" stroke-width="1.3" fill="none"/>
<path d="M422.5 390.9H424.3M422.5 417H424.3" stroke="#3030f0" stroke-width="1" fill="none"/>
<rect x="422.7" y="403.25" width="1.4" height="1.4" fill="#2a2aee"/>
<path d="M424.7 398.4V411.1" stroke="#505050" stroke-width="1.2" fill="none"/>
<path d="M423.8 398.8H425.6M423.8 410.7H425.6" stroke="#222" stroke-width="1" fill="none"/>
<rect x="424" y="404.05" width="1.4" height="1.4" fill="#333"/>
<path d="M425.5 409.5V426.9" stroke="#505050" stroke-width="1.2" fill="none"/>
<path d="M424.6 409.9H426.4M424.6 426.5H426.4" stroke="#222" stroke-width="1" fill="none"/>
<rect x="424.8" y="417.5" width="1.4" height="1.4" fill="#333"/>
<path d="M426.6 390.5V409.5" stroke="#505050" stroke-width="1.2" fill="none"/>
<path d="M425.7 390.9H427.5M425.7 409.1H427.5" stroke="#222" stroke-width="1" fill="none"/>
<rect x="425.9" y="399.3" width="1.4" height="1.4" fill="#333"/>
<path d="M427.8 401.6V417.4" stroke="#5a5aff" stroke-width="1.3" fill="none"/>
<path d="M426.9 402H428.7M426.9 417H428.7" stroke="#3030f0" stroke-width="1" fill="none"/>
<rect x="427.1" y="408.8" width="1.4" height="1.4" fill="#2a2aee"/>
<path d="M429.4 390.5V433.2" stroke="#505050" stroke-width="1.2" fill="none"/>
<path d="M428.5 390.9H430.3M428.5 432.8H430.3" stroke="#222" stroke-width="1" fill="none"/>
<rect x="428.7" y="411.15" width="1.4" height="1.4" fill="#333"/>
<path d="M430.2 412.7V431.6" stroke="#5a5aff" stroke-width="1.3" fill="none"/>
<path d="M429.3 413.1H431.1M429.3 431.2H431.1" stroke="#3030f0" stroke-width="1" fill="none"/>
<rect x="429.5" y="421.45" width="1.4" height="1.4" fill="#2a2aee"/>
<path d="M431.8 417.4V425.3" stroke="#505050" stroke-width="1.2" fill="none"/>
<path d="M430.9 417.8H432.7M430.9 424.9H432.7" stroke="#222" stroke-width="1" fill="none"/>
<rect x="431.1" y="420.65" width="1.4" height="1.4" fill="#333"/>
<path d="M432.6 407.9V430" stroke="#5a5aff" stroke-width="1.3" fill="none"/>
<path d="M431.7 408.3H433.5M431.7 429.6H433.5" stroke="#3030f0" stroke-width="1" fill="none"/>
<rect x="431.9" y="418.25" width="1.4" height="1.4" fill="#2a2aee"/>
<path d="M433.4 390.5V401.6" stroke="#505050" stroke-width="1.2" fill="none"/>
<path d="M432.5 390.9H434.3M432.5 401.2H434.3" stroke="#222" stroke-width="1" fill="none"/>
<rect x="432.7" y="395.35" width="1.4" height="1.4" fill="#333"/>
<path d="M434.6 398V418" stroke="#505050" stroke-width="1.2" fill="none"/>
<path d="M433.7 398.4H435.5M433.7 417.6H435.5" stroke="#222" stroke-width="1" fill="none"/>
<rect x="433.9" y="407.3" width="1.4" height="1.4" fill="#333"/>
<path d="M435.5 414.2V437.9" stroke="#5a5aff" stroke-width="1.3" fill="none"/>
<path d="M434.6 414.6H436.4M434.6 437.5H436.4" stroke="#3030f0" stroke-width="1" fill="none"/>
<rect x="434.8" y="425.35" width="1.4" height="1.4" fill="#2a2aee"/>
<path d="M435.8 390.5V412.7" stroke="#505050" stroke-width="1.2" fill="none"/>
<path d="M434.9 390.9H436.7M434.9 412.3H436.7" stroke="#222" stroke-width="1" fill="none"/>
<rect x="435.1" y="400.9" width="1.4" height="1.4" fill="#333"/>
<path d="M437.4 393.7V420.6" stroke="#505050" stroke-width="1.2" fill="none"/>
<path d="M436.5 394.1H438.3M436.5 420.2H438.3" stroke="#222" stroke-width="1" fill="none"/>
<rect x="436.7" y="406.45" width="1.4" height="1.4" fill="#333"/>
<path d="M438.2 400V411.1" stroke="#5a5aff" stroke-width="1.3" fill="none"/>
<path d="M437.3 400.4H439.1M437.3 410.7H439.1" stroke="#3030f0" stroke-width="1" fill="none"/>
<rect x="437.5" y="404.85" width="1.4" height="1.4" fill="#2a2aee"/>
<path d="M439.7 401V414.8" stroke="#5a5aff" stroke-width="1.3" fill="none"/>
<path d="M438.8 401.4H440.6M438.8 414.4H440.6" stroke="#3030f0" stroke-width="1" fill="none"/>
<rect x="439" y="407.2" width="1.4" height="1.4" fill="#2a2aee"/>
<path d="M440.2 398.4V428.5" stroke="#505050" stroke-width="1.2" fill="none"/>
<path d="M439.3 398.8H441.1M439.3 428.1H441.1" stroke="#222" stroke-width="1" fill="none"/>
<rect x="439.5" y="412.75" width="1.4" height="1.4" fill="#333"/>
<path d="M440.6 390.7V428.6" stroke="#505050" stroke-width="1.2" fill="none"/>
<path d="M439.7 391.1H441.5M439.7 428.2H441.5" stroke="#222" stroke-width="1" fill="none"/>
<rect x="439.9" y="408.95" width="1.4" height="1.4" fill="#333"/>
<path d="M441.3 387.4V401.6" stroke="#505050" stroke-width="1.2" fill="none"/>
<path d="M440.4 387.8H442.2M440.4 401.2H442.2" stroke="#222" stroke-width="1" fill="none"/>
<rect x="440.6" y="393.8" width="1.4" height="1.4" fill="#333"/>
<path d="M442.1 401.6V417.4" stroke="#5a5aff" stroke-width="1.3" fill="none"/>
<path d="M441.2 402H443M441.2 417H443" stroke="#3030f0" stroke-width="1" fill="none"/>
<rect x="441.4" y="408.8" width="1.4" height="1.4" fill="#2a2aee"/>
<path d="M443.7 406.3V433.2" stroke="#505050" stroke-width="1.2" fill="none"/>
<path d="M442.8 406.7H444.6M442.8 432.8H444.6" stroke="#222" stroke-width="1" fill="none"/>
<rect x="443" y="419.05" width="1.4" height="1.4" fill="#333"/>
<path d="M445.3 385.5V401" stroke="#505050" stroke-width="1.2" fill="none"/>
<path d="M444.4 385.9H446.2M444.4 400.6H446.2" stroke="#222" stroke-width="1" fill="none"/>
<rect x="444.6" y="392.55" width="1.4" height="1.4" fill="#333"/>
<path d="M445.8 404.5V439" stroke="#505050" stroke-width="1.2" fill="none"/>
<path d="M444.9 404.9H446.7M444.9 438.6H446.7" stroke="#222" stroke-width="1" fill="none"/>
<rect x="445.1" y="421.05" width="1.4" height="1.4" fill="#333"/>
<path d="M446.6 409.7V426.9" stroke="#5a5aff" stroke-width="1.3" fill="none"/>
<path d="M445.7 410.1H447.5M445.7 426.5H447.5" stroke="#3030f0" stroke-width="1" fill="none"/>
<rect x="445.9" y="417.6" width="1.4" height="1.4" fill="#2a2aee"/>
<path d="M447.5 416.5V432" stroke="#505050" stroke-width="1.2" fill="none"/>
<path d="M446.6 416.9H448.4M446.6 431.6H448.4" stroke="#222" stroke-width="1" fill="none"/>
<rect x="446.8" y="423.55" width="1.4" height="1.4" fill="#333"/>
<path d="M448.7 397.6V401" stroke="#5a5aff" stroke-width="1.3" fill="none"/>
<path d="M447.8 398H449.6M447.8 400.6H449.6" stroke="#3030f0" stroke-width="1" fill="none"/>
<rect x="448" y="398.6" width="1.4" height="1.4" fill="#2a2aee"/>
<path d="M446.3 442.4V456.2" stroke="#505050" stroke-width="1.2" fill="none"/>
<path d="M445.4 442.8H447.2M445.4 455.8H447.2" stroke="#222" stroke-width="1" fill="none"/>
<rect x="445.6" y="448.6" width="1.4" height="1.4" fill="#333"/>
<path d="M451.8 421.7V432" stroke="#5a5aff" stroke-width="1.3" fill="none"/>
<path d="M450.9 422.1H452.7M450.9 431.6H452.7" stroke="#3030f0" stroke-width="1" fill="none"/>
<rect x="451.1" y="426.15" width="1.4" height="1.4" fill="#2a2aee"/>
<path d="M454.4 407.9V414.8" stroke="#5a5aff" stroke-width="1.3" fill="none"/>
<path d="M453.5 408.3H455.3M453.5 414.4H455.3" stroke="#3030f0" stroke-width="1" fill="none"/>
<rect x="453.7" y="410.65" width="1.4" height="1.4" fill="#2a2aee"/>
<path d="M456.1 428.6V435.5" stroke="#505050" stroke-width="1.2" fill="none"/>
<path d="M455.2 429H457M455.2 435.1H457" stroke="#222" stroke-width="1" fill="none"/>
<rect x="455.4" y="431.35" width="1.4" height="1.4" fill="#333"/>
<path d="M457 442.4V463.1" stroke="#505050" stroke-width="1.2" fill="none"/>
<path d="M456.1 442.8H457.9M456.1 462.7H457.9" stroke="#222" stroke-width="1" fill="none"/>
<rect x="456.3" y="452.05" width="1.4" height="1.4" fill="#333"/>
<path d="M454.4 466.6V473.4" stroke="#5a5aff" stroke-width="1.3" fill="none"/>
<path d="M453.5 467H455.3M453.5 473H455.3" stroke="#3030f0" stroke-width="1" fill="none"/>
<rect x="453.7" y="469.3" width="1.4" height="1.4" fill="#2a2aee"/>
<circle cx="443.2" cy="403.6" r="1.4" fill="none" stroke="#ff0000" stroke-width="0.8"/>
<circle cx="449.2" cy="421.4" r="1.6" fill="#ff0000"/>
<circle cx="453.5" cy="426.9" r="1.6" fill="#ff0000"/>
<circle cx="455.3" cy="428.3" r="1.6" fill="#ff0000"/>
<path d="M451 434.5L452.9 437.8L449.1 437.8Z" fill="none" stroke="#ff0000" stroke-width="0.8"/>
<path d="M452.2 437.1L456.6 441.5M456.6 437.1L452.2 441.5" stroke="#ff0000" stroke-width="0.9"/>
<rect x="453.5" y="454.3" width="2.8" height="2.8" fill="none" stroke="#ff0000" stroke-width="0.8"/>
<circle cx="457" cy="464" r="1.6" fill="#ff0000"/>
<path d="M454.4 486.2L456.3 488.1L454.4 490L452.5 488.1Z" fill="#ff0000"/>
<path d="M445.42 406.35V421.25" stroke="#5a5aff" stroke-width="1.3" fill="none"/>
<path d="M451.24 428.81V435.54" stroke="#5a5aff" stroke-width="1.3" fill="none"/>
<path d="M442.07 422.63V434.16" stroke="#505050" stroke-width="1.1" fill="none"/>
<path d="M441.17 423.03H442.97M441.17 433.76H442.97" stroke="#222" stroke-width="0.9" fill="none"/>
<path d="M454.16 402.41V418.16" stroke="#505050" stroke-width="1.1" fill="none"/>
<path d="M453.26 402.81H455.06M453.26 417.76H455.06" stroke="#222" stroke-width="0.9" fill="none"/>
<path d="M450.28 404.89V415.11" stroke="#5a5aff" stroke-width="1.3" fill="none"/>
<path d="M447.67 425.81V440.48" stroke="#505050" stroke-width="1.1" fill="none"/>
<path d="M446.77 426.21H448.57M446.77 440.08H448.57" stroke="#222" stroke-width="0.9" fill="none"/>
<path d="M454.38 421.07V433.47" stroke="#5a5aff" stroke-width="1.3" fill="none"/>
<path d="M450.9 422.81V430.87" stroke="#505050" stroke-width="1.1" fill="none"/>
<path d="M450 423.21H451.8M450 430.47H451.8" stroke="#222" stroke-width="0.9" fill="none"/>
<path d="M441.68 392.85V403.89" stroke="#505050" stroke-width="1.1" fill="none"/>
<path d="M440.78 393.25H442.58M440.78 403.49H442.58" stroke="#222" stroke-width="0.9" fill="none"/>
<path d="M441.01 424.71V434.57" stroke="#505050" stroke-width="1.1" fill="none"/>
<path d="M440.11 425.11H441.91M440.11 434.17H441.91" stroke="#222" stroke-width="0.9" fill="none"/>
<path d="M424.86 402.9V409.06" stroke="#505050" stroke-width="1.1" fill="none"/>
<path d="M423.96 403.3H425.76M423.96 408.66H425.76" stroke="#222" stroke-width="0.9" fill="none"/>
<path d="M419.8 389.26V404.35" stroke="#505050" stroke-width="1.1" fill="none"/>
<path d="M418.9 389.66H420.7M418.9 403.95H420.7" stroke="#222" stroke-width="0.9" fill="none"/>
<path d="M420.92 395.31V402.73" stroke="#5a5aff" stroke-width="1.3" fill="none"/>
<path d="M427.57 417.49V424.32" stroke="#5a5aff" stroke-width="1.3" fill="none"/>
<path d="M439.63 415.17V425.04" stroke="#505050" stroke-width="1.1" fill="none"/>
<path d="M438.73 415.57H440.53M438.73 424.64H440.53" stroke="#222" stroke-width="0.9" fill="none"/>
<path d="M425.45 400.54V408.89" stroke="#505050" stroke-width="1.1" fill="none"/>
<path d="M424.55 400.94H426.35M424.55 408.49H426.35" stroke="#222" stroke-width="0.9" fill="none"/>
</g>
<g>
<path d="M299.25 372.18V375.81" stroke="#a8a8a8" stroke-width="0.75"/>
<rect x="298.65" y="373.4" width="1.2" height="1.2" fill="#444"/>
<path d="M326.5 384.04V391.16" stroke="#888" stroke-width="0.75"/>
<rect x="325.9" y="387" width="1.2" height="1.2" fill="#444"/>
<path d="M313.01 371.93V378.94" stroke="#a8a8a8" stroke-width="0.75"/>
<rect x="312.41" y="374.83" width="1.2" height="1.2" fill="#444"/>
<path d="M273.71 372.75V381.51" stroke="#7878ee" stroke-width="0.75"/>
<rect x="273.11" y="376.53" width="1.2" height="1.2" fill="#4848e8"/>
<path d="M288.28 369.02V373.06" stroke="#b8b8b8" stroke-width="0.75"/>
<rect x="287.68" y="370.44" width="1.2" height="1.2" fill="#444"/>
<path d="M300.26 366.05V375.02" stroke="#c4c4c4" stroke-width="0.75"/>
<rect x="299.66" y="369.94" width="1.2" height="1.2" fill="#444"/>
<path d="M318.04 378.99V383.68" stroke="#a0a0f4" stroke-width="0.75"/>
<rect x="317.44" y="380.73" width="1.2" height="1.2" fill="#4848e8"/>
<path d="M273.61 373.6V379.61" stroke="#7878ee" stroke-width="0.75"/>
<rect x="273.01" y="376" width="1.2" height="1.2" fill="#4848e8"/>
<path d="M285.24 368.52V377.31" stroke="#a0a0f4" stroke-width="0.75"/>
<rect x="284.64" y="372.32" width="1.2" height="1.2" fill="#4848e8"/>
<path d="M278.12 367.71V376.14" stroke="#b4b4f6" stroke-width="0.75"/>
<rect x="277.52" y="371.33" width="1.2" height="1.2" fill="#4848e8"/>
<path d="M273.71 372.17V383.05" stroke="#b8b8b8" stroke-width="0.75"/>
<path d="M278.21 369.54V372.86" stroke="#b4b4f6" stroke-width="0.75"/>
<rect x="277.61" y="370.6" width="1.2" height="1.2" fill="#4848e8"/>
<path d="M273.77 375.69V379.09" stroke="#b8b8b8" stroke-width="0.75"/>
<rect x="273.17" y="376.79" width="1.2" height="1.2" fill="#444"/>
<path d="M290.29 361.74V369.49" stroke="#a8a8a8" stroke-width="0.75"/>
<rect x="289.69" y="365.01" width="1.2" height="1.2" fill="#444"/>
<path d="M284.4 368.88V373" stroke="#c4c4c4" stroke-width="0.75"/>
<rect x="283.8" y="370.34" width="1.2" height="1.2" fill="#444"/>
<path d="M275.36 368.78V380.17" stroke="#7878ee" stroke-width="0.75"/>
<rect x="274.76" y="373.88" width="1.2" height="1.2" fill="#4848e8"/>
<path d="M313.35 376.87V386.69" stroke="#b8b8b8" stroke-width="0.75"/>
<rect x="312.75" y="381.18" width="1.2" height="1.2" fill="#444"/>
<path d="M316.33 371.29V378.78" stroke="#a0a0f4" stroke-width="0.75"/>
<path d="M274.23 368.53V371.86" stroke="#b8b8b8" stroke-width="0.75"/>
<rect x="273.63" y="369.59" width="1.2" height="1.2" fill="#444"/>
<path d="M277.3 367.62V376.16" stroke="#a8a8a8" stroke-width="0.75"/>
<rect x="276.7" y="371.29" width="1.2" height="1.2" fill="#444"/>
<path d="M314.92 376.85V383.56" stroke="#b8b8b8" stroke-width="0.75"/>
<rect x="314.32" y="379.61" width="1.2" height="1.2" fill="#444"/>
<path d="M281.56 366.12V371.92" stroke="#c4c4c4" stroke-width="0.75"/>
<path d="M277.1 372.22V381.58" stroke="#7878ee" stroke-width="0.75"/>
<rect x="276.5" y="376.3" width="1.2" height="1.2" fill="#4848e8"/>
<path d="M290.2 361.58V372.53" stroke="#969696" stroke-width="0.75"/>
<rect x="289.6" y="366.46" width="1.2" height="1.2" fill="#444"/>
<path d="M305.12 368.28V375.83" stroke="#b8b8b8" stroke-width="0.75"/>
<rect x="304.52" y="371.45" width="1.2" height="1.2" fill="#444"/>
<path d="M273.6 370.34V378.96" stroke="#888" stroke-width="0.75"/>
<rect x="273" y="374.05" width="1.2" height="1.2" fill="#444"/>
<path d="M273.75 369V379.95" stroke="#a8a8a8" stroke-width="0.75"/>
<rect x="273.15" y="373.88" width="1.2" height="1.2" fill="#444"/>
<path d="M293.7 368.15V373.14" stroke="#7878ee" stroke-width="0.75"/>
<rect x="293.1" y="370.04" width="1.2" height="1.2" fill="#4848e8"/>
<path d="M300.39 367.84V378.87" stroke="#a8a8a8" stroke-width="0.75"/>
<rect x="299.79" y="372.75" width="1.2" height="1.2" fill="#444"/>
<path d="M274.51 371.6V375.86" stroke="#969696" stroke-width="0.75"/>
<rect x="273.91" y="373.13" width="1.2" height="1.2" fill="#444"/>
<path d="M288.28 368.23V372.02" stroke="#c4c4c4" stroke-width="0.75"/>
<rect x="287.68" y="369.52" width="1.2" height="1.2" fill="#444"/>
<path d="M276.46 373.08V376.81" stroke="#7878ee" stroke-width="0.75"/>
<path d="M274.86 366.32V371.83" stroke="#969696" stroke-width="0.75"/>
<path d="M277.55 377.66V381.54" stroke="#7878ee" stroke-width="0.75"/>
<path d="M273.64 373.07V376.26" stroke="#969696" stroke-width="0.75"/>
<rect x="273.04" y="374.07" width="1.2" height="1.2" fill="#444"/>
<path d="M279.11 373.86V381.34" stroke="#b4b4f6" stroke-width="0.75"/>
<rect x="278.51" y="377" width="1.2" height="1.2" fill="#4848e8"/>
<path d="M315.46 374.13V384.65" stroke="#a0a0f4" stroke-width="0.75"/>
<path d="M286.33 358.09V369.44" stroke="#7878ee" stroke-width="0.75"/>
<rect x="285.73" y="363.16" width="1.2" height="1.2" fill="#4848e8"/>
<path d="M285.21 364.26V367.51" stroke="#888" stroke-width="0.75"/>
<rect x="284.61" y="365.28" width="1.2" height="1.2" fill="#444"/>
<path d="M277.46 366.76V378.38" stroke="#a8a8a8" stroke-width="0.75"/>
<path d="M275.68 366.05V377.56" stroke="#b8b8b8" stroke-width="0.75"/>
<rect x="275.08" y="371.21" width="1.2" height="1.2" fill="#444"/>
<path d="M303.79 368.51V380.35" stroke="#a8a8a8" stroke-width="0.75"/>
<rect x="303.19" y="373.83" width="1.2" height="1.2" fill="#444"/>
<path d="M274.62 367.91V378.94" stroke="#c4c4c4" stroke-width="0.75"/>
<path d="M287.18 370.22V377.94" stroke="#969696" stroke-width="0.75"/>
<rect x="286.58" y="373.48" width="1.2" height="1.2" fill="#444"/>
<path d="M276.59 366.19V375.81" stroke="#a0a0f4" stroke-width="0.75"/>
<rect x="275.99" y="370.4" width="1.2" height="1.2" fill="#4848e8"/>
<path d="M295.34 369.84V376.76" stroke="#a8a8a8" stroke-width="0.75"/>
<rect x="294.74" y="372.7" width="1.2" height="1.2" fill="#444"/>
<path d="M284.14 363.77V369.29" stroke="#8c8cf0" stroke-width="0.75"/>
<rect x="283.54" y="365.93" width="1.2" height="1.2" fill="#4848e8"/>
<path d="M276.6 367.15V376.74" stroke="#a0a0f4" stroke-width="0.75"/>
<rect x="276" y="371.34" width="1.2" height="1.2" fill="#4848e8"/>
<path d="M303.21 369.63V376.18" stroke="#c4c4c4" stroke-width="0.75"/>
<path d="M274.76 369.02V380.43" stroke="#a8a8a8" stroke-width="0.75"/>
<rect x="274.16" y="374.12" width="1.2" height="1.2" fill="#444"/>
<path d="M285.57 365.11V374.81" stroke="#a8a8a8" stroke-width="0.75"/>
<path d="M315.36 372.18V383.01" stroke="#7878ee" stroke-width="0.75"/>
<rect x="314.76" y="377" width="1.2" height="1.2" fill="#4848e8"/>
<path d="M273.61 371.56V374.83" stroke="#b4b4f6" stroke-width="0.75"/>
<rect x="273.01" y="372.59" width="1.2" height="1.2" fill="#4848e8"/>
<path d="M301.37 366.54V378.17" stroke="#7878ee" stroke-width="0.75"/>
<rect x="300.77" y="371.75" width="1.2" height="1.2" fill="#4848e8"/>
<path d="M290.3 367.05V377.33" stroke="#969696" stroke-width="0.75"/>
<path d="M275.46 378.1V382.52" stroke="#8c8cf0" stroke-width="0.75"/>
<rect x="274.86" y="379.71" width="1.2" height="1.2" fill="#4848e8"/>
<path d="M273.76 374.3V377.99" stroke="#8c8cf0" stroke-width="0.75"/>
<path d="M324.44 381.45V385.89" stroke="#8c8cf0" stroke-width="0.75"/>
<path d="M290.97 371.49V379.79" stroke="#969696" stroke-width="0.75"/>
<path d="M305.85 370.54V375.65" stroke="#b8b8b8" stroke-width="0.75"/>
<rect x="305.25" y="372.49" width="1.2" height="1.2" fill="#444"/>
<path d="M273.97 373.03V382.68" stroke="#888" stroke-width="0.75"/>
<path d="M275.24 366.74V375" stroke="#c4c4c4" stroke-width="0.75"/>
<rect x="274.64" y="370.27" width="1.2" height="1.2" fill="#444"/>
<path d="M286.6 365.61V368.68" stroke="#b8b8b8" stroke-width="0.75"/>
<path d="M275.79 368.59V377.36" stroke="#b4b4f6" stroke-width="0.75"/>
<rect x="275.19" y="372.37" width="1.2" height="1.2" fill="#4848e8"/>
<path d="M286.69 368.58V376.44" stroke="#b8b8b8" stroke-width="0.75"/>
<rect x="286.09" y="371.91" width="1.2" height="1.2" fill="#444"/>
<path d="M273.6 369.13V372.78" stroke="#a8a8a8" stroke-width="0.75"/>
<rect x="273" y="370.36" width="1.2" height="1.2" fill="#444"/>
<path d="M276.37 368.88V376.32" stroke="#a0a0f4" stroke-width="0.75"/>
<rect x="275.77" y="372" width="1.2" height="1.2" fill="#4848e8"/>
<path d="M278.34 369.99V379.8" stroke="#a8a8a8" stroke-width="0.75"/>
<rect x="277.74" y="374.29" width="1.2" height="1.2" fill="#444"/>
<path d="M322.21 373.95V385.71" stroke="#888" stroke-width="0.75"/>
<rect x="321.61" y="379.23" width="1.2" height="1.2" fill="#444"/>
<path d="M275.65 373.1V385.08" stroke="#8c8cf0" stroke-width="0.75"/>
<path d="M314.13 373.97V379.4" stroke="#969696" stroke-width="0.75"/>
<rect x="313.53" y="376.09" width="1.2" height="1.2" fill="#444"/>
<path d="M292.05 366.14V375.18" stroke="#c4c4c4" stroke-width="0.75"/>
<rect x="291.45" y="370.06" width="1.2" height="1.2" fill="#444"/>
<path d="M283.37 362.83V374.61" stroke="#a8a8a8" stroke-width="0.75"/>
<rect x="282.77" y="368.12" width="1.2" height="1.2" fill="#444"/>
<path d="M276.39 370.02V374.68" stroke="#969696" stroke-width="0.75"/>
<rect x="275.79" y="371.75" width="1.2" height="1.2" fill="#444"/>
<path d="M325.08 383.57V395.24" stroke="#b4b4f6" stroke-width="0.75"/>
<path d="M274.15 371.85V377.3" stroke="#b4b4f6" stroke-width="0.75"/>
<rect x="273.55" y="373.98" width="1.2" height="1.2" fill="#4848e8"/>
<path d="M317.31 373.03V380.14" stroke="#a8a8a8" stroke-width="0.75"/>
<rect x="316.71" y="375.99" width="1.2" height="1.2" fill="#444"/>
<path d="M308.21 374.1V381.12" stroke="#8c8cf0" stroke-width="0.75"/>
<path d="M298.29 361.94V371.96" stroke="#b8b8b8" stroke-width="0.75"/>
<rect x="297.69" y="366.35" width="1.2" height="1.2" fill="#444"/>
<path d="M276.86 370.59V373.65" stroke="#888" stroke-width="0.75"/>
<rect x="276.26" y="371.52" width="1.2" height="1.2" fill="#444"/>
<path d="M288.77 365.52V375.01" stroke="#7878ee" stroke-width="0.75"/>
<path d="M293.82 365.84V374.82" stroke="#c4c4c4" stroke-width="0.75"/>
<rect x="293.22" y="369.73" width="1.2" height="1.2" fill="#444"/>
<path d="M311.79 374.66V380.84" stroke="#969696" stroke-width="0.75"/>
<path d="M273.82 369.48V377.23" stroke="#a0a0f4" stroke-width="0.75"/>
<rect x="273.22" y="372.76" width="1.2" height="1.2" fill="#4848e8"/>
<path d="M320.46 376.59V381.54" stroke="#c4c4c4" stroke-width="0.75"/>
<rect x="319.86" y="378.47" width="1.2" height="1.2" fill="#444"/>
<path d="M288.24 367.78V373.3" stroke="#7878ee" stroke-width="0.75"/>
<rect x="287.64" y="369.94" width="1.2" height="1.2" fill="#4848e8"/>
<path d="M320.1 378.34V389.67" stroke="#b8b8b8" stroke-width="0.75"/>
<path d="M278 368.32V371.81" stroke="#c4c4c4" stroke-width="0.75"/>
<rect x="277.4" y="369.46" width="1.2" height="1.2" fill="#444"/>
<path d="M323.23 378.52V387.44" stroke="#c4c4c4" stroke-width="0.75"/>
<rect x="322.63" y="382.38" width="1.2" height="1.2" fill="#444"/>
<path d="M279.3 368.95V377.63" stroke="#a0a0f4" stroke-width="0.75"/>
<rect x="278.7" y="372.69" width="1.2" height="1.2" fill="#4848e8"/>
<path d="M312.97 371.77V381.73" stroke="#888" stroke-width="0.75"/>
<rect x="312.37" y="376.15" width="1.2" height="1.2" fill="#444"/>
<path d="M286.39 366.48V372.78" stroke="#c4c4c4" stroke-width="0.75"/>
<rect x="285.79" y="369.03" width="1.2" height="1.2" fill="#444"/>
<path d="M307.68 368.89V375.95" stroke="#a8a8a8" stroke-width="0.75"/>
<rect x="307.08" y="371.82" width="1.2" height="1.2" fill="#444"/>
<path d="M283.31 370.41V377.64" stroke="#c4c4c4" stroke-width="0.75"/>
<rect x="282.71" y="373.42" width="1.2" height="1.2" fill="#444"/>
<path d="M293.75 364.34V371.32" stroke="#888" stroke-width="0.75"/>
<path d="M318.45 373.84V380.08" stroke="#c4c4c4" stroke-width="0.75"/>
<path d="M324.31 385.89V394.27" stroke="#b8b8b8" stroke-width="0.75"/>
<rect x="323.71" y="389.48" width="1.2" height="1.2" fill="#444"/>
<path d="M301.06 372.77V377.38" stroke="#b4b4f6" stroke-width="0.75"/>
<rect x="300.46" y="374.48" width="1.2" height="1.2" fill="#4848e8"/>
<path d="M275.17 372.68V380.34" stroke="#c4c4c4" stroke-width="0.75"/>
<rect x="274.57" y="375.91" width="1.2" height="1.2" fill="#444"/>
<path d="M312.2 373.52V378.44" stroke="#888" stroke-width="0.75"/>
<rect x="311.6" y="375.38" width="1.2" height="1.2" fill="#444"/>
<circle cx="275.1" cy="379.1" r="0.95" fill="#ff0000"/>
<circle cx="274.5" cy="383.8" r="0.95" fill="#ff0000"/>
<circle cx="307.2" cy="375.3" r="0.95" fill="#ff0000"/>
<circle cx="315.6" cy="377.4" r="0.95" fill="#ff0000"/>
<circle cx="321.5" cy="377.4" r="0.95" fill="#ff0000"/>
<circle cx="327.9" cy="389" r="0.95" fill="#ff0000"/>
<circle cx="318.8" cy="397.5" r="0.95" fill="#ff0000"/>
<circle cx="322" cy="386.3" r="0.95" fill="#ff0000"/>
<polyline points="276.6,374.3 282.9,370.5 290.3,370.7 297.7,372.8 306.1,372.8 313.5,377.4 320.3,380.6 327.9,384.8" fill="none" stroke="#ff8000" stroke-width="1.25" stroke-linejoin="round"/>
<circle cx="276.6" cy="374.3" r="1.15" fill="#ff6a00"/>
<circle cx="282.9" cy="370.5" r="1.15" fill="#ff6a00"/>
<circle cx="290.3" cy="370.7" r="1.15" fill="#ff6a00"/>
<circle cx="297.7" cy="372.8" r="1.15" fill="#ff6a00"/>
<circle cx="306.1" cy="372.8" r="1.15" fill="#ff6a00"/>
<circle cx="313.5" cy="377.4" r="1.15" fill="#ff6a00"/>
<circle cx="320.3" cy="380.6" r="1.15" fill="#ff6a00"/>
<circle cx="327.9" cy="384.8" r="1.15" fill="#ff6a00"/>
<path d="M269.5 403.3H350.3V353.5" stroke="#b4b4b4" stroke-width="1" fill="none"/>
<path d="M350.3 387.48h-1.2" stroke="#aaa" stroke-width="0.6"/>
<path d="M350.3 372.52h-1.2" stroke="#aaa" stroke-width="0.6"/>
<path d="M350.3 357.57h-1.2" stroke="#aaa" stroke-width="0.6"/>
<path d="M273.4 403.3v-1.5" stroke="#999" stroke-width="0.7"/>
<text x="273.4" y="409.2" font-size="5.4" font-weight="bold" text-anchor="middle" style="stroke-width:0.1px">0.0</text>
<path d="M310.65 403.3v-1.5" stroke="#999" stroke-width="0.7"/>
<text x="310.65" y="409.2" font-size="5.4" font-weight="bold" text-anchor="middle" style="stroke-width:0.1px">0.5</text>
<path d="M347.9 403.3v-1.5" stroke="#999" stroke-width="0.7"/>
<text x="347.9" y="409.2" font-size="5.4" font-weight="bold" text-anchor="middle" style="stroke-width:0.1px">1.0</text>
<path d="M350.3 394.95h-1.5" stroke="#999" stroke-width="0.7"/>
<text x="351.6" y="396.85" font-size="5.4" font-weight="bold" style="stroke-width:0.12px">1.0</text>
<path d="M350.3 380h-1.5" stroke="#999" stroke-width="0.7"/>
<text x="351.6" y="381.9" font-size="5.4" font-weight="bold" style="stroke-width:0.12px">1.5</text>
<path d="M350.3 365.05h-1.5" stroke="#999" stroke-width="0.7"/>
<text x="351.6" y="366.95" font-size="5.4" font-weight="bold" style="stroke-width:0.12px">2.0</text>
</g>
<rect x="269.5" y="353.5" width="203.1" height="144" fill="none" stroke="#222" stroke-width="1"/>
<path d="M267.1 483.7H269.5M472.6 483.7h-3" stroke="#222" stroke-width="0.9"/>
<text x="265.7" y="486.2" font-size="7.2" text-anchor="end">1.0</text>
<path d="M267.1 437.05H269.5M472.6 437.05h-3" stroke="#222" stroke-width="0.9"/>
<text x="265.7" y="439.55" font-size="7.2" text-anchor="end">1.5</text>
<path d="M267.1 390.4H269.5M472.6 390.4h-3" stroke="#222" stroke-width="0.9"/>
<text x="265.7" y="392.9" font-size="7.2" text-anchor="end">2.0</text>
<path d="M267.5 460.38H269.5M472.6 460.38h-2" stroke="#222" stroke-width="0.9"/>
<path d="M267.5 413.72H269.5M472.6 413.72h-2" stroke="#222" stroke-width="0.9"/>
<path d="M267.5 367.07H269.5M472.6 367.07h-2" stroke="#222" stroke-width="0.9"/>
<path d="M280.3 497.5v2.8" stroke="#222" stroke-width="0.9"/>
<text x="280.3" y="507.3" font-size="6.8" text-anchor="middle">1E-5</text>
<path d="M316.48 497.5v2.8" stroke="#222" stroke-width="0.9"/>
<text x="316.48" y="507.3" font-size="6.8" text-anchor="middle">1E-4</text>
<path d="M352.66 497.5v2.8" stroke="#222" stroke-width="0.9"/>
<text x="352.66" y="507.3" font-size="6.8" text-anchor="middle">1E-3</text>
<path d="M388.84 497.5v2.8" stroke="#222" stroke-width="0.9"/>
<text x="388.84" y="507.3" font-size="6.8" text-anchor="middle">0.01</text>
<path d="M425.02 497.5v2.8" stroke="#222" stroke-width="0.9"/>
<text x="425.02" y="507.3" font-size="6.8" text-anchor="middle">0.1</text>
<path d="M461.2 497.5v2.8" stroke="#222" stroke-width="0.9"/>
<text x="461.2" y="507.3" font-size="6.8" text-anchor="middle">1</text>
<path d="M280.3 353.5v2.6" stroke="#222" stroke-width="0.9"/>
<path d="M316.4 353.5v2.6" stroke="#222" stroke-width="0.9"/>
<path d="M352.5 353.5v2.6" stroke="#222" stroke-width="0.9"/>
<path d="M388.7 353.5v2.6" stroke="#222" stroke-width="0.9"/>
<path d="M424.9 353.5v2.6" stroke="#222" stroke-width="0.9"/>
<path d="M461.5 353.5v2.6" stroke="#222" stroke-width="0.9"/>
<text transform="translate(250.2,429.7) rotate(-90)" font-size="7.3" text-anchor="middle" textLength="56" lengthAdjust="spacingAndGlyphs">log[W(6196)/Ebv]</text>
<text x="367.4" y="519" font-size="8.0">f<tspan font-size="4.3" dy="2.9" style="stroke-width:0.2px">H2</tspan></text>
<text x="403.1" y="367.6" font-size="13.6">F</text>
<text x="415.9" y="367.7" font-size="7.8" textLength="43.3" lengthAdjust="spacingAndGlyphs">(114 points)</text>
<g>
<path d="M34.5 593.4V606.6" stroke="#505050" stroke-width="1.2" fill="none"/>
<path d="M33.6 593.8H35.4M33.6 606.2H35.4" stroke="#222" stroke-width="1" fill="none"/>
<rect x="33.8" y="599.3" width="1.4" height="1.4" fill="#333"/>
<path d="M46.2 597.2V618.4" stroke="#505050" stroke-width="1.2" fill="none"/>
<path d="M45.3 597.6H47.1M45.3 618H47.1" stroke="#222" stroke-width="1" fill="none"/>
<rect x="45.5" y="607.1" width="1.4" height="1.4" fill="#333"/>
<path d="M82.6 594.6V601.9" stroke="#505050" stroke-width="1.2" fill="none"/>
<path d="M81.7 595H83.5M81.7 601.5H83.5" stroke="#222" stroke-width="1" fill="none"/>
<circle cx="82.6" cy="598.7" r="1.4" fill="#fff" stroke="#9a9a9a" stroke-width="0.7"/>
<path d="M134.7 590.3V596.8" stroke="#5a5aff" stroke-width="1.3" fill="none"/>
<path d="M133.8 590.7H135.6M133.8 596.4H135.6" stroke="#3030f0" stroke-width="1" fill="none"/>
<rect x="134" y="592.85" width="1.4" height="1.4" fill="#2a2aee"/>
<path d="M131.6 570.2V585.7" stroke="#505050" stroke-width="1.2" fill="none"/>
<path d="M130.7 570.6H132.5M130.7 585.3H132.5" stroke="#222" stroke-width="1" fill="none"/>
<circle cx="131.6" cy="577.6" r="1.4" fill="#fff" stroke="#9a9a9a" stroke-width="0.7"/>
<path d="M147.1 596.9L149.4 599.2L147.1 601.5L144.8 599.2Z" fill="none" stroke="#ff0000" stroke-width="0.8"/>
<path d="M157.5 609.7L159.6 611.8L157.5 613.9L155.4 611.8Z" fill="none" stroke="#7070ff" stroke-width="0.8"/>
<path d="M163.2 602.9L163.73 604.17L165.1 604.28L164.06 605.18L164.38 606.52L163.2 605.8L162.02 606.52L162.34 605.18L161.3 604.28L162.67 604.17Z" fill="none" stroke="#ff0000" stroke-width="0.8"/>
<path d="M157.5 573.8V583.1" stroke="#505050" stroke-width="1.2" fill="none"/>
<path d="M156.6 574.2H158.4M156.6 582.7H158.4" stroke="#222" stroke-width="1" fill="none"/>
<rect x="156.8" y="577.75" width="1.4" height="1.4" fill="#333"/>
<path d="M156.3 583.1V591.7" stroke="#505050" stroke-width="1.2" fill="none"/>
<path d="M155.4 583.5H157.2M155.4 591.3H157.2" stroke="#222" stroke-width="1" fill="none"/>
<rect x="155.6" y="586.7" width="1.4" height="1.4" fill="#333"/>
<path d="M165.8 614.7V632" stroke="#505050" stroke-width="1.2" fill="none"/>
<path d="M164.9 615.1H166.7M164.9 631.6H166.7" stroke="#222" stroke-width="1" fill="none"/>
<rect x="165.1" y="622.65" width="1.4" height="1.4" fill="#333"/>
<path d="M168.8 592.7V605" stroke="#505050" stroke-width="1.2" fill="none"/>
<path d="M167.9 593.1H169.7M167.9 604.6H169.7" stroke="#222" stroke-width="1" fill="none"/>
<rect x="168.1" y="598.15" width="1.4" height="1.4" fill="#333"/>
<path d="M167 598.4H171M169 596.4V600.4" stroke="#ff0000" stroke-width="1"/>
<path d="M170.9 585.2V596.8" stroke="#5a5aff" stroke-width="1.3" fill="none"/>
<path d="M170 585.6H171.8M170 596.4H171.8" stroke="#3030f0" stroke-width="1" fill="none"/>
<rect x="170.2" y="590.3" width="1.4" height="1.4" fill="#2a2aee"/>
<path d="M172.9 570.9V596.8" stroke="#505050" stroke-width="1.2" fill="none"/>
<path d="M172 571.3H173.8M172 596.4H173.8" stroke="#222" stroke-width="1" fill="none"/>
<rect x="172.2" y="583.15" width="1.4" height="1.4" fill="#333"/>
<path d="M173.2 602.3V625.5" stroke="#505050" stroke-width="1.2" fill="none"/>
<path d="M172.3 602.7H174.1M172.3 625.1H174.1" stroke="#222" stroke-width="1" fill="none"/>
<circle cx="173.2" cy="614.6" r="1.4" fill="#fff" stroke="#9a9a9a" stroke-width="0.7"/>
<path d="M174.6 580.5V594.1" stroke="#505050" stroke-width="1.2" fill="none"/>
<path d="M173.7 580.9H175.5M173.7 593.7H175.5" stroke="#222" stroke-width="1" fill="none"/>
<rect x="173.9" y="586.6" width="1.4" height="1.4" fill="#333"/>
<path d="M175.7 566.8V581.8" stroke="#5a5aff" stroke-width="1.3" fill="none"/>
<path d="M174.8 567.2H176.6M174.8 581.4H176.6" stroke="#3030f0" stroke-width="1" fill="none"/>
<rect x="175" y="573.6" width="1.4" height="1.4" fill="#2a2aee"/>
<path d="M175.9 585.9V602.3" stroke="#505050" stroke-width="1.2" fill="none"/>
<path d="M175 586.3H176.8M175 601.9H176.8" stroke="#222" stroke-width="1" fill="none"/>
<rect x="175.2" y="593.4" width="1.4" height="1.4" fill="#333"/>
<path d="M176.2 599.6V618.7" stroke="#5a5aff" stroke-width="1.3" fill="none"/>
<path d="M175.3 600H177.1M175.3 618.3H177.1" stroke="#3030f0" stroke-width="1" fill="none"/>
<rect x="175.5" y="608.45" width="1.4" height="1.4" fill="#2a2aee"/>
<path d="M178.7 585.9V602.3" stroke="#505050" stroke-width="1.2" fill="none"/>
<path d="M177.8 586.3H179.6M177.8 601.9H179.6" stroke="#222" stroke-width="1" fill="none"/>
<rect x="178" y="593.4" width="1.4" height="1.4" fill="#333"/>
<path d="M180 573.6V585.9" stroke="#5a5aff" stroke-width="1.3" fill="none"/>
<path d="M179.1 574H180.9M179.1 585.5H180.9" stroke="#3030f0" stroke-width="1" fill="none"/>
<rect x="179.3" y="579.05" width="1.4" height="1.4" fill="#2a2aee"/>
<path d="M180.7 583.2V592.7" stroke="#505050" stroke-width="1.2" fill="none"/>
<path d="M179.8 583.6H181.6M179.8 592.3H181.6" stroke="#222" stroke-width="1" fill="none"/>
<rect x="180" y="587.25" width="1.4" height="1.4" fill="#333"/>
<path d="M182.1 576.4V592.7" stroke="#505050" stroke-width="1.2" fill="none"/>
<path d="M181.2 576.8H183M181.2 592.3H183" stroke="#222" stroke-width="1" fill="none"/>
<rect x="181.4" y="583.85" width="1.4" height="1.4" fill="#333"/>
<path d="M184.2 590V606.4" stroke="#505050" stroke-width="1.2" fill="none"/>
<path d="M183.3 590.4H185.1M183.3 606H185.1" stroke="#222" stroke-width="1" fill="none"/>
<rect x="183.5" y="597.5" width="1.4" height="1.4" fill="#333"/>
<path d="M185.2 580.5V591.4" stroke="#5a5aff" stroke-width="1.3" fill="none"/>
<path d="M184.3 580.9H186.1M184.3 591H186.1" stroke="#3030f0" stroke-width="1" fill="none"/>
<rect x="184.5" y="585.25" width="1.4" height="1.4" fill="#2a2aee"/>
<path d="M185.5 596.8V605" stroke="#5a5aff" stroke-width="1.3" fill="none"/>
<path d="M184.6 597.2H186.4M184.6 604.6H186.4" stroke="#3030f0" stroke-width="1" fill="none"/>
<rect x="184.8" y="600.2" width="1.4" height="1.4" fill="#2a2aee"/>
<path d="M186.8 583.2V592.7" stroke="#5a5aff" stroke-width="1.3" fill="none"/>
<path d="M185.9 583.6H187.7M185.9 592.3H187.7" stroke="#3030f0" stroke-width="1" fill="none"/>
<rect x="186.1" y="587.25" width="1.4" height="1.4" fill="#2a2aee"/>
<path d="M188 579.1V587.3" stroke="#505050" stroke-width="1.2" fill="none"/>
<path d="M187.1 579.5H188.9M187.1 586.9H188.9" stroke="#222" stroke-width="1" fill="none"/>
<rect x="187.3" y="582.5" width="1.4" height="1.4" fill="#333"/>
<path d="M190.3 570.2V599.6" stroke="#505050" stroke-width="1.2" fill="none"/>
<path d="M189.4 570.6H191.2M189.4 599.2H191.2" stroke="#222" stroke-width="1" fill="none"/>
<rect x="189.6" y="584.2" width="1.4" height="1.4" fill="#333"/>
<path d="M190.7 599.6V610.5" stroke="#5a5aff" stroke-width="1.3" fill="none"/>
<path d="M189.8 600H191.6M189.8 610.1H191.6" stroke="#3030f0" stroke-width="1" fill="none"/>
<rect x="190" y="604.35" width="1.4" height="1.4" fill="#2a2aee"/>
<path d="M191.8 579.1V586" stroke="#505050" stroke-width="1.2" fill="none"/>
<path d="M190.9 579.5H192.7M190.9 585.6H192.7" stroke="#222" stroke-width="1" fill="none"/>
<rect x="191.1" y="581.85" width="1.4" height="1.4" fill="#333"/>
<path d="M192.9 579.1V598.9" stroke="#505050" stroke-width="1.2" fill="none"/>
<path d="M192 579.5H193.8M192 598.5H193.8" stroke="#222" stroke-width="1" fill="none"/>
<rect x="192.2" y="588.3" width="1.4" height="1.4" fill="#333"/>
<path d="M193.7 581.8V591.4" stroke="#5a5aff" stroke-width="1.3" fill="none"/>
<path d="M192.8 582.2H194.6M192.8 591H194.6" stroke="#3030f0" stroke-width="1" fill="none"/>
<rect x="193" y="585.9" width="1.4" height="1.4" fill="#2a2aee"/>
<path d="M194.7 580.9V591.7" stroke="#5a5aff" stroke-width="1.3" fill="none"/>
<path d="M193.8 581.3H195.6M193.8 591.3H195.6" stroke="#3030f0" stroke-width="1" fill="none"/>
<rect x="194" y="585.6" width="1.4" height="1.4" fill="#2a2aee"/>
<path d="M195.8 583.2V599.6" stroke="#505050" stroke-width="1.2" fill="none"/>
<path d="M194.9 583.6H196.7M194.9 599.2H196.7" stroke="#222" stroke-width="1" fill="none"/>
<rect x="195.1" y="590.7" width="1.4" height="1.4" fill="#333"/>
<path d="M197 584.5V600.6" stroke="#505050" stroke-width="1.2" fill="none"/>
<path d="M196.1 584.9H197.9M196.1 600.2H197.9" stroke="#222" stroke-width="1" fill="none"/>
<rect x="196.3" y="591.85" width="1.4" height="1.4" fill="#333"/>
<path d="M197.6 583.2V591.4" stroke="#5a5aff" stroke-width="1.3" fill="none"/>
<path d="M196.7 583.6H198.5M196.7 591H198.5" stroke="#3030f0" stroke-width="1" fill="none"/>
<rect x="196.9" y="586.6" width="1.4" height="1.4" fill="#2a2aee"/>
<path d="M199.6 589.9V615" stroke="#505050" stroke-width="1.2" fill="none"/>
<path d="M198.7 590.3H200.5M198.7 614.6H200.5" stroke="#222" stroke-width="1" fill="none"/>
<rect x="198.9" y="601.75" width="1.4" height="1.4" fill="#333"/>
<path d="M200.1 570.1V578.2" stroke="#505050" stroke-width="1.2" fill="none"/>
<path d="M199.2 570.5H201M199.2 577.8H201" stroke="#222" stroke-width="1" fill="none"/>
<rect x="199.4" y="573.45" width="1.4" height="1.4" fill="#333"/>
<path d="M201 580.9V624" stroke="#505050" stroke-width="1.2" fill="none"/>
<path d="M200.1 581.3H201.9M200.1 623.6H201.9" stroke="#222" stroke-width="1" fill="none"/>
<rect x="200.3" y="601.75" width="1.4" height="1.4" fill="#333"/>
<path d="M202.4 591.7V602.4" stroke="#5a5aff" stroke-width="1.3" fill="none"/>
<path d="M201.5 592.1H203.3M201.5 602H203.3" stroke="#3030f0" stroke-width="1" fill="none"/>
<rect x="201.7" y="596.35" width="1.4" height="1.4" fill="#2a2aee"/>
<path d="M203.2 584.5V607.8" stroke="#505050" stroke-width="1.2" fill="none"/>
<path d="M202.3 584.9H204.1M202.3 607.4H204.1" stroke="#222" stroke-width="1" fill="none"/>
<rect x="202.5" y="595.45" width="1.4" height="1.4" fill="#333"/>
<path d="M204.2 598.9V611.4" stroke="#5a5aff" stroke-width="1.3" fill="none"/>
<path d="M203.3 599.3H205.1M203.3 611H205.1" stroke="#3030f0" stroke-width="1" fill="none"/>
<rect x="203.5" y="604.45" width="1.4" height="1.4" fill="#2a2aee"/>
<path d="M203.7 620.5V625.5" stroke="#5a5aff" stroke-width="1.3" fill="none"/>
<path d="M202.8 620.9H204.6M202.8 625.1H204.6" stroke="#3030f0" stroke-width="1" fill="none"/>
<rect x="203" y="622.3" width="1.4" height="1.4" fill="#2a2aee"/>
<path d="M206 591.7V602.4" stroke="#505050" stroke-width="1.2" fill="none"/>
<path d="M205.1 592.1H206.9M205.1 602H206.9" stroke="#222" stroke-width="1" fill="none"/>
<rect x="205.3" y="596.35" width="1.4" height="1.4" fill="#333"/>
<path d="M207.3 589.9V598.9" stroke="#5a5aff" stroke-width="1.3" fill="none"/>
<path d="M206.4 590.3H208.2M206.4 598.5H208.2" stroke="#3030f0" stroke-width="1" fill="none"/>
<rect x="206.6" y="593.7" width="1.4" height="1.4" fill="#2a2aee"/>
<path d="M207.8 613.2V633" stroke="#505050" stroke-width="1.2" fill="none"/>
<path d="M206.9 613.6H208.7M206.9 632.6H208.7" stroke="#222" stroke-width="1" fill="none"/>
<rect x="207.1" y="622.4" width="1.4" height="1.4" fill="#333"/>
<path d="M209.1 609.6V620.4" stroke="#5a5aff" stroke-width="1.3" fill="none"/>
<path d="M208.2 610H210M208.2 620H210" stroke="#3030f0" stroke-width="1" fill="none"/>
<rect x="208.4" y="614.3" width="1.4" height="1.4" fill="#2a2aee"/>
<path d="M211.8 638.4V649.1" stroke="#505050" stroke-width="1.2" fill="none"/>
<path d="M210.9 638.8H212.7M210.9 648.7H212.7" stroke="#222" stroke-width="1" fill="none"/>
<rect x="211.1" y="643.05" width="1.4" height="1.4" fill="#333"/>
<path d="M212.1 652.7V662.6" stroke="#505050" stroke-width="1.2" fill="none"/>
<path d="M211.2 653.1H213M211.2 662.2H213" stroke="#222" stroke-width="1" fill="none"/>
<rect x="211.4" y="656.95" width="1.4" height="1.4" fill="#333"/>
<circle cx="198.7" cy="588.2" r="1.4" fill="none" stroke="#ff0000" stroke-width="0.8"/>
<circle cx="205" cy="598.9" r="1.6" fill="#ff0000"/>
<rect x="206.8" y="601.4" width="2.8" height="2.8" fill="#ff0000"/>
<rect x="208.6" y="612.7" width="2.8" height="2.8" fill="none" stroke="#ff0000" stroke-width="0.8"/>
<path d="M207.8 621.8L212.2 626.2M212.2 621.8L207.8 626.2" stroke="#ff0000" stroke-width="0.9"/>
<circle cx="212.1" cy="628.5" r="1.6" fill="#ff0000"/>
<path d="M207.32 611.24V624.29" stroke="#505050" stroke-width="1.1" fill="none"/>
<path d="M206.42 611.64H208.22M206.42 623.89H208.22" stroke="#222" stroke-width="0.9" fill="none"/>
<path d="M207.11 589.32V604.84" stroke="#505050" stroke-width="1.1" fill="none"/>
<path d="M206.21 589.72H208.01M206.21 604.44H208.01" stroke="#222" stroke-width="0.9" fill="none"/>
<path d="M202.64 593.59V601.99" stroke="#505050" stroke-width="1.1" fill="none"/>
<path d="M201.74 593.99H203.54M201.74 601.59H203.54" stroke="#222" stroke-width="0.9" fill="none"/>
<path d="M200.42 611.03V619.33" stroke="#5a5aff" stroke-width="1.3" fill="none"/>
<path d="M199.54 612.42V621.83" stroke="#505050" stroke-width="1.1" fill="none"/>
<path d="M198.64 612.82H200.44M198.64 621.43H200.44" stroke="#222" stroke-width="0.9" fill="none"/>
<path d="M200.97 612.7V626.41" stroke="#505050" stroke-width="1.1" fill="none"/>
<path d="M200.07 613.1H201.87M200.07 626.01H201.87" stroke="#222" stroke-width="0.9" fill="none"/>
<path d="M201.81 610.36V626.21" stroke="#5a5aff" stroke-width="1.3" fill="none"/>
<path d="M205.3 591.11V597.16" stroke="#505050" stroke-width="1.1" fill="none"/>
<path d="M204.4 591.51H206.2M204.4 596.76H206.2" stroke="#222" stroke-width="0.9" fill="none"/>
<path d="M200.88 600.54V612.76" stroke="#505050" stroke-width="1.1" fill="none"/>
<path d="M199.98 600.94H201.78M199.98 612.36H201.78" stroke="#222" stroke-width="0.9" fill="none"/>
</g>
<g>
<path d="M28.19 548.06V555.91" stroke="#888" stroke-width="0.75"/>
<rect x="27.59" y="551.38" width="1.2" height="1.2" fill="#444"/>
<path d="M54.49 548.31V553.54" stroke="#888" stroke-width="0.75"/>
<rect x="53.89" y="550.32" width="1.2" height="1.2" fill="#444"/>
<path d="M28.49 547.15V554.21" stroke="#969696" stroke-width="0.75"/>
<rect x="27.89" y="550.08" width="1.2" height="1.2" fill="#444"/>
<path d="M53.24 549.65V556.16" stroke="#8c8cf0" stroke-width="0.75"/>
<rect x="52.64" y="552.31" width="1.2" height="1.2" fill="#4848e8"/>
<path d="M77.64 559.34V564.78" stroke="#b8b8b8" stroke-width="0.75"/>
<rect x="77.04" y="561.46" width="1.2" height="1.2" fill="#444"/>
<path d="M28.17 545.18V551.03" stroke="#8c8cf0" stroke-width="0.75"/>
<path d="M49.9 544.14V551.57" stroke="#c4c4c4" stroke-width="0.75"/>
<path d="M28.05 547.08V556.6" stroke="#8c8cf0" stroke-width="0.75"/>
<path d="M63.53 546.34V556.23" stroke="#b8b8b8" stroke-width="0.75"/>
<rect x="62.93" y="550.68" width="1.2" height="1.2" fill="#444"/>
<path d="M60.23 546.53V551.54" stroke="#c4c4c4" stroke-width="0.75"/>
<rect x="59.63" y="548.43" width="1.2" height="1.2" fill="#444"/>
<path d="M28 547.33V552" stroke="#888" stroke-width="0.75"/>
<rect x="27.4" y="549.06" width="1.2" height="1.2" fill="#444"/>
<path d="M52.9 546.56V553.86" stroke="#8c8cf0" stroke-width="0.75"/>
<path d="M55.62 547.2V557.19" stroke="#969696" stroke-width="0.75"/>
<rect x="55.02" y="551.6" width="1.2" height="1.2" fill="#444"/>
<path d="M41.91 543.32V548.99" stroke="#8c8cf0" stroke-width="0.75"/>
<path d="M62.47 550.21V554.62" stroke="#b8b8b8" stroke-width="0.75"/>
<rect x="61.87" y="551.81" width="1.2" height="1.2" fill="#444"/>
<path d="M32.78 547.07V554.05" stroke="#a0a0f4" stroke-width="0.75"/>
<rect x="32.18" y="549.96" width="1.2" height="1.2" fill="#4848e8"/>
<path d="M54.42 545.8V551.82" stroke="#969696" stroke-width="0.75"/>
<rect x="53.82" y="548.21" width="1.2" height="1.2" fill="#444"/>
<path d="M36.71 546.99V550.92" stroke="#7878ee" stroke-width="0.75"/>
<rect x="36.11" y="548.36" width="1.2" height="1.2" fill="#4848e8"/>
<path d="M35.07 543.53V551.35" stroke="#b8b8b8" stroke-width="0.75"/>
<path d="M31.98 544.16V553.93" stroke="#c4c4c4" stroke-width="0.75"/>
<rect x="31.38" y="548.45" width="1.2" height="1.2" fill="#444"/>
<path d="M28.89 549.07V552.37" stroke="#969696" stroke-width="0.75"/>
<rect x="28.29" y="550.12" width="1.2" height="1.2" fill="#444"/>
<path d="M29.81 543.97V547.02" stroke="#c4c4c4" stroke-width="0.75"/>
<rect x="29.21" y="544.9" width="1.2" height="1.2" fill="#444"/>
<path d="M28.32 545.64V549.83" stroke="#a0a0f4" stroke-width="0.75"/>
<rect x="27.72" y="547.13" width="1.2" height="1.2" fill="#4848e8"/>
<path d="M29.05 547.86V553.18" stroke="#8c8cf0" stroke-width="0.75"/>
<rect x="28.45" y="549.92" width="1.2" height="1.2" fill="#4848e8"/>
<path d="M46.89 547.53V550.61" stroke="#c4c4c4" stroke-width="0.75"/>
<rect x="46.29" y="548.47" width="1.2" height="1.2" fill="#444"/>
<path d="M36.31 545.41V551.04" stroke="#b8b8b8" stroke-width="0.75"/>
<rect x="35.71" y="547.63" width="1.2" height="1.2" fill="#444"/>
<path d="M49.6 544.44V550.1" stroke="#7878ee" stroke-width="0.75"/>
<rect x="49" y="546.67" width="1.2" height="1.2" fill="#4848e8"/>
<path d="M28.87 545.74V549.68" stroke="#b8b8b8" stroke-width="0.75"/>
<rect x="28.27" y="547.11" width="1.2" height="1.2" fill="#444"/>
<path d="M28.03 545.63V548.94" stroke="#888" stroke-width="0.75"/>
<rect x="27.43" y="546.69" width="1.2" height="1.2" fill="#444"/>
<path d="M69.5 553.63V557.74" stroke="#b8b8b8" stroke-width="0.75"/>
<rect x="68.9" y="555.08" width="1.2" height="1.2" fill="#444"/>
<path d="M29.56 547.66V557.3" stroke="#888" stroke-width="0.75"/>
<rect x="28.96" y="551.88" width="1.2" height="1.2" fill="#444"/>
<path d="M53.34 551.52V561.22" stroke="#a8a8a8" stroke-width="0.75"/>
<rect x="52.74" y="555.77" width="1.2" height="1.2" fill="#444"/>
<path d="M32.9 545.04V552.13" stroke="#b4b4f6" stroke-width="0.75"/>
<rect x="32.3" y="547.99" width="1.2" height="1.2" fill="#4848e8"/>
<path d="M71.69 557.04V562.33" stroke="#a0a0f4" stroke-width="0.75"/>
<path d="M59.47 548.68V556.66" stroke="#b8b8b8" stroke-width="0.75"/>
<rect x="58.87" y="552.07" width="1.2" height="1.2" fill="#444"/>
<path d="M74.86 555.64V563.06" stroke="#888" stroke-width="0.75"/>
<path d="M53.85 546.25V550.8" stroke="#969696" stroke-width="0.75"/>
<rect x="53.25" y="547.93" width="1.2" height="1.2" fill="#444"/>
<path d="M52.51 545.85V551.56" stroke="#a8a8a8" stroke-width="0.75"/>
<rect x="51.91" y="548.1" width="1.2" height="1.2" fill="#444"/>
<path d="M51.89 545.4V553.86" stroke="#a8a8a8" stroke-width="0.75"/>
<rect x="51.29" y="549.03" width="1.2" height="1.2" fill="#444"/>
<path d="M57.27 546.86V552.2" stroke="#8c8cf0" stroke-width="0.75"/>
<rect x="56.67" y="548.93" width="1.2" height="1.2" fill="#4848e8"/>
<path d="M61.43 551.49V557.78" stroke="#888" stroke-width="0.75"/>
<rect x="60.83" y="554.03" width="1.2" height="1.2" fill="#444"/>
<path d="M28.22 546.7V551.72" stroke="#7878ee" stroke-width="0.75"/>
<path d="M28.82 547.64V554.58" stroke="#a8a8a8" stroke-width="0.75"/>
<rect x="28.22" y="550.51" width="1.2" height="1.2" fill="#444"/>
<path d="M60.84 546.78V551.88" stroke="#969696" stroke-width="0.75"/>
<rect x="60.24" y="548.73" width="1.2" height="1.2" fill="#444"/>
<path d="M63.84 546.4V554.32" stroke="#7878ee" stroke-width="0.75"/>
<rect x="63.24" y="549.76" width="1.2" height="1.2" fill="#4848e8"/>
<path d="M58.49 552.31V559.32" stroke="#888" stroke-width="0.75"/>
<path d="M43.44 542.49V546.59" stroke="#969696" stroke-width="0.75"/>
<rect x="42.84" y="543.94" width="1.2" height="1.2" fill="#444"/>
<path d="M81.69 567.17V570.38" stroke="#c4c4c4" stroke-width="0.75"/>
<rect x="81.09" y="568.17" width="1.2" height="1.2" fill="#444"/>
<path d="M38.11 540.84V543.89" stroke="#888" stroke-width="0.75"/>
<rect x="37.51" y="541.76" width="1.2" height="1.2" fill="#444"/>
<path d="M28.01 551.46V554.64" stroke="#969696" stroke-width="0.75"/>
<rect x="27.41" y="552.45" width="1.2" height="1.2" fill="#444"/>
<path d="M28.02 544.73V552.76" stroke="#b8b8b8" stroke-width="0.75"/>
<path d="M28.34 547.5V555.1" stroke="#888" stroke-width="0.75"/>
<path d="M28.45 548.45V557.51" stroke="#c4c4c4" stroke-width="0.75"/>
<rect x="27.85" y="552.38" width="1.2" height="1.2" fill="#444"/>
<path d="M28 547.19V554.12" stroke="#a0a0f4" stroke-width="0.75"/>
<path d="M38.5 544.39V548.79" stroke="#a0a0f4" stroke-width="0.75"/>
<rect x="37.9" y="545.99" width="1.2" height="1.2" fill="#4848e8"/>
<path d="M46.25 538.68V547.35" stroke="#969696" stroke-width="0.75"/>
<rect x="45.65" y="542.41" width="1.2" height="1.2" fill="#444"/>
<path d="M43.17 544.99V551.81" stroke="#a8a8a8" stroke-width="0.75"/>
<rect x="42.57" y="547.8" width="1.2" height="1.2" fill="#444"/>
<path d="M29.84 548.66V552.29" stroke="#969696" stroke-width="0.75"/>
<path d="M44.6 538.85V548.17" stroke="#c4c4c4" stroke-width="0.75"/>
<rect x="44" y="542.91" width="1.2" height="1.2" fill="#444"/>
<path d="M31.14 544.12V549.8" stroke="#a8a8a8" stroke-width="0.75"/>
<rect x="30.54" y="546.36" width="1.2" height="1.2" fill="#444"/>
<path d="M39.78 538.89V548.52" stroke="#c4c4c4" stroke-width="0.75"/>
<rect x="39.18" y="543.11" width="1.2" height="1.2" fill="#444"/>
<path d="M31.33 546.04V555.39" stroke="#c4c4c4" stroke-width="0.75"/>
<rect x="30.73" y="550.11" width="1.2" height="1.2" fill="#444"/>
<path d="M28.86 548.91V555.54" stroke="#7878ee" stroke-width="0.75"/>
<path d="M55.43 547.42V551.76" stroke="#b4b4f6" stroke-width="0.75"/>
<rect x="54.83" y="548.99" width="1.2" height="1.2" fill="#4848e8"/>
<path d="M70.17 556.76V561.23" stroke="#a0a0f4" stroke-width="0.75"/>
<rect x="69.57" y="558.39" width="1.2" height="1.2" fill="#4848e8"/>
<path d="M28.41 546.97V554.48" stroke="#888" stroke-width="0.75"/>
<rect x="27.81" y="550.12" width="1.2" height="1.2" fill="#444"/>
<path d="M35.43 545.94V553.05" stroke="#969696" stroke-width="0.75"/>
<rect x="34.83" y="548.9" width="1.2" height="1.2" fill="#444"/>
<path d="M29.08 545.11V551.82" stroke="#a8a8a8" stroke-width="0.75"/>
<path d="M28.07 546.61V554" stroke="#b4b4f6" stroke-width="0.75"/>
<path d="M28.31 550.43V553.44" stroke="#7878ee" stroke-width="0.75"/>
<rect x="27.71" y="551.34" width="1.2" height="1.2" fill="#4848e8"/>
<path d="M79.71 561.11V566.44" stroke="#888" stroke-width="0.75"/>
<rect x="79.11" y="563.17" width="1.2" height="1.2" fill="#444"/>
<path d="M30.88 545.99V553.57" stroke="#b8b8b8" stroke-width="0.75"/>
<path d="M29.99 547.61V556.39" stroke="#c4c4c4" stroke-width="0.75"/>
<rect x="29.39" y="551.4" width="1.2" height="1.2" fill="#444"/>
<path d="M29.88 547.42V552.13" stroke="#888" stroke-width="0.75"/>
<rect x="29.28" y="549.18" width="1.2" height="1.2" fill="#444"/>
<path d="M52.02 544.55V551.28" stroke="#c4c4c4" stroke-width="0.75"/>
<path d="M33 549.08V555.19" stroke="#969696" stroke-width="0.75"/>
<rect x="32.4" y="551.54" width="1.2" height="1.2" fill="#444"/>
<path d="M34.11 548.31V553.57" stroke="#8c8cf0" stroke-width="0.75"/>
<path d="M63.02 546.42V553.15" stroke="#888" stroke-width="0.75"/>
<path d="M34.96 547.16V552.98" stroke="#969696" stroke-width="0.75"/>
<rect x="34.36" y="549.47" width="1.2" height="1.2" fill="#444"/>
<path d="M68.08 548.62V555.05" stroke="#888" stroke-width="0.75"/>
<path d="M41.65 544.13V550.71" stroke="#888" stroke-width="0.75"/>
<rect x="41.05" y="546.82" width="1.2" height="1.2" fill="#444"/>
<path d="M28.47 547.02V552.23" stroke="#b8b8b8" stroke-width="0.75"/>
<rect x="27.87" y="549.03" width="1.2" height="1.2" fill="#444"/>
<path d="M28.18 547.67V550.71" stroke="#c4c4c4" stroke-width="0.75"/>
<rect x="27.58" y="548.59" width="1.2" height="1.2" fill="#444"/>
<path d="M32.53 545.21V549.92" stroke="#b8b8b8" stroke-width="0.75"/>
<rect x="31.93" y="546.96" width="1.2" height="1.2" fill="#444"/>
<path d="M28.05 548.14V553.29" stroke="#888" stroke-width="0.75"/>
<rect x="27.45" y="550.11" width="1.2" height="1.2" fill="#444"/>
<path d="M31.44 542.85V550.43" stroke="#969696" stroke-width="0.75"/>
<rect x="30.84" y="546.04" width="1.2" height="1.2" fill="#444"/>
<path d="M45.55 542.23V550.8" stroke="#a0a0f4" stroke-width="0.75"/>
<rect x="44.95" y="545.92" width="1.2" height="1.2" fill="#4848e8"/>
<path d="M49.61 547.63V552.19" stroke="#888" stroke-width="0.75"/>
<rect x="49.01" y="549.31" width="1.2" height="1.2" fill="#444"/>
<path d="M31.95 547.7V557.05" stroke="#b8b8b8" stroke-width="0.75"/>
<rect x="31.35" y="551.77" width="1.2" height="1.2" fill="#444"/>
<path d="M30.99 551.63V554.98" stroke="#969696" stroke-width="0.75"/>
<rect x="30.39" y="552.7" width="1.2" height="1.2" fill="#444"/>
<path d="M43.6 542.9V547.27" stroke="#a8a8a8" stroke-width="0.75"/>
<rect x="43" y="544.49" width="1.2" height="1.2" fill="#444"/>
<path d="M29.47 545.58V553.47" stroke="#b8b8b8" stroke-width="0.75"/>
<rect x="28.87" y="548.93" width="1.2" height="1.2" fill="#444"/>
<path d="M57.98 544.66V554.1" stroke="#c4c4c4" stroke-width="0.75"/>
<rect x="57.38" y="548.78" width="1.2" height="1.2" fill="#444"/>
<path d="M36.36 545.63V548.91" stroke="#a8a8a8" stroke-width="0.75"/>
<rect x="35.76" y="546.67" width="1.2" height="1.2" fill="#444"/>
<path d="M46.64 540.4V549.23" stroke="#a8a8a8" stroke-width="0.75"/>
<circle cx="28.9" cy="551" r="0.95" fill="#ff0000"/>
<circle cx="30.5" cy="553.5" r="0.95" fill="#ff0000"/>
<circle cx="83.3" cy="563" r="0.95" fill="#ff0000"/>
<circle cx="76" cy="556.7" r="0.95" fill="#ff0000"/>
<circle cx="70.2" cy="552.5" r="0.95" fill="#ff0000"/>
<polyline points="31,549.7 38.6,546.6 44.9,546.8 52.7,550.4 60.5,551 67.5,554.6 74.4,559.4 82.9,567.2" fill="none" stroke="#ff8000" stroke-width="1.25" stroke-linejoin="round"/>
<circle cx="31" cy="549.7" r="1.15" fill="#ff6a00"/>
<circle cx="38.6" cy="546.6" r="1.15" fill="#ff6a00"/>
<circle cx="44.9" cy="546.8" r="1.15" fill="#ff6a00"/>
<circle cx="52.7" cy="550.4" r="1.15" fill="#ff6a00"/>
<circle cx="60.5" cy="551" r="1.15" fill="#ff6a00"/>
<circle cx="67.5" cy="554.6" r="1.15" fill="#ff6a00"/>
<circle cx="74.4" cy="559.4" r="1.15" fill="#ff6a00"/>
<circle cx="82.9" cy="567.2" r="1.15" fill="#ff6a00"/>
<path d="M24.3 578.5H105.3V527.4" stroke="#b4b4b4" stroke-width="1" fill="none"/>
<path d="M105.3 569.23h-1.2" stroke="#aaa" stroke-width="0.6"/>
<path d="M105.3 557.08h-1.2" stroke="#aaa" stroke-width="0.6"/>
<path d="M105.3 544.92h-1.2" stroke="#aaa" stroke-width="0.6"/>
<path d="M105.3 532.77h-1.2" stroke="#aaa" stroke-width="0.6"/>
<path d="M28.4 578.5v-1.5" stroke="#999" stroke-width="0.7"/>
<text x="28.4" y="584.4" font-size="5.4" font-weight="bold" text-anchor="middle" style="stroke-width:0.1px">0.0</text>
<path d="M65.6 578.5v-1.5" stroke="#999" stroke-width="0.7"/>
<text x="65.6" y="584.4" font-size="5.4" font-weight="bold" text-anchor="middle" style="stroke-width:0.1px">0.5</text>
<path d="M102.8 578.5v-1.5" stroke="#999" stroke-width="0.7"/>
<text x="102.8" y="584.4" font-size="5.4" font-weight="bold" text-anchor="middle" style="stroke-width:0.1px">1.0</text>
<path d="M105.3 575.3h-1.5" stroke="#999" stroke-width="0.7"/>
<text x="106.6" y="577.2" font-size="5.4" font-weight="bold" style="stroke-width:0.12px">2.0</text>
<path d="M105.3 563.15h-1.5" stroke="#999" stroke-width="0.7"/>
<text x="106.6" y="565.05" font-size="5.4" font-weight="bold" style="stroke-width:0.12px">2.5</text>
<path d="M105.3 551h-1.5" stroke="#999" stroke-width="0.7"/>
<text x="106.6" y="552.9" font-size="5.4" font-weight="bold" style="stroke-width:0.12px">3.0</text>
<path d="M105.3 538.85h-1.5" stroke="#999" stroke-width="0.7"/>
<text x="106.6" y="540.75" font-size="5.4" font-weight="bold" style="stroke-width:0.12px">3.5</text>
</g>
<rect x="24.3" y="527.4" width="203.2" height="144.1" fill="none" stroke="#222" stroke-width="1"/>
<path d="M21.9 668.1H24.3M227.5 668.1h-3" stroke="#222" stroke-width="0.9"/>
<text x="20.5" y="670.6" font-size="7.2" text-anchor="end">2.0</text>
<path d="M21.9 634.4H24.3M227.5 634.4h-3" stroke="#222" stroke-width="0.9"/>
<text x="20.5" y="636.9" font-size="7.2" text-anchor="end">2.5</text>
<path d="M21.9 600.7H24.3M227.5 600.7h-3" stroke="#222" stroke-width="0.9"/>
<text x="20.5" y="603.2" font-size="7.2" text-anchor="end">3.0</text>
<path d="M21.9 567H24.3M227.5 567h-3" stroke="#222" stroke-width="0.9"/>
<text x="20.5" y="569.5" font-size="7.2" text-anchor="end">3.5</text>
<path d="M21.9 533.3H24.3M227.5 533.3h-3" stroke="#222" stroke-width="0.9"/>
<text x="20.5" y="535.8" font-size="7.2" text-anchor="end">4.0</text>
<path d="M22.3 651.25H24.3M227.5 651.25h-2" stroke="#222" stroke-width="0.9"/>
<path d="M22.3 617.55H24.3M227.5 617.55h-2" stroke="#222" stroke-width="0.9"/>
<path d="M22.3 583.85H24.3M227.5 583.85h-2" stroke="#222" stroke-width="0.9"/>
<path d="M22.3 550.15H24.3M227.5 550.15h-2" stroke="#222" stroke-width="0.9"/>
<path d="M35.4 671.5v2.8" stroke="#222" stroke-width="0.9"/>
<text x="35.4" y="681.3" font-size="6.8" text-anchor="middle">1E-5</text>
<path d="M71.66 671.5v2.8" stroke="#222" stroke-width="0.9"/>
<text x="71.66" y="681.3" font-size="6.8" text-anchor="middle">1E-4</text>
<path d="M107.92 671.5v2.8" stroke="#222" stroke-width="0.9"/>
<text x="107.92" y="681.3" font-size="6.8" text-anchor="middle">1E-3</text>
<path d="M144.18 671.5v2.8" stroke="#222" stroke-width="0.9"/>
<text x="144.18" y="681.3" font-size="6.8" text-anchor="middle">0.01</text>
<path d="M180.44 671.5v2.8" stroke="#222" stroke-width="0.9"/>
<text x="180.44" y="681.3" font-size="6.8" text-anchor="middle">0.1</text>
<path d="M216.7 671.5v2.8" stroke="#222" stroke-width="0.9"/>
<text x="216.7" y="681.3" font-size="6.8" text-anchor="middle">1</text>
<path d="M35.4 527.4v2.6" stroke="#222" stroke-width="0.9"/>
<path d="M71.7 527.4v2.6" stroke="#222" stroke-width="0.9"/>
<path d="M107.9 527.4v2.6" stroke="#222" stroke-width="0.9"/>
<path d="M144.2 527.4v2.6" stroke="#222" stroke-width="0.9"/>
<path d="M180.4 527.4v2.6" stroke="#222" stroke-width="0.9"/>
<path d="M216.7 527.4v2.6" stroke="#222" stroke-width="0.9"/>
<text transform="translate(5,603.8) rotate(-90)" font-size="7.3" text-anchor="middle" textLength="56" lengthAdjust="spacingAndGlyphs">log[W(6284)/Ebv]</text>
<text x="122.9" y="693.1" font-size="8.0">f<tspan font-size="4.3" dy="2.9" style="stroke-width:0.2px">H2</tspan></text>
<text x="157.4" y="541.4" font-size="14.0">G</text>
<text x="172.3" y="541.5" font-size="7.8" textLength="43.3" lengthAdjust="spacingAndGlyphs">(108 points)</text>
<g>
<path d="M279.5 597.8V617.5" stroke="#505050" stroke-width="1.2" fill="none"/>
<path d="M278.6 598.2H280.4M278.6 617.1H280.4" stroke="#222" stroke-width="1" fill="none"/>
<rect x="278.8" y="606.95" width="1.4" height="1.4" fill="#333"/>
<path d="M291.2 598.5V622.2" stroke="#505050" stroke-width="1.2" fill="none"/>
<path d="M290.3 598.9H292.1M290.3 621.8H292.1" stroke="#222" stroke-width="1" fill="none"/>
<rect x="290.5" y="609.65" width="1.4" height="1.4" fill="#333"/>
<path d="M327.6 637.1V648.5" stroke="#505050" stroke-width="1.2" fill="none"/>
<path d="M326.7 637.5H328.5M326.7 648.1H328.5" stroke="#222" stroke-width="1" fill="none"/>
<circle cx="327.6" cy="642.8" r="1.4" fill="#fff" stroke="#9a9a9a" stroke-width="0.7"/>
<path d="M379.2 651.6V664.3" stroke="#5a5aff" stroke-width="1.3" fill="none"/>
<path d="M378.3 652H380.1M378.3 663.9H380.1" stroke="#3030f0" stroke-width="1" fill="none"/>
<rect x="378.5" y="657.25" width="1.4" height="1.4" fill="#2a2aee"/>
<path d="M402.4 566.3V579.3" stroke="#505050" stroke-width="1.2" fill="none"/>
<path d="M401.5 566.7H403.3M401.5 578.9H403.3" stroke="#222" stroke-width="1" fill="none"/>
<rect x="401.7" y="572.1" width="1.4" height="1.4" fill="#333"/>
<path d="M401.4 578.6V588.9" stroke="#505050" stroke-width="1.2" fill="none"/>
<path d="M400.5 579H402.3M400.5 588.5H402.3" stroke="#222" stroke-width="1" fill="none"/>
<rect x="400.7" y="583.05" width="1.4" height="1.4" fill="#333"/>
<circle cx="407.9" cy="590.4" r="1.4" fill="none" stroke="#ff0000" stroke-width="0.8"/>
<path d="M410.6 585.2V602.7" stroke="#505050" stroke-width="1.2" fill="none"/>
<path d="M409.7 585.6H411.5M409.7 602.3H411.5" stroke="#222" stroke-width="1" fill="none"/>
<rect x="409.9" y="593.25" width="1.4" height="1.4" fill="#333"/>
<path d="M413.5 582.3V597.8" stroke="#505050" stroke-width="1.2" fill="none"/>
<path d="M412.6 582.7H414.4M412.6 597.4H414.4" stroke="#222" stroke-width="1" fill="none"/>
<rect x="412.8" y="589.35" width="1.4" height="1.4" fill="#333"/>
<path d="M416.6 579.1V602.1" stroke="#505050" stroke-width="1.2" fill="none"/>
<path d="M415.7 579.5H417.5M415.7 601.7H417.5" stroke="#222" stroke-width="1" fill="none"/>
<rect x="415.9" y="589.9" width="1.4" height="1.4" fill="#333"/>
<path d="M418.3 576.8V599.8" stroke="#8a8a8a" stroke-width="1.6" fill="none"/>
<path d="M417.4 577.2H419.2M417.4 599.4H419.2" stroke="#444" stroke-width="1" fill="none"/>
<rect x="417.6" y="587.6" width="1.4" height="1.4" fill="#333"/>
<path d="M418.8 578V598" stroke="#505050" stroke-width="1.2" fill="none"/>
<path d="M417.9 578.4H419.7M417.9 597.6H419.7" stroke="#222" stroke-width="1" fill="none"/>
<rect x="418.1" y="587.3" width="1.4" height="1.4" fill="#333"/>
<path d="M420.3 563V576.8" stroke="#505050" stroke-width="1.2" fill="none"/>
<path d="M419.4 563.4H421.2M419.4 576.4H421.2" stroke="#222" stroke-width="1" fill="none"/>
<rect x="419.6" y="569.2" width="1.4" height="1.4" fill="#333"/>
<path d="M423.5 559.5V574.5" stroke="#505050" stroke-width="1.2" fill="none"/>
<path d="M422.6 559.9H424.4M422.6 574.1H424.4" stroke="#222" stroke-width="1" fill="none"/>
<rect x="422.8" y="566.3" width="1.4" height="1.4" fill="#333"/>
<path d="M423.5 580.2V603.2" stroke="#5a5aff" stroke-width="1.3" fill="none"/>
<path d="M422.6 580.6H424.4M422.6 602.8H424.4" stroke="#3030f0" stroke-width="1" fill="none"/>
<rect x="422.8" y="591" width="1.4" height="1.4" fill="#2a2aee"/>
<path d="M425.2 564.5V574.8" stroke="#5a5aff" stroke-width="1.3" fill="none"/>
<path d="M424.3 564.9H426.1M424.3 574.4H426.1" stroke="#3030f0" stroke-width="1" fill="none"/>
<rect x="424.5" y="568.95" width="1.4" height="1.4" fill="#2a2aee"/>
<path d="M425.8 574.5V583.7" stroke="#505050" stroke-width="1.2" fill="none"/>
<path d="M424.9 574.9H426.7M424.9 583.3H426.7" stroke="#222" stroke-width="1" fill="none"/>
<rect x="425.1" y="578.4" width="1.4" height="1.4" fill="#333"/>
<path d="M427.5 576.8V590.6" stroke="#505050" stroke-width="1.2" fill="none"/>
<path d="M426.6 577.2H428.4M426.6 590.2H428.4" stroke="#222" stroke-width="1" fill="none"/>
<rect x="426.8" y="583" width="1.4" height="1.4" fill="#333"/>
<path d="M429.8 550.3V557.2" stroke="#5a5aff" stroke-width="1.3" fill="none"/>
<path d="M428.9 550.7H430.7M428.9 556.8H430.7" stroke="#3030f0" stroke-width="1" fill="none"/>
<rect x="429.1" y="553.05" width="1.4" height="1.4" fill="#2a2aee"/>
<path d="M429.5 562.4V586" stroke="#5a5aff" stroke-width="1.3" fill="none"/>
<path d="M428.6 562.8H430.4M428.6 585.6H430.4" stroke="#3030f0" stroke-width="1" fill="none"/>
<rect x="428.8" y="573.5" width="1.4" height="1.4" fill="#2a2aee"/>
<path d="M431 583.7V594" stroke="#5a5aff" stroke-width="1.3" fill="none"/>
<path d="M430.1 584.1H431.9M430.1 593.6H431.9" stroke="#3030f0" stroke-width="1" fill="none"/>
<rect x="430.3" y="588.15" width="1.4" height="1.4" fill="#2a2aee"/>
<path d="M432.1 574.5V581.4" stroke="#5a5aff" stroke-width="1.3" fill="none"/>
<path d="M431.2 574.9H433M431.2 581H433" stroke="#3030f0" stroke-width="1" fill="none"/>
<rect x="431.4" y="577.25" width="1.4" height="1.4" fill="#2a2aee"/>
<path d="M432.9 547.5V558.4" stroke="#505050" stroke-width="1.2" fill="none"/>
<path d="M432 547.9H433.8M432 558H433.8" stroke="#222" stroke-width="1" fill="none"/>
<rect x="432.2" y="552.25" width="1.4" height="1.4" fill="#333"/>
<path d="M433.5 558.4V576.8" stroke="#505050" stroke-width="1.2" fill="none"/>
<path d="M432.6 558.8H434.4M432.6 576.4H434.4" stroke="#222" stroke-width="1" fill="none"/>
<rect x="432.8" y="566.9" width="1.4" height="1.4" fill="#333"/>
<path d="M435.6 555V574.5" stroke="#505050" stroke-width="1.2" fill="none"/>
<path d="M434.7 555.4H436.5M434.7 574.1H436.5" stroke="#222" stroke-width="1" fill="none"/>
<rect x="434.9" y="564.05" width="1.4" height="1.4" fill="#333"/>
<path d="M436.2 579.1V592.9" stroke="#5a5aff" stroke-width="1.3" fill="none"/>
<path d="M435.3 579.5H437.1M435.3 592.5H437.1" stroke="#3030f0" stroke-width="1" fill="none"/>
<rect x="435.5" y="585.3" width="1.4" height="1.4" fill="#2a2aee"/>
<path d="M436.9 554.4V588.5" stroke="#505050" stroke-width="1.2" fill="none"/>
<path d="M436 554.8H437.8M436 588.1H437.8" stroke="#222" stroke-width="1" fill="none"/>
<rect x="436.2" y="570.75" width="1.4" height="1.4" fill="#333"/>
<path d="M437.1 571V588.3" stroke="#505050" stroke-width="1.2" fill="none"/>
<path d="M436.2 571.4H438M436.2 587.9H438" stroke="#222" stroke-width="1" fill="none"/>
<rect x="436.4" y="578.95" width="1.4" height="1.4" fill="#333"/>
<path d="M438.2 560V573" stroke="#5a5aff" stroke-width="1.3" fill="none"/>
<path d="M437.3 560.4H439.1M437.3 572.6H439.1" stroke="#3030f0" stroke-width="1" fill="none"/>
<rect x="437.5" y="565.8" width="1.4" height="1.4" fill="#2a2aee"/>
<path d="M439.4 559.5V568.7" stroke="#5a5aff" stroke-width="1.3" fill="none"/>
<path d="M438.5 559.9H440.3M438.5 568.3H440.3" stroke="#3030f0" stroke-width="1" fill="none"/>
<rect x="438.7" y="563.4" width="1.4" height="1.4" fill="#2a2aee"/>
<path d="M440.5 572.2V588.3" stroke="#505050" stroke-width="1.2" fill="none"/>
<path d="M439.6 572.6H441.4M439.6 587.9H441.4" stroke="#222" stroke-width="1" fill="none"/>
<rect x="439.8" y="579.55" width="1.4" height="1.4" fill="#333"/>
<path d="M441 552.6V581.3" stroke="#505050" stroke-width="1.2" fill="none"/>
<path d="M440.1 553H441.9M440.1 580.9H441.9" stroke="#222" stroke-width="1" fill="none"/>
<rect x="440.3" y="566.25" width="1.4" height="1.4" fill="#333"/>
<path d="M441.3 551.5V563" stroke="#505050" stroke-width="1.2" fill="none"/>
<path d="M440.4 551.9H442.2M440.4 562.6H442.2" stroke="#222" stroke-width="1" fill="none"/>
<rect x="440.6" y="556.55" width="1.4" height="1.4" fill="#333"/>
<path d="M442.5 564V583" stroke="#5a5aff" stroke-width="1.3" fill="none"/>
<path d="M441.6 564.4H443.4M441.6 582.6H443.4" stroke="#3030f0" stroke-width="1" fill="none"/>
<rect x="441.8" y="572.8" width="1.4" height="1.4" fill="#2a2aee"/>
<path d="M444.1 556.2V586.7" stroke="#505050" stroke-width="1.2" fill="none"/>
<path d="M443.2 556.6H445M443.2 586.3H445" stroke="#222" stroke-width="1" fill="none"/>
<rect x="443.4" y="570.75" width="1.4" height="1.4" fill="#333"/>
<path d="M445.9 570.5V590.3" stroke="#505050" stroke-width="1.2" fill="none"/>
<path d="M445 570.9H446.8M445 589.9H446.8" stroke="#222" stroke-width="1" fill="none"/>
<rect x="445.2" y="579.7" width="1.4" height="1.4" fill="#333"/>
<path d="M446.5 563V585" stroke="#5a5aff" stroke-width="1.3" fill="none"/>
<path d="M445.6 563.4H447.4M445.6 584.6H447.4" stroke="#3030f0" stroke-width="1" fill="none"/>
<rect x="445.8" y="573.3" width="1.4" height="1.4" fill="#2a2aee"/>
<path d="M447.7 558V567" stroke="#5a5aff" stroke-width="1.3" fill="none"/>
<path d="M446.8 558.4H448.6M446.8 566.6H448.6" stroke="#3030f0" stroke-width="1" fill="none"/>
<rect x="447" y="561.8" width="1.4" height="1.4" fill="#2a2aee"/>
<path d="M448.6 568.7V584.9" stroke="#5a5aff" stroke-width="1.3" fill="none"/>
<path d="M447.7 569.1H449.5M447.7 584.5H449.5" stroke="#3030f0" stroke-width="1" fill="none"/>
<rect x="447.9" y="576.1" width="1.4" height="1.4" fill="#2a2aee"/>
<path d="M450.7 592.1V601.9" stroke="#505050" stroke-width="1.2" fill="none"/>
<path d="M449.8 592.5H451.6M449.8 601.5H451.6" stroke="#222" stroke-width="1" fill="none"/>
<rect x="450" y="596.3" width="1.4" height="1.4" fill="#333"/>
<path d="M451.5 573V588" stroke="#505050" stroke-width="1.2" fill="none"/>
<path d="M450.6 573.4H452.4M450.6 587.6H452.4" stroke="#222" stroke-width="1" fill="none"/>
<rect x="450.8" y="579.8" width="1.4" height="1.4" fill="#333"/>
<path d="M453.1 575.9V586.7" stroke="#505050" stroke-width="1.2" fill="none"/>
<path d="M452.2 576.3H454M452.2 586.3H454" stroke="#222" stroke-width="1" fill="none"/>
<rect x="452.4" y="580.6" width="1.4" height="1.4" fill="#333"/>
<path d="M456.7 575.9V599.2" stroke="#505050" stroke-width="1.2" fill="none"/>
<path d="M455.8 576.3H457.6M455.8 598.8H457.6" stroke="#222" stroke-width="1" fill="none"/>
<rect x="456" y="586.85" width="1.4" height="1.4" fill="#333"/>
<path d="M456.7 611.8V622.6" stroke="#505050" stroke-width="1.2" fill="none"/>
<path d="M455.8 612.2H457.6M455.8 622.2H457.6" stroke="#222" stroke-width="1" fill="none"/>
<rect x="456" y="616.5" width="1.4" height="1.4" fill="#333"/>
<circle cx="443.2" cy="566" r="1.4" fill="none" stroke="#ff0000" stroke-width="0.8"/>
<path d="M449.5 582.7L451.6 586.3L447.4 586.3Z" fill="#ff0000"/>
<circle cx="453.1" cy="588.1" r="1.6" fill="#ff0000"/>
<circle cx="454.9" cy="586.3" r="1.6" fill="#ff0000"/>
<path d="M451.8 591.3L456.2 595.7M456.2 591.3L451.8 595.7" stroke="#ff0000" stroke-width="0.9"/>
<path d="M454 567.4L456.1 569.5L454 571.6L451.9 569.5Z" fill="none" stroke="#7070ff" stroke-width="0.8"/>
<circle cx="456.7" cy="616.8" r="1.6" fill="#ff0000"/>
<path d="M453.6 649.8L455.5 651.7L453.6 653.6L451.7 651.7Z" fill="#ff0000"/>
<path d="M433.98 562.82V572.09" stroke="#505050" stroke-width="1.1" fill="none"/>
<path d="M433.08 563.22H434.88M433.08 571.69H434.88" stroke="#222" stroke-width="0.9" fill="none"/>
<path d="M436.05 580.31V591.74" stroke="#505050" stroke-width="1.1" fill="none"/>
<path d="M435.15 580.71H436.95M435.15 591.34H436.95" stroke="#222" stroke-width="0.9" fill="none"/>
<path d="M440.89 568.83V578.73" stroke="#505050" stroke-width="1.1" fill="none"/>
<path d="M439.99 569.23H441.79M439.99 578.33H441.79" stroke="#222" stroke-width="0.9" fill="none"/>
<path d="M436.71 564.14V579.32" stroke="#505050" stroke-width="1.1" fill="none"/>
<path d="M435.81 564.54H437.61M435.81 578.92H437.61" stroke="#222" stroke-width="0.9" fill="none"/>
<path d="M433.9 558.41V565.37" stroke="#505050" stroke-width="1.1" fill="none"/>
<path d="M433 558.81H434.8M433 564.97H434.8" stroke="#222" stroke-width="0.9" fill="none"/>
<path d="M437.67 558.36V572.01" stroke="#5a5aff" stroke-width="1.3" fill="none"/>
<path d="M446.61 578.6V588.32" stroke="#5a5aff" stroke-width="1.3" fill="none"/>
<path d="M441.64 560.91V575.52" stroke="#5a5aff" stroke-width="1.3" fill="none"/>
</g>
<g>
<path d="M279.37 542.61V546.9" stroke="#888" stroke-width="0.75"/>
<rect x="278.77" y="544.16" width="1.2" height="1.2" fill="#444"/>
<path d="M275.05 541.7V550.35" stroke="#7878ee" stroke-width="0.75"/>
<rect x="274.45" y="545.43" width="1.2" height="1.2" fill="#4848e8"/>
<path d="M304.74 543.49V549.47" stroke="#c4c4c4" stroke-width="0.75"/>
<path d="M287.64 532.49V540.19" stroke="#888" stroke-width="0.75"/>
<rect x="287.04" y="535.74" width="1.2" height="1.2" fill="#444"/>
<path d="M300.45 533.38V542.36" stroke="#a8a8a8" stroke-width="0.75"/>
<rect x="299.85" y="537.27" width="1.2" height="1.2" fill="#444"/>
<path d="M281.38 540.47V545.04" stroke="#a8a8a8" stroke-width="0.75"/>
<rect x="280.78" y="542.15" width="1.2" height="1.2" fill="#444"/>
<path d="M285.43 538.29V545" stroke="#7878ee" stroke-width="0.75"/>
<rect x="284.83" y="541.04" width="1.2" height="1.2" fill="#4848e8"/>
<path d="M273.23 541.45V550.52" stroke="#b8b8b8" stroke-width="0.75"/>
<rect x="272.63" y="545.38" width="1.2" height="1.2" fill="#444"/>
<path d="M279.35 543.47V546.55" stroke="#b8b8b8" stroke-width="0.75"/>
<rect x="278.75" y="544.41" width="1.2" height="1.2" fill="#444"/>
<path d="M291.13 546.41V550.44" stroke="#b8b8b8" stroke-width="0.75"/>
<rect x="290.53" y="547.83" width="1.2" height="1.2" fill="#444"/>
<path d="M278.7 541.81V553.08" stroke="#a0a0f4" stroke-width="0.75"/>
<rect x="278.1" y="546.85" width="1.2" height="1.2" fill="#4848e8"/>
<path d="M278.96 544.64V547.68" stroke="#a8a8a8" stroke-width="0.75"/>
<path d="M279.67 540.74V548.03" stroke="#c4c4c4" stroke-width="0.75"/>
<path d="M304.31 538.89V547.85" stroke="#969696" stroke-width="0.75"/>
<path d="M290.98 535.75V545.08" stroke="#b4b4f6" stroke-width="0.75"/>
<path d="M272.55 547.04V554.41" stroke="#7878ee" stroke-width="0.75"/>
<rect x="271.95" y="550.12" width="1.2" height="1.2" fill="#4848e8"/>
<path d="M272.99 548.69V554.5" stroke="#888" stroke-width="0.75"/>
<rect x="272.39" y="551" width="1.2" height="1.2" fill="#444"/>
<path d="M280.76 538.67V542.19" stroke="#969696" stroke-width="0.75"/>
<rect x="280.16" y="539.83" width="1.2" height="1.2" fill="#444"/>
<path d="M292.46 535.78V544.82" stroke="#969696" stroke-width="0.75"/>
<rect x="291.86" y="539.7" width="1.2" height="1.2" fill="#444"/>
<path d="M289.01 539.24V543.64" stroke="#b4b4f6" stroke-width="0.75"/>
<rect x="288.41" y="540.84" width="1.2" height="1.2" fill="#4848e8"/>
<path d="M274.04 545.85V553.07" stroke="#8c8cf0" stroke-width="0.75"/>
<rect x="273.44" y="548.86" width="1.2" height="1.2" fill="#4848e8"/>
<path d="M282.13 541.99V547.39" stroke="#c4c4c4" stroke-width="0.75"/>
<rect x="281.53" y="544.09" width="1.2" height="1.2" fill="#444"/>
<path d="M312.27 543.68V552.41" stroke="#a8a8a8" stroke-width="0.75"/>
<rect x="311.67" y="547.44" width="1.2" height="1.2" fill="#444"/>
<path d="M272.98 546.1V555.82" stroke="#a8a8a8" stroke-width="0.75"/>
<path d="M283.78 537.82V548.36" stroke="#c4c4c4" stroke-width="0.75"/>
<path d="M298.19 536.8V548.34" stroke="#7878ee" stroke-width="0.75"/>
<rect x="297.59" y="541.97" width="1.2" height="1.2" fill="#4848e8"/>
<path d="M279.73 544.14V548.16" stroke="#969696" stroke-width="0.75"/>
<path d="M278.32 542.72V546.4" stroke="#a8a8a8" stroke-width="0.75"/>
<path d="M293.87 538.59V546.19" stroke="#888" stroke-width="0.75"/>
<rect x="293.27" y="541.79" width="1.2" height="1.2" fill="#444"/>
<path d="M272.64 540.49V550.82" stroke="#8c8cf0" stroke-width="0.75"/>
<rect x="272.04" y="545.06" width="1.2" height="1.2" fill="#4848e8"/>
<path d="M276.77 545.09V549.29" stroke="#b8b8b8" stroke-width="0.75"/>
<rect x="276.17" y="546.59" width="1.2" height="1.2" fill="#444"/>
<path d="M272.52 542.83V554.26" stroke="#a8a8a8" stroke-width="0.75"/>
<rect x="271.92" y="547.94" width="1.2" height="1.2" fill="#444"/>
<path d="M316.62 550.89V556.45" stroke="#969696" stroke-width="0.75"/>
<path d="M287.51 543.32V547.52" stroke="#888" stroke-width="0.75"/>
<rect x="286.91" y="544.82" width="1.2" height="1.2" fill="#444"/>
<path d="M324.98 549.25V560.61" stroke="#888" stroke-width="0.75"/>
<rect x="324.38" y="554.33" width="1.2" height="1.2" fill="#444"/>
<path d="M322.32 545.92V556.15" stroke="#c4c4c4" stroke-width="0.75"/>
<path d="M292.45 533.76V542.5" stroke="#a8a8a8" stroke-width="0.75"/>
<rect x="291.85" y="537.53" width="1.2" height="1.2" fill="#444"/>
<path d="M301.64 538.49V543.43" stroke="#7878ee" stroke-width="0.75"/>
<path d="M282.96 538.98V548.66" stroke="#c4c4c4" stroke-width="0.75"/>
<rect x="282.36" y="543.22" width="1.2" height="1.2" fill="#444"/>
<path d="M319.84 543.11V555" stroke="#7878ee" stroke-width="0.75"/>
<rect x="319.24" y="548.45" width="1.2" height="1.2" fill="#4848e8"/>
<path d="M284.92 539.09V542.64" stroke="#888" stroke-width="0.75"/>
<rect x="284.32" y="540.27" width="1.2" height="1.2" fill="#444"/>
<path d="M282.8 536.08V545.91" stroke="#888" stroke-width="0.75"/>
<path d="M282.35 535.92V540.8" stroke="#888" stroke-width="0.75"/>
<path d="M274.2 547.21V552.03" stroke="#888" stroke-width="0.75"/>
<rect x="273.6" y="549.02" width="1.2" height="1.2" fill="#444"/>
<path d="M311.57 545.14V550.63" stroke="#7878ee" stroke-width="0.75"/>
<rect x="310.97" y="547.29" width="1.2" height="1.2" fill="#4848e8"/>
<path d="M272.6 544.46V555.34" stroke="#888" stroke-width="0.75"/>
<rect x="272" y="549.3" width="1.2" height="1.2" fill="#444"/>
<path d="M290.59 536.21V546.96" stroke="#b4b4f6" stroke-width="0.75"/>
<rect x="289.99" y="540.98" width="1.2" height="1.2" fill="#4848e8"/>
<path d="M276.45 543.12V547.22" stroke="#b8b8b8" stroke-width="0.75"/>
<rect x="275.85" y="544.57" width="1.2" height="1.2" fill="#444"/>
<path d="M293.85 540.26V548.96" stroke="#888" stroke-width="0.75"/>
<rect x="293.25" y="544.01" width="1.2" height="1.2" fill="#444"/>
<path d="M277.52 545.63V555.49" stroke="#b8b8b8" stroke-width="0.75"/>
<rect x="276.92" y="549.96" width="1.2" height="1.2" fill="#444"/>
<path d="M272.51 536.87V547.12" stroke="#969696" stroke-width="0.75"/>
<rect x="271.91" y="541.4" width="1.2" height="1.2" fill="#444"/>
<path d="M300.17 533.58V544.31" stroke="#969696" stroke-width="0.75"/>
<path d="M300.36 536.68V545.56" stroke="#888" stroke-width="0.75"/>
<path d="M293.92 536.11V546.26" stroke="#888" stroke-width="0.75"/>
<rect x="293.32" y="540.59" width="1.2" height="1.2" fill="#444"/>
<path d="M288.54 538.99V544.91" stroke="#b8b8b8" stroke-width="0.75"/>
<rect x="287.94" y="541.35" width="1.2" height="1.2" fill="#444"/>
<path d="M296.2 540.49V545.47" stroke="#888" stroke-width="0.75"/>
<rect x="295.6" y="542.38" width="1.2" height="1.2" fill="#444"/>
<path d="M280.29 538.83V549.56" stroke="#c4c4c4" stroke-width="0.75"/>
<rect x="279.69" y="543.6" width="1.2" height="1.2" fill="#444"/>
<path d="M291.27 538.08V545.8" stroke="#888" stroke-width="0.75"/>
<path d="M299.57 537.91V546.89" stroke="#969696" stroke-width="0.75"/>
<rect x="298.97" y="541.8" width="1.2" height="1.2" fill="#444"/>
<path d="M301.12 535.41V545.38" stroke="#7878ee" stroke-width="0.75"/>
<path d="M325.45 546.12V558.09" stroke="#a0a0f4" stroke-width="0.75"/>
<rect x="324.85" y="551.5" width="1.2" height="1.2" fill="#4848e8"/>
<path d="M277.82 543.36V551.85" stroke="#969696" stroke-width="0.75"/>
<rect x="277.22" y="547.01" width="1.2" height="1.2" fill="#444"/>
<path d="M276.51 542.7V550.82" stroke="#b4b4f6" stroke-width="0.75"/>
<rect x="275.91" y="546.16" width="1.2" height="1.2" fill="#4848e8"/>
<path d="M272.51 543.61V550.72" stroke="#b4b4f6" stroke-width="0.75"/>
<rect x="271.91" y="546.56" width="1.2" height="1.2" fill="#4848e8"/>
<path d="M325.97 550.17V558.69" stroke="#7878ee" stroke-width="0.75"/>
<rect x="325.37" y="553.83" width="1.2" height="1.2" fill="#4848e8"/>
<path d="M277.34 542.68V550.5" stroke="#b4b4f6" stroke-width="0.75"/>
<rect x="276.74" y="545.99" width="1.2" height="1.2" fill="#4848e8"/>
<path d="M277.25 541.46V549.36" stroke="#969696" stroke-width="0.75"/>
<rect x="276.65" y="544.81" width="1.2" height="1.2" fill="#444"/>
<path d="M327.48 549.52V554.76" stroke="#888" stroke-width="0.75"/>
<rect x="326.88" y="551.54" width="1.2" height="1.2" fill="#444"/>
<path d="M300.8 540.03V551.11" stroke="#969696" stroke-width="0.75"/>
<rect x="300.2" y="544.97" width="1.2" height="1.2" fill="#444"/>
<path d="M321.42 547.48V557.85" stroke="#969696" stroke-width="0.75"/>
<path d="M272.53 540.39V551.96" stroke="#8c8cf0" stroke-width="0.75"/>
<rect x="271.93" y="545.57" width="1.2" height="1.2" fill="#4848e8"/>
<path d="M272.77 543.1V549.94" stroke="#a8a8a8" stroke-width="0.75"/>
<rect x="272.17" y="545.92" width="1.2" height="1.2" fill="#444"/>
<path d="M280.67 535.92V544.69" stroke="#a0a0f4" stroke-width="0.75"/>
<path d="M272.53 549.91V553.79" stroke="#a0a0f4" stroke-width="0.75"/>
<rect x="271.93" y="551.25" width="1.2" height="1.2" fill="#4848e8"/>
<path d="M272.83 543.61V554.34" stroke="#c4c4c4" stroke-width="0.75"/>
<rect x="272.23" y="548.38" width="1.2" height="1.2" fill="#444"/>
<path d="M272.64 544.1V552.78" stroke="#888" stroke-width="0.75"/>
<rect x="272.04" y="547.84" width="1.2" height="1.2" fill="#444"/>
<path d="M277.82 540.59V549.35" stroke="#b4b4f6" stroke-width="0.75"/>
<rect x="277.22" y="544.37" width="1.2" height="1.2" fill="#4848e8"/>
<path d="M274.98 545.53V553.22" stroke="#8c8cf0" stroke-width="0.75"/>
<rect x="274.38" y="548.77" width="1.2" height="1.2" fill="#4848e8"/>
<path d="M288.9 535.59V547.39" stroke="#969696" stroke-width="0.75"/>
<rect x="288.3" y="540.89" width="1.2" height="1.2" fill="#444"/>
<path d="M277.52 543.18V554.5" stroke="#7878ee" stroke-width="0.75"/>
<circle cx="275.1" cy="548.9" r="0.95" fill="#ff0000"/>
<circle cx="307.2" cy="547.2" r="0.95" fill="#ff0000"/>
<circle cx="315.6" cy="548.7" r="0.95" fill="#ff0000"/>
<circle cx="321.5" cy="547.6" r="0.95" fill="#ff0000"/>
<circle cx="322" cy="558.2" r="0.95" fill="#ff0000"/>
<circle cx="328.3" cy="558.2" r="0.95" fill="#ff0000"/>
<circle cx="318.8" cy="570.4" r="0.95" fill="#ff0000"/>
<polyline points="275.5,548.9 283.6,541.5 290.3,541.5 297.1,542.4 305.1,542.4 313.1,548.9 319.4,549.7 327.9,552.1" fill="none" stroke="#ff8000" stroke-width="1.25" stroke-linejoin="round"/>
<circle cx="275.5" cy="548.9" r="1.15" fill="#ff6a00"/>
<circle cx="283.6" cy="541.5" r="1.15" fill="#ff6a00"/>
<circle cx="290.3" cy="541.5" r="1.15" fill="#ff6a00"/>
<circle cx="297.1" cy="542.4" r="1.15" fill="#ff6a00"/>
<circle cx="305.1" cy="542.4" r="1.15" fill="#ff6a00"/>
<circle cx="313.1" cy="548.9" r="1.15" fill="#ff6a00"/>
<circle cx="319.4" cy="549.7" r="1.15" fill="#ff6a00"/>
<circle cx="327.9" cy="552.1" r="1.15" fill="#ff6a00"/>
<path d="M269.5 577.7H350.3V527.3" stroke="#b4b4b4" stroke-width="1" fill="none"/>
<path d="M350.3 574.55h-1.2" stroke="#aaa" stroke-width="0.6"/>
<path d="M350.3 559.85h-1.2" stroke="#aaa" stroke-width="0.6"/>
<path d="M350.3 545.15h-1.2" stroke="#aaa" stroke-width="0.6"/>
<path d="M350.3 530.45h-1.2" stroke="#aaa" stroke-width="0.6"/>
<path d="M273 577.7v-1.5" stroke="#999" stroke-width="0.7"/>
<text x="273" y="583.6" font-size="5.4" font-weight="bold" text-anchor="middle" style="stroke-width:0.1px">0.0</text>
<path d="M310.1 577.7v-1.5" stroke="#999" stroke-width="0.7"/>
<text x="310.1" y="583.6" font-size="5.4" font-weight="bold" text-anchor="middle" style="stroke-width:0.1px">0.5</text>
<path d="M347.2 577.7v-1.5" stroke="#999" stroke-width="0.7"/>
<text x="347.2" y="583.6" font-size="5.4" font-weight="bold" text-anchor="middle" style="stroke-width:0.1px">1.0</text>
<path d="M350.3 567.2h-1.5" stroke="#999" stroke-width="0.7"/>
<text x="351.6" y="569.1" font-size="5.4" font-weight="bold" style="stroke-width:0.12px">1.5</text>
<path d="M350.3 552.5h-1.5" stroke="#999" stroke-width="0.7"/>
<text x="351.6" y="554.4" font-size="5.4" font-weight="bold" style="stroke-width:0.12px">2.0</text>
<path d="M350.3 537.8h-1.5" stroke="#999" stroke-width="0.7"/>
<text x="351.6" y="539.7" font-size="5.4" font-weight="bold" style="stroke-width:0.12px">2.5</text>
</g>
<rect x="269.5" y="527.3" width="203" height="144.15" fill="none" stroke="#222" stroke-width="1"/>
<path d="M267.1 642.6H269.5M472.5 642.6h-3" stroke="#222" stroke-width="0.9"/>
<text x="265.7" y="645.1" font-size="7.2" text-anchor="end">1.5</text>
<path d="M267.1 601.45H269.5M472.5 601.45h-3" stroke="#222" stroke-width="0.9"/>
<text x="265.7" y="603.95" font-size="7.2" text-anchor="end">2.0</text>
<path d="M267.1 560.3H269.5M472.5 560.3h-3" stroke="#222" stroke-width="0.9"/>
<text x="265.7" y="562.8" font-size="7.2" text-anchor="end">2.5</text>
<path d="M267.5 663.17H269.5M472.5 663.17h-2" stroke="#222" stroke-width="0.9"/>
<path d="M267.5 622.02H269.5M472.5 622.02h-2" stroke="#222" stroke-width="0.9"/>
<path d="M267.5 580.88H269.5M472.5 580.88h-2" stroke="#222" stroke-width="0.9"/>
<path d="M267.5 539.72H269.5M472.5 539.72h-2" stroke="#222" stroke-width="0.9"/>
<path d="M280.3 671.45v2.8" stroke="#222" stroke-width="0.9"/>
<text x="280.3" y="681.25" font-size="6.8" text-anchor="middle">1E-5</text>
<path d="M316.54 671.45v2.8" stroke="#222" stroke-width="0.9"/>
<text x="316.54" y="681.25" font-size="6.8" text-anchor="middle">1E-4</text>
<path d="M352.78 671.45v2.8" stroke="#222" stroke-width="0.9"/>
<text x="352.78" y="681.25" font-size="6.8" text-anchor="middle">1E-3</text>
<path d="M389.02 671.45v2.8" stroke="#222" stroke-width="0.9"/>
<text x="389.02" y="681.25" font-size="6.8" text-anchor="middle">0.01</text>
<path d="M425.26 671.45v2.8" stroke="#222" stroke-width="0.9"/>
<text x="425.26" y="681.25" font-size="6.8" text-anchor="middle">0.1</text>
<path d="M461.5 671.45v2.8" stroke="#222" stroke-width="0.9"/>
<text x="461.5" y="681.25" font-size="6.8" text-anchor="middle">1</text>
<path d="M280.3 527.3v2.6" stroke="#222" stroke-width="0.9"/>
<path d="M316.5 527.3v2.6" stroke="#222" stroke-width="0.9"/>
<path d="M352.8 527.3v2.6" stroke="#222" stroke-width="0.9"/>
<path d="M389 527.3v2.6" stroke="#222" stroke-width="0.9"/>
<path d="M425.3 527.3v2.6" stroke="#222" stroke-width="0.9"/>
<path d="M461.5 527.3v2.6" stroke="#222" stroke-width="0.9"/>
<text transform="translate(250.4,603.8) rotate(-90)" font-size="7.3" text-anchor="middle" textLength="56" lengthAdjust="spacingAndGlyphs">log[W(6613)/Ebv]</text>
<text x="367.9" y="693.1" font-size="8.0">f<tspan font-size="4.3" dy="2.9" style="stroke-width:0.2px">H2</tspan></text>
<text x="406.5" y="541.5" font-size="14.2">H</text>
<text x="420.7" y="541.6" font-size="7.8" textLength="38.74" lengthAdjust="spacingAndGlyphs">(93 points)</text>
</svg>
</body></html>
